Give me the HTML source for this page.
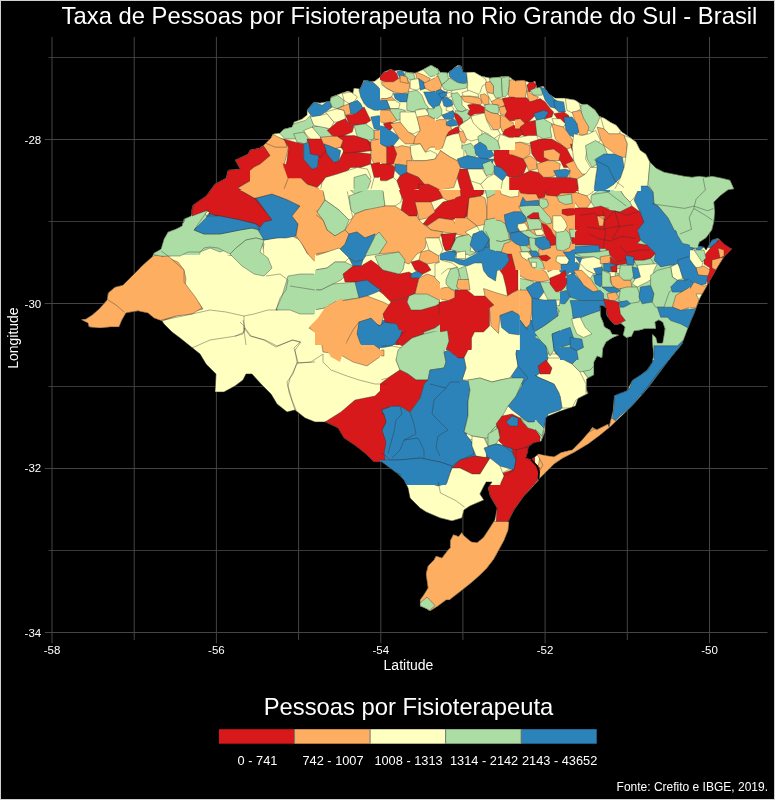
<!DOCTYPE html>
<html><head><meta charset="utf-8"><style>
html,body{margin:0;padding:0;background:#000;width:775px;height:800px;overflow:hidden}
svg{display:block;will-change:transform}
text{font-family:"Liberation Sans",sans-serif;fill:#fff}
</style></head><body>
<svg width="775" height="800" viewBox="0 0 775 800">
<rect x="0" y="0" width="775" height="800" fill="#000"/>
<rect x="0.5" y="0.5" width="774" height="799" fill="none" stroke="#d0d0d0" stroke-width="1"/>

<line x1="48.5" y1="57.5" x2="767.5" y2="57.5" stroke="#393939" stroke-width="1"/>
<line x1="44.8" y1="139.5" x2="767.5" y2="139.5" stroke="#444" stroke-width="1"/>
<line x1="48.5" y1="221.5" x2="767.5" y2="221.5" stroke="#393939" stroke-width="1"/>
<line x1="44.8" y1="303.5" x2="767.5" y2="303.5" stroke="#444" stroke-width="1"/>
<line x1="48.5" y1="386.5" x2="767.5" y2="386.5" stroke="#393939" stroke-width="1"/>
<line x1="44.8" y1="468.5" x2="767.5" y2="468.5" stroke="#444" stroke-width="1"/>
<line x1="48.5" y1="550.5" x2="767.5" y2="550.5" stroke="#393939" stroke-width="1"/>
<line x1="44.8" y1="632.5" x2="767.5" y2="632.5" stroke="#444" stroke-width="1"/>
<line x1="52.0" y1="37" x2="52.0" y2="643.3" stroke="#444" stroke-width="1"/>
<line x1="134.2" y1="37" x2="134.2" y2="640" stroke="#444" stroke-width="1"/>
<line x1="216.4" y1="37" x2="216.4" y2="643.3" stroke="#444" stroke-width="1"/>
<line x1="298.6" y1="37" x2="298.6" y2="640" stroke="#444" stroke-width="1"/>
<line x1="380.8" y1="37" x2="380.8" y2="643.3" stroke="#444" stroke-width="1"/>
<line x1="462.9" y1="37" x2="462.9" y2="640" stroke="#444" stroke-width="1"/>
<line x1="545.1" y1="37" x2="545.1" y2="643.3" stroke="#444" stroke-width="1"/>
<line x1="627.3" y1="37" x2="627.3" y2="640" stroke="#444" stroke-width="1"/>
<line x1="709.5" y1="37" x2="709.5" y2="643.3" stroke="#444" stroke-width="1"/>
<text x="41.2" y="143.7" font-size="11.5" text-anchor="end" fill="#ddd">-28</text>
<text x="41.2" y="308.0" font-size="11.5" text-anchor="end" fill="#ddd">-30</text>
<text x="41.2" y="472.4" font-size="11.5" text-anchor="end" fill="#ddd">-32</text>
<text x="41.2" y="636.7" font-size="11.5" text-anchor="end" fill="#ddd">-34</text>
<text x="52.0" y="654" font-size="11.5" text-anchor="middle" fill="#ddd">-58</text>
<text x="216.4" y="654" font-size="11.5" text-anchor="middle" fill="#ddd">-56</text>
<text x="380.8" y="654" font-size="11.5" text-anchor="middle" fill="#ddd">-54</text>
<text x="545.1" y="654" font-size="11.5" text-anchor="middle" fill="#ddd">-52</text>
<text x="709.5" y="654" font-size="11.5" text-anchor="middle" fill="#ddd">-50</text>
<text x="408.5" y="669.8" font-size="14" text-anchor="middle">Latitude</text>
<text transform="translate(17.5,338.1) rotate(-90)" x="0" y="0" font-size="14" text-anchor="middle">Longitude</text>
<text x="409.5" y="23.7" font-size="23.8" text-anchor="middle">Taxa de Pessoas por Fisioterapeuta no Rio Grande do Sul - Brasil</text>
<text x="408.5" y="715" font-size="23.8" text-anchor="middle">Pessoas por Fisioterapeuta</text>
<text x="768" y="791" font-size="12" text-anchor="end">Fonte: Crefito e IBGE, 2019.</text>
<rect x="219.00" y="729.2" width="75.54" height="14.5" fill="#d7191c"/>
<rect x="294.54" y="729.2" width="75.54" height="14.5" fill="#fdae61"/>
<rect x="370.08" y="729.2" width="75.54" height="14.5" fill="#ffffbf"/>
<rect x="445.62" y="729.2" width="75.54" height="14.5" fill="#abdda4"/>
<rect x="521.16" y="729.2" width="75.54" height="14.5" fill="#2b83ba"/>
<line x1="294.54" y1="729.2" x2="294.54" y2="743.7" stroke="#777" stroke-width="1"/>
<line x1="370.08" y1="729.2" x2="370.08" y2="743.7" stroke="#777" stroke-width="1"/>
<line x1="445.62" y1="729.2" x2="445.62" y2="743.7" stroke="#777" stroke-width="1"/>
<line x1="521.16" y1="729.2" x2="521.16" y2="743.7" stroke="#777" stroke-width="1"/>
<text x="257.47" y="764.8" font-size="12.8" text-anchor="middle">0 - 741</text>
<text x="333.01" y="764.8" font-size="12.8" text-anchor="middle">742 - 1007</text>
<text x="408.55" y="764.8" font-size="12.8" text-anchor="middle">1008 - 1313</text>
<text x="484.09" y="764.8" font-size="12.8" text-anchor="middle">1314 - 2142</text>
<text x="559.63" y="764.8" font-size="12.8" text-anchor="middle">2143 - 43652</text>
<defs><style>.s{fill:none;stroke:#333;stroke-width:0.4;stroke-linejoin:round}</style><clipPath id="st"><path d="M81.0,319.6 L86.0,319.0 L92.0,315.0 L99.0,309.0 L107.0,300.0 L108.0,293.0 L115.0,287.0 L123.0,285.0 L132.0,276.0 L143.0,265.0 L152.0,257.0 L154.0,253.0 L161.0,249.0 L164.0,239.0 L168.0,232.0 L176.0,229.0 L182.0,226.0 L184.0,219.0 L191.0,216.0 L192.0,208.0 L193.0,205.0 L206.0,196.0 L215.0,184.0 L226.0,178.0 L228.0,170.0 L240.0,169.0 L235.0,160.0 L248.0,154.0 L250.0,150.0 L260.0,148.0 L264.0,145.0 L271.0,138.0 L273.0,134.0 L280.0,133.0 L284.0,129.0 L292.0,127.0 L294.0,122.0 L302.0,119.0 L307.0,115.0 L307.0,110.0 L314.0,102.0 L320.0,103.0 L330.0,101.0 L331.0,97.0 L342.0,93.0 L348.0,91.0 L353.0,93.0 L354.0,88.0 L360.0,89.0 L364.0,80.0 L369.0,81.0 L375.0,81.0 L380.0,77.0 L384.0,72.0 L391.0,69.0 L394.0,71.0 L399.0,70.0 L407.0,72.0 L415.0,73.0 L422.0,70.0 L424.0,69.0 L431.0,65.0 L438.0,69.0 L440.0,72.0 L448.0,73.0 L458.0,65.0 L461.0,66.0 L463.0,72.0 L467.0,72.0 L474.0,72.0 L481.0,76.0 L490.0,78.0 L499.0,77.0 L508.0,76.0 L515.0,81.0 L523.0,80.0 L531.0,83.0 L535.0,81.0 L537.0,88.0 L543.0,86.0 L549.0,94.0 L555.0,98.0 L564.0,98.0 L575.0,100.0 L581.0,104.0 L587.0,104.0 L595.0,110.0 L599.0,116.0 L604.0,118.0 L610.0,122.0 L616.0,125.0 L622.0,132.0 L628.0,136.0 L636.0,142.0 L640.0,150.0 L646.0,154.0 L650.0,162.0 L656.0,168.0 L664.0,172.0 L674.0,174.0 L684.0,176.0 L692.0,177.0 L699.0,176.0 L706.0,177.0 L712.0,176.0 L722.0,178.0 L730.0,180.0 L734.0,189.0 L728.0,190.0 L720.0,196.0 L714.0,202.0 L715.0,212.0 L714.0,222.0 L712.0,230.0 L706.0,238.0 L700.0,242.0 L698.0,246.0 L704.0,247.0 L706.0,250.0 L712.0,240.0 L718.0,238.0 L724.0,244.0 L730.0,248.0 L732.0,249.0 L724.0,257.0 L716.0,270.0 L708.0,284.0 L700.0,298.0 L694.0,314.0 L688.0,328.0 L682.0,344.0 L672.0,356.0 L660.0,372.0 L648.0,388.0 L632.0,406.0 L610.8,426.3 L599.5,435.5 L588.1,444.0 L573.9,452.5 L562.6,458.2 L554.1,463.9 L545.5,472.4 L538.5,479.5 L539.0,480.0 L524.0,496.0 L514.0,510.0 L508.0,522.0 L509.2,520.0 L508.1,530.3 L504.0,540.6 L498.8,549.9 L493.7,559.2 L486.5,568.5 L479.2,575.7 L471.0,583.0 L460.6,591.2 L449.3,600.0 L446.0,600.0 L438.0,606.0 L430.0,611.0 L427.0,609.0 L420.0,606.0 L420.0,600.0 L423.0,596.0 L428.0,588.0 L426.0,574.0 L428.0,566.0 L434.0,560.0 L436.0,556.0 L442.0,558.0 L448.0,550.0 L450.3,547.9 L450.3,540.6 L453.4,534.5 L458.6,536.5 L461.7,532.4 L463.7,535.5 L471.0,541.7 L477.2,542.7 L483.4,537.5 L489.5,528.3 L494.7,520.0 L497.0,508.0 L490.0,496.0 L488.0,488.0 L492.0,482.0 L486.0,482.0 L480.0,494.0 L484.0,500.0 L470.0,506.0 L464.0,510.0 L462.0,518.0 L452.0,521.0 L440.0,518.0 L426.0,512.0 L420.0,508.0 L418.0,506.0 L410.0,498.0 L408.0,488.0 L404.0,480.0 L398.0,474.0 L390.0,468.0 L382.0,462.0 L374.0,462.0 L366.0,454.0 L356.0,446.0 L344.0,438.0 L338.0,428.0 L325.0,422.0 L325.0,422.0 L315.0,422.0 L305.0,418.0 L295.0,410.0 L287.0,412.0 L277.0,404.0 L271.0,394.0 L261.0,384.0 L252.0,374.0 L246.0,374.0 L243.0,380.0 L235.0,386.0 L224.0,392.0 L215.0,392.0 L216.0,374.0 L206.0,364.0 L200.0,354.0 L190.0,346.0 L180.0,338.0 L172.0,332.0 L164.0,324.0 L162.0,321.0 L154.0,318.0 L148.0,313.0 L138.0,311.0 L126.0,313.0 L122.0,320.0 L119.0,327.0 L110.0,327.0 L100.0,328.0 L89.0,327.0 L88.0,323.0Z M600.0,305.5 L603.0,305.5 L606.0,308.0 L607.0,316.0 L611.0,321.0 L615.0,325.0 L621.0,323.5 L625.0,327.0 L624.0,331.0 L623.0,335.0 L626.5,337.7 L631.6,336.5 L634.0,331.0 L640.6,330.0 L644.5,328.7 L650.0,328.7 L656.0,328.7 L655.0,322.0 L658.7,320.0 L662.6,322.0 L665.0,328.7 L664.0,335.0 L662.6,343.0 L657.4,343.0 L656.0,337.7 L652.3,334.0 L652.3,341.6 L653.5,354.5 L652.3,362.3 L647.0,370.0 L640.6,375.0 L632.3,380.3 L627.1,390.6 L614.2,395.8 L612.9,411.3 L609.0,426.8 L608.0,424.1 L596.7,429.8 L592.4,427.0 L589.6,431.2 L581.0,441.2 L572.5,449.7 L561.2,452.5 L554.1,456.8 L545.5,455.4 L538.5,453.9 L531.4,459.6 L525.7,458.2 L527.1,453.9 L528.5,446.8 L534.2,442.6 L541.3,441.2 L544.8,432.6 L545.5,418.5 L547.1,416.5 L560.0,411.3 L575.5,406.1 L578.1,398.4 L588.4,393.2 L586.5,390.0 L586.5,379.0 L594.0,375.0 L594.0,362.0 L597.0,356.0 L602.0,358.0 L603.0,348.0 L606.0,342.0 L612.0,338.0 L619.0,335.0 L612.0,334.0 L610.0,330.0 L604.5,327.0 L603.0,322.0 L600.6,316.0Z" clip-rule="evenodd"/></clipPath><clipPath id="t0"><rect x="81.2" y="201.2" width="152.6" height="152.6"/></clipPath><clipPath id="t1"><rect x="181.2" y="101.2" width="152.6" height="152.6"/></clipPath><clipPath id="t2"><rect x="301.2" y="41.2" width="152.6" height="152.6"/></clipPath><clipPath id="t3"><rect x="456.2" y="41.2" width="152.6" height="152.6"/></clipPath><clipPath id="t4"><rect x="601.2" y="101.2" width="152.6" height="152.6"/></clipPath><clipPath id="t5"><rect x="601.2" y="241.2" width="152.6" height="152.6"/></clipPath><clipPath id="t6"><rect x="521.2" y="321.2" width="152.6" height="152.6"/></clipPath><clipPath id="t7"><rect x="481.2" y="241.2" width="152.6" height="152.6"/></clipPath><clipPath id="t8"><rect x="421.2" y="421.2" width="152.6" height="152.6"/></clipPath><clipPath id="t9"><rect x="381.2" y="541.2" width="152.6" height="152.6"/></clipPath><clipPath id="t10"><rect x="291.2" y="421.2" width="152.6" height="152.6"/></clipPath><clipPath id="t11"><rect x="236.2" y="321.2" width="152.6" height="152.6"/></clipPath><clipPath id="t12"><rect x="161.2" y="191.2" width="152.6" height="152.6"/></clipPath><clipPath id="t13"><rect x="316.2" y="191.2" width="152.6" height="152.6"/></clipPath><clipPath id="t14"><rect x="456.2" y="181.2" width="152.6" height="152.6"/></clipPath><clipPath id="t15"><rect x="381.2" y="331.2" width="152.6" height="152.6"/></clipPath><clipPath id="t17"><rect x="441.2" y="231.2" width="77.546002699865" height="117.594000299985"/></clipPath><clipPath id="t18"><rect x="251.2" y="61.2" width="127.63355704697986" height="127.63355704697986"/></clipPath><clipPath id="t19"><rect x="381.2" y="61.2" width="127.63355704697986" height="127.63355704697986"/></clipPath><clipPath id="t20"><rect x="511.2" y="61.2" width="127.63355704697986" height="127.63355704697986"/></clipPath><clipPath id="t21"><rect x="561.2" y="231.2" width="127.63355704697986" height="127.63355704697986"/></clipPath><clipPath id="t22"><rect x="436.2" y="61.2" width="77.6" height="87.61406469760901"/></clipPath><clipPath id="t23"><rect x="496.2" y="191.2" width="77.6" height="77.6"/></clipPath></defs>
<path d="M81.0,319.6 L86.0,319.0 L92.0,315.0 L99.0,309.0 L107.0,300.0 L108.0,293.0 L115.0,287.0 L123.0,285.0 L132.0,276.0 L143.0,265.0 L152.0,257.0 L154.0,253.0 L161.0,249.0 L164.0,239.0 L168.0,232.0 L176.0,229.0 L182.0,226.0 L184.0,219.0 L191.0,216.0 L192.0,208.0 L193.0,205.0 L206.0,196.0 L215.0,184.0 L226.0,178.0 L228.0,170.0 L240.0,169.0 L235.0,160.0 L248.0,154.0 L250.0,150.0 L260.0,148.0 L264.0,145.0 L271.0,138.0 L273.0,134.0 L280.0,133.0 L284.0,129.0 L292.0,127.0 L294.0,122.0 L302.0,119.0 L307.0,115.0 L307.0,110.0 L314.0,102.0 L320.0,103.0 L330.0,101.0 L331.0,97.0 L342.0,93.0 L348.0,91.0 L353.0,93.0 L354.0,88.0 L360.0,89.0 L364.0,80.0 L369.0,81.0 L375.0,81.0 L380.0,77.0 L384.0,72.0 L391.0,69.0 L394.0,71.0 L399.0,70.0 L407.0,72.0 L415.0,73.0 L422.0,70.0 L424.0,69.0 L431.0,65.0 L438.0,69.0 L440.0,72.0 L448.0,73.0 L458.0,65.0 L461.0,66.0 L463.0,72.0 L467.0,72.0 L474.0,72.0 L481.0,76.0 L490.0,78.0 L499.0,77.0 L508.0,76.0 L515.0,81.0 L523.0,80.0 L531.0,83.0 L535.0,81.0 L537.0,88.0 L543.0,86.0 L549.0,94.0 L555.0,98.0 L564.0,98.0 L575.0,100.0 L581.0,104.0 L587.0,104.0 L595.0,110.0 L599.0,116.0 L604.0,118.0 L610.0,122.0 L616.0,125.0 L622.0,132.0 L628.0,136.0 L636.0,142.0 L640.0,150.0 L646.0,154.0 L650.0,162.0 L656.0,168.0 L664.0,172.0 L674.0,174.0 L684.0,176.0 L692.0,177.0 L699.0,176.0 L706.0,177.0 L712.0,176.0 L722.0,178.0 L730.0,180.0 L734.0,189.0 L728.0,190.0 L720.0,196.0 L714.0,202.0 L715.0,212.0 L714.0,222.0 L712.0,230.0 L706.0,238.0 L700.0,242.0 L698.0,246.0 L704.0,247.0 L706.0,250.0 L712.0,240.0 L718.0,238.0 L724.0,244.0 L730.0,248.0 L732.0,249.0 L724.0,257.0 L716.0,270.0 L708.0,284.0 L700.0,298.0 L694.0,314.0 L688.0,328.0 L682.0,344.0 L672.0,356.0 L660.0,372.0 L648.0,388.0 L632.0,406.0 L610.8,426.3 L599.5,435.5 L588.1,444.0 L573.9,452.5 L562.6,458.2 L554.1,463.9 L545.5,472.4 L538.5,479.5 L539.0,480.0 L524.0,496.0 L514.0,510.0 L508.0,522.0 L509.2,520.0 L508.1,530.3 L504.0,540.6 L498.8,549.9 L493.7,559.2 L486.5,568.5 L479.2,575.7 L471.0,583.0 L460.6,591.2 L449.3,600.0 L446.0,600.0 L438.0,606.0 L430.0,611.0 L427.0,609.0 L420.0,606.0 L420.0,600.0 L423.0,596.0 L428.0,588.0 L426.0,574.0 L428.0,566.0 L434.0,560.0 L436.0,556.0 L442.0,558.0 L448.0,550.0 L450.3,547.9 L450.3,540.6 L453.4,534.5 L458.6,536.5 L461.7,532.4 L463.7,535.5 L471.0,541.7 L477.2,542.7 L483.4,537.5 L489.5,528.3 L494.7,520.0 L497.0,508.0 L490.0,496.0 L488.0,488.0 L492.0,482.0 L486.0,482.0 L480.0,494.0 L484.0,500.0 L470.0,506.0 L464.0,510.0 L462.0,518.0 L452.0,521.0 L440.0,518.0 L426.0,512.0 L420.0,508.0 L418.0,506.0 L410.0,498.0 L408.0,488.0 L404.0,480.0 L398.0,474.0 L390.0,468.0 L382.0,462.0 L374.0,462.0 L366.0,454.0 L356.0,446.0 L344.0,438.0 L338.0,428.0 L325.0,422.0 L325.0,422.0 L315.0,422.0 L305.0,418.0 L295.0,410.0 L287.0,412.0 L277.0,404.0 L271.0,394.0 L261.0,384.0 L252.0,374.0 L246.0,374.0 L243.0,380.0 L235.0,386.0 L224.0,392.0 L215.0,392.0 L216.0,374.0 L206.0,364.0 L200.0,354.0 L190.0,346.0 L180.0,338.0 L172.0,332.0 L164.0,324.0 L162.0,321.0 L154.0,318.0 L148.0,313.0 L138.0,311.0 L126.0,313.0 L122.0,320.0 L119.0,327.0 L110.0,327.0 L100.0,328.0 L89.0,327.0 L88.0,323.0Z M600.0,305.5 L603.0,305.5 L606.0,308.0 L607.0,316.0 L611.0,321.0 L615.0,325.0 L621.0,323.5 L625.0,327.0 L624.0,331.0 L623.0,335.0 L626.5,337.7 L631.6,336.5 L634.0,331.0 L640.6,330.0 L644.5,328.7 L650.0,328.7 L656.0,328.7 L655.0,322.0 L658.7,320.0 L662.6,322.0 L665.0,328.7 L664.0,335.0 L662.6,343.0 L657.4,343.0 L656.0,337.7 L652.3,334.0 L652.3,341.6 L653.5,354.5 L652.3,362.3 L647.0,370.0 L640.6,375.0 L632.3,380.3 L627.1,390.6 L614.2,395.8 L612.9,411.3 L609.0,426.8 L608.0,424.1 L596.7,429.8 L592.4,427.0 L589.6,431.2 L581.0,441.2 L572.5,449.7 L561.2,452.5 L554.1,456.8 L545.5,455.4 L538.5,453.9 L531.4,459.6 L525.7,458.2 L527.1,453.9 L528.5,446.8 L534.2,442.6 L541.3,441.2 L544.8,432.6 L545.5,418.5 L547.1,416.5 L560.0,411.3 L575.5,406.1 L578.1,398.4 L588.4,393.2 L586.5,390.0 L586.5,379.0 L594.0,375.0 L594.0,362.0 L597.0,356.0 L602.0,358.0 L603.0,348.0 L606.0,342.0 L612.0,338.0 L619.0,335.0 L612.0,334.0 L610.0,330.0 L604.5,327.0 L603.0,322.0 L600.6,316.0Z" fill="#ffffbf" fill-rule="evenodd"/>
<g clip-path="url(#st)">
<polygon points="80.0,319.6 92.0,315.0 99.0,309.0 107.0,300.0 108.0,293.0 115.0,287.0 123.0,285.0 132.0,276.0 143.0,265.0 152.0,257.0 155.0,255.0 166.0,257.0 178.0,262.0 184.0,270.0 186.0,279.0 185.0,286.0 190.0,294.0 198.0,302.0 203.0,309.0 192.0,312.0 176.0,316.0 162.0,321.0 154.0,318.0 148.0,313.0 138.0,311.0 126.0,313.0 122.0,320.0 119.0,328.0 100.0,330.0 89.0,328.0 80.0,324.0" fill="#fdae61"/><polygon points="80.0,319.6 92.0,315.0 99.0,309.0 107.0,300.0 108.0,293.0 115.0,287.0 123.0,285.0 132.0,276.0 143.0,265.0 152.0,257.0 155.0,255.0 166.0,257.0 178.0,262.0 184.0,270.0 186.0,279.0 185.0,286.0 190.0,294.0 198.0,302.0 203.0,309.0 192.0,312.0 176.0,316.0 162.0,321.0 154.0,318.0 148.0,313.0 138.0,311.0 126.0,313.0 122.0,320.0 119.0,328.0 100.0,330.0 89.0,328.0 80.0,324.0" class="s" clip-path="url(#t0)"/>
<polygon points="150.0,254.0 161.0,249.0 164.0,239.0 168.0,232.0 182.0,226.0 184.0,219.0 191.0,216.0 200.0,212.0 208.0,210.0 195.0,229.0 202.0,234.0 224.0,234.0 235.0,232.0 235.0,256.0 228.0,255.0 220.0,251.0 212.0,247.0 204.0,249.0 196.0,253.0 188.0,254.0 176.0,254.0 166.0,257.0 155.0,255.0" fill="#abdda4"/><polygon points="150.0,254.0 161.0,249.0 164.0,239.0 168.0,232.0 182.0,226.0 184.0,219.0 191.0,216.0 200.0,212.0 208.0,210.0 195.0,229.0 202.0,234.0 224.0,234.0 235.0,232.0 235.0,256.0 228.0,255.0 220.0,251.0 212.0,247.0 204.0,249.0 196.0,253.0 188.0,254.0 176.0,254.0 166.0,257.0 155.0,255.0" class="s" clip-path="url(#t0)"/>
<polygon points="195.0,229.0 210.0,212.0 220.0,216.0 235.0,220.0 235.0,232.0 224.0,234.0 202.0,234.0" fill="#2b83ba"/><polygon points="195.0,229.0 210.0,212.0 220.0,216.0 235.0,220.0 235.0,232.0 224.0,234.0 202.0,234.0" class="s" clip-path="url(#t0)"/>
<polygon points="191.0,216.0 192.0,208.0 200.0,202.0 204.0,200.0 235.0,200.0 235.0,220.0 220.0,216.0 210.0,212.0 208.0,210.0 200.0,212.0" fill="#d7191c"/><polygon points="191.0,216.0 192.0,208.0 200.0,202.0 204.0,200.0 235.0,200.0 235.0,220.0 220.0,216.0 210.0,212.0 208.0,210.0 200.0,212.0" class="s" clip-path="url(#t0)"/>
<polygon points="180.0,222.0 184.0,218.0 192.0,216.0 204.0,210.0 208.0,220.0 195.0,229.0 204.0,234.0 250.0,232.0 260.0,236.0 264.0,244.0 262.0,255.0 180.0,255.0" fill="#abdda4"/><polygon points="180.0,222.0 184.0,218.0 192.0,216.0 204.0,210.0 208.0,220.0 195.0,229.0 204.0,234.0 250.0,232.0 260.0,236.0 264.0,244.0 262.0,255.0 180.0,255.0" class="s" clip-path="url(#t1)"/>
<polygon points="200.0,255.0 200.0,252.0 210.0,248.0 220.0,252.0 230.0,248.0 246.0,244.0 262.0,240.0 264.0,255.0" fill="#ffffbf"/><polygon points="200.0,255.0 200.0,252.0 210.0,248.0 220.0,252.0 230.0,248.0 246.0,244.0 262.0,240.0 264.0,255.0" class="s" clip-path="url(#t1)"/>
<polygon points="188.0,218.0 193.0,205.0 206.0,196.0 215.0,184.0 226.0,178.0 228.0,170.0 240.0,169.0 235.0,160.0 248.0,154.0 250.0,150.0 260.0,148.0 264.0,145.0 272.0,152.0 271.0,160.0 264.0,164.0 260.0,160.0 256.0,168.0 255.0,178.0 238.0,188.0 255.0,198.0 268.0,210.0 273.0,220.0 262.0,228.0 256.0,224.0 234.0,220.0 216.0,216.0 210.0,212.0 204.0,210.0" fill="#d7191c"/><polygon points="188.0,218.0 193.0,205.0 206.0,196.0 215.0,184.0 226.0,178.0 228.0,170.0 240.0,169.0 235.0,160.0 248.0,154.0 250.0,150.0 260.0,148.0 264.0,145.0 272.0,152.0 271.0,160.0 264.0,164.0 260.0,160.0 256.0,168.0 255.0,178.0 238.0,188.0 255.0,198.0 268.0,210.0 273.0,220.0 262.0,228.0 256.0,224.0 234.0,220.0 216.0,216.0 210.0,212.0 204.0,210.0" class="s" clip-path="url(#t1)"/>
<polygon points="238.0,188.0 255.0,178.0 256.0,168.0 260.0,160.0 264.0,164.0 271.0,160.0 272.0,152.0 264.0,145.0 271.0,138.0 280.0,140.0 286.0,148.0 292.0,160.0 284.0,168.0 283.0,178.0 300.0,176.0 310.0,188.0 320.0,188.0 326.0,194.0 320.0,202.0 308.0,208.0 300.0,206.0 284.0,196.0 278.0,192.0 268.0,194.0 256.0,198.0 255.0,198.0" fill="#fdae61"/><polygon points="238.0,188.0 255.0,178.0 256.0,168.0 260.0,160.0 264.0,164.0 271.0,160.0 272.0,152.0 264.0,145.0 271.0,138.0 280.0,140.0 286.0,148.0 292.0,160.0 284.0,168.0 283.0,178.0 300.0,176.0 310.0,188.0 320.0,188.0 326.0,194.0 320.0,202.0 308.0,208.0 300.0,206.0 284.0,196.0 278.0,192.0 268.0,194.0 256.0,198.0 255.0,198.0" class="s" clip-path="url(#t1)"/>
<polygon points="255.0,198.0 268.0,194.0 280.0,196.0 292.0,204.0 300.0,206.0 292.0,214.0 288.0,218.0 276.0,220.0 273.0,220.0 268.0,210.0" fill="#2b83ba"/><polygon points="255.0,198.0 268.0,194.0 280.0,196.0 292.0,204.0 300.0,206.0 292.0,214.0 288.0,218.0 276.0,220.0 273.0,220.0 268.0,210.0" class="s" clip-path="url(#t1)"/>
<polygon points="195.0,229.0 208.0,220.0 210.0,212.0 216.0,216.0 234.0,220.0 256.0,224.0 262.0,228.0 273.0,220.0 276.0,220.0 288.0,218.0 298.0,220.0 300.0,226.0 292.0,236.0 276.0,238.0 264.0,240.0 256.0,236.0 250.0,232.0 204.0,234.0" fill="#2b83ba"/><polygon points="195.0,229.0 208.0,220.0 210.0,212.0 216.0,216.0 234.0,220.0 256.0,224.0 262.0,228.0 273.0,220.0 276.0,220.0 288.0,218.0 298.0,220.0 300.0,226.0 292.0,236.0 276.0,238.0 264.0,240.0 256.0,236.0 250.0,232.0 204.0,234.0" class="s" clip-path="url(#t1)"/>
<polygon points="292.0,214.0 300.0,206.0 308.0,208.0 320.0,202.0 328.0,210.0 335.0,222.0 335.0,255.0 308.0,255.0 300.0,240.0 292.0,236.0 300.0,226.0" fill="#fdae61"/><polygon points="292.0,214.0 300.0,206.0 308.0,208.0 320.0,202.0 328.0,210.0 335.0,222.0 335.0,255.0 308.0,255.0 300.0,240.0 292.0,236.0 300.0,226.0" class="s" clip-path="url(#t1)"/>
<polygon points="320.0,202.0 326.0,194.0 335.0,192.0 335.0,222.0 328.0,210.0" fill="#abdda4"/><polygon points="320.0,202.0 326.0,194.0 335.0,192.0 335.0,222.0 328.0,210.0" class="s" clip-path="url(#t1)"/>
<polygon points="283.0,168.0 292.0,160.0 300.0,166.0 304.0,160.0 310.0,156.0 320.0,158.0 328.0,160.0 335.0,160.0 335.0,176.0 324.0,188.0 316.0,188.0 300.0,176.0" fill="#d7191c"/><polygon points="283.0,168.0 292.0,160.0 300.0,166.0 304.0,160.0 310.0,156.0 320.0,158.0 328.0,160.0 335.0,160.0 335.0,176.0 324.0,188.0 316.0,188.0 300.0,176.0" class="s" clip-path="url(#t1)"/>
<polygon points="302.0,156.0 308.0,144.0 310.0,152.0 318.0,158.0 316.0,168.0 308.0,168.0" fill="#2b83ba"/><polygon points="302.0,156.0 308.0,144.0 310.0,152.0 318.0,158.0 316.0,168.0 308.0,168.0" class="s" clip-path="url(#t1)"/>
<polygon points="271.0,138.0 276.0,135.0 286.0,140.0 292.0,143.0 302.0,143.0 310.0,142.0 320.0,144.0 326.0,150.0 335.0,156.0 335.0,160.0 328.0,160.0 320.0,158.0 310.0,156.0 304.0,160.0 300.0,166.0 292.0,160.0 286.0,148.0" fill="#d7191c"/><polygon points="271.0,138.0 276.0,135.0 286.0,140.0 292.0,143.0 302.0,143.0 310.0,142.0 320.0,144.0 326.0,150.0 335.0,156.0 335.0,160.0 328.0,160.0 320.0,158.0 310.0,156.0 304.0,160.0 300.0,166.0 292.0,160.0 286.0,148.0" class="s" clip-path="url(#t1)"/>
<polygon points="273.0,134.0 280.0,133.0 284.0,129.0 292.0,127.0 294.0,122.0 302.0,119.0 308.0,116.0 312.0,120.0 320.0,126.0 324.0,138.0 320.0,144.0 310.0,142.0 302.0,143.0 292.0,143.0 286.0,140.0 276.0,135.0" fill="#abdda4"/><polygon points="273.0,134.0 280.0,133.0 284.0,129.0 292.0,127.0 294.0,122.0 302.0,119.0 308.0,116.0 312.0,120.0 320.0,126.0 324.0,138.0 320.0,144.0 310.0,142.0 302.0,143.0 292.0,143.0 286.0,140.0 276.0,135.0" class="s" clip-path="url(#t1)"/>
<polygon points="307.0,110.0 314.0,102.0 320.0,103.0 326.0,100.0 335.0,100.0 335.0,108.0 326.0,111.0 320.0,118.0 312.0,116.0" fill="#2b83ba"/><polygon points="307.0,110.0 314.0,102.0 320.0,103.0 326.0,100.0 335.0,100.0 335.0,108.0 326.0,111.0 320.0,118.0 312.0,116.0" class="s" clip-path="url(#t1)"/>
<polygon points="312.0,120.0 320.0,118.0 326.0,111.0 335.0,108.0 335.0,128.0 328.0,128.0 324.0,138.0 320.0,126.0" fill="#ffffbf"/><polygon points="312.0,120.0 320.0,118.0 326.0,111.0 335.0,108.0 335.0,128.0 328.0,128.0 324.0,138.0 320.0,126.0" class="s" clip-path="url(#t1)"/>
<polygon points="326.0,130.0 335.0,126.0 335.0,138.0 328.0,135.0" fill="#d7191c"/><polygon points="326.0,130.0 335.0,126.0 335.0,138.0 328.0,135.0" class="s" clip-path="url(#t1)"/>
<polygon points="324.0,146.0 332.0,144.0 335.0,146.0 335.0,158.0 328.0,154.0" fill="#2b83ba"/><polygon points="324.0,146.0 332.0,144.0 335.0,146.0 335.0,158.0 328.0,154.0" class="s" clip-path="url(#t1)"/>
<polygon points="324.0,188.0 335.0,176.0 335.0,192.0 326.0,194.0" fill="#ffffbf"/><polygon points="324.0,188.0 335.0,176.0 335.0,192.0 326.0,194.0" class="s" clip-path="url(#t1)"/>
<polygon points="306.0,112.0 314.0,104.0 324.0,100.0 328.0,106.0 326.0,114.0 318.0,118.0 310.0,114.0" fill="#2b83ba"/><polygon points="306.0,112.0 314.0,104.0 324.0,100.0 328.0,106.0 326.0,114.0 318.0,118.0 310.0,114.0" class="s" clip-path="url(#t2)"/>
<polygon points="328.0,100.0 342.0,96.0 344.0,104.0 334.0,108.0 328.0,106.0" fill="#abdda4"/><polygon points="328.0,100.0 342.0,96.0 344.0,104.0 334.0,108.0 328.0,106.0" class="s" clip-path="url(#t2)"/>
<polygon points="340.0,93.0 354.0,87.0 360.0,97.0 350.0,102.0 344.0,104.0" fill="#ffffbf"/><polygon points="340.0,93.0 354.0,87.0 360.0,97.0 350.0,102.0 344.0,104.0" class="s" clip-path="url(#t2)"/>
<polygon points="350.0,102.0 360.0,88.0 366.0,79.0 376.0,86.0 380.0,92.0 388.0,102.0 384.0,108.0 372.0,109.0 358.0,112.0 348.0,108.0" fill="#2b83ba"/><polygon points="350.0,102.0 360.0,88.0 366.0,79.0 376.0,86.0 380.0,92.0 388.0,102.0 384.0,108.0 372.0,109.0 358.0,112.0 348.0,108.0" class="s" clip-path="url(#t2)"/>
<polygon points="374.0,80.0 384.0,82.0 390.0,90.0 394.0,100.0 388.0,102.0 380.0,92.0 376.0,86.0" fill="#ffffbf"/><polygon points="374.0,80.0 384.0,82.0 390.0,90.0 394.0,100.0 388.0,102.0 380.0,92.0 376.0,86.0" class="s" clip-path="url(#t2)"/>
<polygon points="379.0,77.0 386.0,71.0 392.0,68.0 398.0,76.0 394.0,84.0 388.0,83.0" fill="#d7191c"/><polygon points="379.0,77.0 386.0,71.0 392.0,68.0 398.0,76.0 394.0,84.0 388.0,83.0" class="s" clip-path="url(#t2)"/>
<polygon points="392.0,86.0 400.0,80.0 408.0,76.0 412.0,88.0 406.0,94.0 394.0,94.0" fill="#fdae61"/><polygon points="392.0,86.0 400.0,80.0 408.0,76.0 412.0,88.0 406.0,94.0 394.0,94.0" class="s" clip-path="url(#t2)"/>
<polygon points="397.0,70.0 404.0,74.0 400.0,80.0 398.0,76.0" fill="#2b83ba"/><polygon points="397.0,70.0 404.0,74.0 400.0,80.0 398.0,76.0" class="s" clip-path="url(#t2)"/>
<polygon points="404.0,73.0 412.0,72.0 418.0,80.0 414.0,86.0" fill="#abdda4"/><polygon points="404.0,73.0 412.0,72.0 418.0,80.0 414.0,86.0" class="s" clip-path="url(#t2)"/>
<polygon points="416.0,73.0 428.0,76.0 440.0,80.0 440.0,88.0 432.0,92.0 424.0,86.0" fill="#fdae61"/><polygon points="416.0,73.0 428.0,76.0 440.0,80.0 440.0,88.0 432.0,92.0 424.0,86.0" class="s" clip-path="url(#t2)"/>
<polygon points="421.0,70.0 432.0,64.0 439.0,70.0 434.0,76.0 428.0,76.0" fill="#abdda4"/><polygon points="421.0,70.0 432.0,64.0 439.0,70.0 434.0,76.0 428.0,76.0" class="s" clip-path="url(#t2)"/>
<polygon points="438.0,74.0 448.0,72.0 452.0,80.0 448.0,86.0 440.0,84.0" fill="#abdda4"/><polygon points="438.0,74.0 448.0,72.0 452.0,80.0 448.0,86.0 440.0,84.0" class="s" clip-path="url(#t2)"/>
<polygon points="449.0,69.0 455.0,68.0 455.0,80.0 452.0,80.0" fill="#2b83ba"/><polygon points="449.0,69.0 455.0,68.0 455.0,80.0 452.0,80.0" class="s" clip-path="url(#t2)"/>
<polygon points="424.0,94.0 436.0,90.0 440.0,98.0 438.0,106.0 430.0,106.0 426.0,100.0" fill="#2b83ba"/><polygon points="424.0,94.0 436.0,90.0 440.0,98.0 438.0,106.0 430.0,106.0 426.0,100.0" class="s" clip-path="url(#t2)"/>
<polygon points="408.0,94.0 418.0,96.0 424.0,104.0 418.0,108.0 412.0,112.0 404.0,106.0" fill="#abdda4"/><polygon points="408.0,94.0 418.0,96.0 424.0,104.0 418.0,108.0 412.0,112.0 404.0,106.0" class="s" clip-path="url(#t2)"/>
<polygon points="394.0,100.0 404.0,100.0 404.0,108.0 396.0,110.0" fill="#ffffbf"/><polygon points="394.0,100.0 404.0,100.0 404.0,108.0 396.0,110.0" class="s" clip-path="url(#t2)"/>
<polygon points="396.0,94.0 408.0,94.0 406.0,102.0 398.0,100.0" fill="#2b83ba"/><polygon points="396.0,94.0 408.0,94.0 406.0,102.0 398.0,100.0" class="s" clip-path="url(#t2)"/>
<polygon points="436.0,98.0 444.0,100.0 442.0,114.0 438.0,120.0 432.0,116.0 430.0,106.0" fill="#abdda4"/><polygon points="436.0,98.0 444.0,100.0 442.0,114.0 438.0,120.0 432.0,116.0 430.0,106.0" class="s" clip-path="url(#t2)"/>
<polygon points="440.0,88.0 455.0,84.0 455.0,100.0 444.0,100.0" fill="#2b83ba"/><polygon points="440.0,88.0 455.0,84.0 455.0,100.0 444.0,100.0" class="s" clip-path="url(#t2)"/>
<polygon points="444.0,94.0 452.0,92.0 450.0,100.0" fill="#ffffbf"/><polygon points="444.0,94.0 452.0,92.0 450.0,100.0" class="s" clip-path="url(#t2)"/>
<polygon points="440.0,116.0 448.0,110.0 455.0,112.0 455.0,124.0 448.0,126.0" fill="#2b83ba"/><polygon points="440.0,116.0 448.0,110.0 455.0,112.0 455.0,124.0 448.0,126.0" class="s" clip-path="url(#t2)"/>
<polygon points="416.0,108.0 426.0,108.0 428.0,116.0 420.0,118.0 416.0,114.0" fill="#ffffbf"/><polygon points="416.0,108.0 426.0,108.0 428.0,116.0 420.0,118.0 416.0,114.0" class="s" clip-path="url(#t2)"/>
<polygon points="312.0,120.0 326.0,116.0 332.0,124.0 330.0,130.0 316.0,128.0" fill="#ffffbf"/><polygon points="312.0,120.0 326.0,116.0 332.0,124.0 330.0,130.0 316.0,128.0" class="s" clip-path="url(#t2)"/>
<polygon points="326.0,112.0 340.0,108.0 344.0,116.0 340.0,122.0 332.0,120.0" fill="#ffffbf"/><polygon points="326.0,112.0 340.0,108.0 344.0,116.0 340.0,122.0 332.0,120.0" class="s" clip-path="url(#t2)"/>
<polygon points="300.0,122.0 308.0,116.0 312.0,120.0 308.0,134.0 300.0,134.0" fill="#abdda4"/><polygon points="300.0,122.0 308.0,116.0 312.0,120.0 308.0,134.0 300.0,134.0" class="s" clip-path="url(#t2)"/>
<polygon points="304.0,134.0 312.0,128.0 320.0,134.0 318.0,142.0 310.0,140.0" fill="#ffffbf"/><polygon points="304.0,134.0 312.0,128.0 320.0,134.0 318.0,142.0 310.0,140.0" class="s" clip-path="url(#t2)"/>
<polygon points="312.0,128.0 324.0,124.0 330.0,134.0 326.0,140.0 318.0,140.0" fill="#abdda4"/><polygon points="312.0,128.0 324.0,124.0 330.0,134.0 326.0,140.0 318.0,140.0" class="s" clip-path="url(#t2)"/>
<polygon points="326.0,132.0 348.0,118.0 346.0,110.0 366.0,108.0 370.0,120.0 360.0,124.0 354.0,128.0 364.0,136.0 374.0,144.0 370.0,152.0 358.0,152.0 342.0,152.0 340.0,146.0 334.0,140.0" fill="#d7191c"/><polygon points="326.0,132.0 348.0,118.0 346.0,110.0 366.0,108.0 370.0,120.0 360.0,124.0 354.0,128.0 364.0,136.0 374.0,144.0 370.0,152.0 358.0,152.0 342.0,152.0 340.0,146.0 334.0,140.0" class="s" clip-path="url(#t2)"/>
<polygon points="354.0,128.0 360.0,124.0 368.0,124.0 376.0,132.0 374.0,140.0 364.0,136.0" fill="#abdda4"/><polygon points="354.0,128.0 360.0,124.0 368.0,124.0 376.0,132.0 374.0,140.0 364.0,136.0" class="s" clip-path="url(#t2)"/>
<polygon points="366.0,112.0 378.0,108.0 380.0,116.0 374.0,120.0 368.0,120.0" fill="#ffffbf"/><polygon points="366.0,112.0 378.0,108.0 380.0,116.0 374.0,120.0 368.0,120.0" class="s" clip-path="url(#t2)"/>
<polygon points="370.0,122.0 378.0,118.0 384.0,124.0 380.0,130.0 372.0,128.0" fill="#2b83ba"/><polygon points="370.0,122.0 378.0,118.0 384.0,124.0 380.0,130.0 372.0,128.0" class="s" clip-path="url(#t2)"/>
<polygon points="382.0,122.0 392.0,120.0 394.0,124.0 388.0,130.0" fill="#d7191c"/><polygon points="382.0,122.0 392.0,120.0 394.0,124.0 388.0,130.0" class="s" clip-path="url(#t2)"/>
<polygon points="378.0,132.0 388.0,128.0 396.0,134.0 400.0,140.0 392.0,148.0 384.0,144.0" fill="#2b83ba"/><polygon points="378.0,132.0 388.0,128.0 396.0,134.0 400.0,140.0 392.0,148.0 384.0,144.0" class="s" clip-path="url(#t2)"/>
<polygon points="376.0,110.0 390.0,110.0 398.0,118.0 396.0,124.0 384.0,122.0 378.0,118.0" fill="#fdae61"/><polygon points="376.0,110.0 390.0,110.0 398.0,118.0 396.0,124.0 384.0,122.0 378.0,118.0" class="s" clip-path="url(#t2)"/>
<polygon points="388.0,104.0 398.0,108.0 404.0,116.0 398.0,120.0 390.0,114.0" fill="#abdda4"/><polygon points="388.0,104.0 398.0,108.0 404.0,116.0 398.0,120.0 390.0,114.0" class="s" clip-path="url(#t2)"/>
<polygon points="400.0,114.0 412.0,112.0 420.0,124.0 416.0,134.0 408.0,132.0 402.0,124.0" fill="#ffffbf"/><polygon points="400.0,114.0 412.0,112.0 420.0,124.0 416.0,134.0 408.0,132.0 402.0,124.0" class="s" clip-path="url(#t2)"/>
<polygon points="396.0,122.0 404.0,124.0 408.0,132.0 412.0,138.0 402.0,144.0 396.0,136.0" fill="#fdae61"/><polygon points="396.0,122.0 404.0,124.0 408.0,132.0 412.0,138.0 402.0,144.0 396.0,136.0" class="s" clip-path="url(#t2)"/>
<polygon points="412.0,124.0 424.0,120.0 432.0,116.0 444.0,124.0 452.0,132.0 446.0,140.0 438.0,148.0 430.0,152.0 420.0,150.0 414.0,144.0 412.0,138.0" fill="#fdae61"/><polygon points="412.0,124.0 424.0,120.0 432.0,116.0 444.0,124.0 452.0,132.0 446.0,140.0 438.0,148.0 430.0,152.0 420.0,150.0 414.0,144.0 412.0,138.0" class="s" clip-path="url(#t2)"/>
<polygon points="428.0,106.0 440.0,108.0 440.0,120.0 432.0,116.0" fill="#abdda4"/><polygon points="428.0,106.0 440.0,108.0 440.0,120.0 432.0,116.0" class="s" clip-path="url(#t2)"/>
<polygon points="444.0,140.0 455.0,134.0 455.0,158.0 448.0,156.0 440.0,148.0" fill="#ffffbf"/><polygon points="444.0,140.0 455.0,134.0 455.0,158.0 448.0,156.0 440.0,148.0" class="s" clip-path="url(#t2)"/>
<polygon points="448.0,128.0 455.0,124.0 455.0,134.0" fill="#d7191c"/><polygon points="448.0,128.0 455.0,124.0 455.0,134.0" class="s" clip-path="url(#t2)"/>
<polygon points="320.0,136.0 332.0,136.0 342.0,140.0 346.0,150.0 340.0,152.0 336.0,148.0 328.0,142.0" fill="#fdae61"/><polygon points="320.0,136.0 332.0,136.0 342.0,140.0 346.0,150.0 340.0,152.0 336.0,148.0 328.0,142.0" class="s" clip-path="url(#t2)"/>
<polygon points="300.0,144.0 306.0,142.0 316.0,144.0 324.0,148.0 330.0,156.0 336.0,164.0 346.0,166.0 348.0,176.0 336.0,180.0 324.0,182.0 318.0,186.0 308.0,180.0 300.0,176.0" fill="#d7191c"/><polygon points="300.0,144.0 306.0,142.0 316.0,144.0 324.0,148.0 330.0,156.0 336.0,164.0 346.0,166.0 348.0,176.0 336.0,180.0 324.0,182.0 318.0,186.0 308.0,180.0 300.0,176.0" class="s" clip-path="url(#t2)"/>
<polygon points="304.0,144.0 310.0,142.0 310.0,156.0 314.0,160.0 318.0,168.0 312.0,170.0 306.0,162.0 302.0,156.0" fill="#2b83ba"/><polygon points="304.0,144.0 310.0,142.0 310.0,156.0 314.0,160.0 318.0,168.0 312.0,170.0 306.0,162.0 302.0,156.0" class="s" clip-path="url(#t2)"/>
<polygon points="324.0,146.0 332.0,146.0 338.0,152.0 340.0,160.0 334.0,162.0 328.0,154.0" fill="#2b83ba"/><polygon points="324.0,146.0 332.0,146.0 338.0,152.0 340.0,160.0 334.0,162.0 328.0,154.0" class="s" clip-path="url(#t2)"/>
<polygon points="340.0,148.0 350.0,146.0 364.0,152.0 370.0,152.0 368.0,164.0 358.0,168.0 346.0,166.0 342.0,160.0" fill="#d7191c"/><polygon points="340.0,148.0 350.0,146.0 364.0,152.0 370.0,152.0 368.0,164.0 358.0,168.0 346.0,166.0 342.0,160.0" class="s" clip-path="url(#t2)"/>
<polygon points="368.0,142.0 378.0,140.0 388.0,144.0 386.0,156.0 380.0,164.0 370.0,160.0" fill="#fdae61"/><polygon points="368.0,142.0 378.0,140.0 388.0,144.0 386.0,156.0 380.0,164.0 370.0,160.0" class="s" clip-path="url(#t2)"/>
<polygon points="386.0,148.0 394.0,144.0 396.0,152.0 394.0,162.0 398.0,170.0 394.0,180.0 386.0,182.0 376.0,176.0 370.0,172.0 378.0,164.0 386.0,158.0" fill="#d7191c"/><polygon points="386.0,148.0 394.0,144.0 396.0,152.0 394.0,162.0 398.0,170.0 394.0,180.0 386.0,182.0 376.0,176.0 370.0,172.0 378.0,164.0 386.0,158.0" class="s" clip-path="url(#t2)"/>
<polygon points="396.0,144.0 406.0,142.0 412.0,148.0 412.0,156.0 406.0,162.0 396.0,162.0" fill="#fdae61"/><polygon points="396.0,144.0 406.0,142.0 412.0,148.0 412.0,156.0 406.0,162.0 396.0,162.0" class="s" clip-path="url(#t2)"/>
<polygon points="412.0,146.0 418.0,144.0 428.0,148.0 436.0,150.0 438.0,158.0 424.0,160.0 414.0,160.0" fill="#ffffbf"/><polygon points="412.0,146.0 418.0,144.0 428.0,148.0 436.0,150.0 438.0,158.0 424.0,160.0 414.0,160.0" class="s" clip-path="url(#t2)"/>
<polygon points="396.0,164.0 408.0,164.0 408.0,172.0 400.0,176.0 396.0,172.0" fill="#2b83ba"/><polygon points="396.0,164.0 408.0,164.0 408.0,172.0 400.0,176.0 396.0,172.0" class="s" clip-path="url(#t2)"/>
<polygon points="408.0,160.0 420.0,160.0 432.0,162.0 436.0,168.0 438.0,178.0 432.0,186.0 424.0,180.0 418.0,176.0 412.0,172.0" fill="#fdae61"/><polygon points="408.0,160.0 420.0,160.0 432.0,162.0 436.0,168.0 438.0,178.0 432.0,186.0 424.0,180.0 418.0,176.0 412.0,172.0" class="s" clip-path="url(#t2)"/>
<polygon points="436.0,156.0 450.0,156.0 455.0,160.0 455.0,195.0 444.0,195.0 438.0,180.0 438.0,168.0" fill="#fdae61"/><polygon points="436.0,156.0 450.0,156.0 455.0,160.0 455.0,195.0 444.0,195.0 438.0,180.0 438.0,168.0" class="s" clip-path="url(#t2)"/>
<polygon points="400.0,176.0 410.0,172.0 420.0,180.0 430.0,192.0 416.0,195.0 400.0,188.0 394.0,182.0" fill="#d7191c"/><polygon points="400.0,176.0 410.0,172.0 420.0,180.0 430.0,192.0 416.0,195.0 400.0,188.0 394.0,182.0" class="s" clip-path="url(#t2)"/>
<polygon points="324.0,180.0 336.0,172.0 348.0,168.0 358.0,172.0 356.0,180.0 344.0,184.0 336.0,195.0 320.0,195.0" fill="#ffffbf"/><polygon points="324.0,180.0 336.0,172.0 348.0,168.0 358.0,172.0 356.0,180.0 344.0,184.0 336.0,195.0 320.0,195.0" class="s" clip-path="url(#t2)"/>
<polygon points="352.0,178.0 360.0,176.0 368.0,180.0 368.0,192.0 356.0,195.0 348.0,188.0" fill="#abdda4"/><polygon points="352.0,178.0 360.0,176.0 368.0,180.0 368.0,192.0 356.0,195.0 348.0,188.0" class="s" clip-path="url(#t2)"/>
<polygon points="368.0,174.0 378.0,176.0 386.0,180.0 388.0,188.0 380.0,195.0 368.0,192.0" fill="#ffffbf"/><polygon points="368.0,174.0 378.0,176.0 386.0,180.0 388.0,188.0 380.0,195.0 368.0,192.0" class="s" clip-path="url(#t2)"/>
<polygon points="386.0,184.0 396.0,180.0 400.0,188.0 392.0,195.0 384.0,195.0" fill="#ffffbf"/><polygon points="386.0,184.0 396.0,180.0 400.0,188.0 392.0,195.0 384.0,195.0" class="s" clip-path="url(#t2)"/>
<polygon points="455.0,70.0 458.0,65.0 463.0,72.0 467.0,80.0 463.0,83.0 455.0,82.0" fill="#2b83ba"/><polygon points="455.0,70.0 458.0,65.0 463.0,72.0 467.0,80.0 463.0,83.0 455.0,82.0" class="s" clip-path="url(#t3)"/>
<polygon points="467.0,72.0 481.0,76.0 485.0,84.0 479.0,90.0 467.0,88.0 463.0,83.0" fill="#ffffbf"/><polygon points="467.0,72.0 481.0,76.0 485.0,84.0 479.0,90.0 467.0,88.0 463.0,83.0" class="s" clip-path="url(#t3)"/>
<polygon points="455.0,82.0 463.0,83.0 467.0,88.0 465.0,96.0 455.0,96.0" fill="#abdda4"/><polygon points="455.0,82.0 463.0,83.0 467.0,88.0 465.0,96.0 455.0,96.0" class="s" clip-path="url(#t3)"/>
<polygon points="489.0,78.0 509.0,76.0 509.0,96.0 503.0,98.0 495.0,92.0" fill="#abdda4"/><polygon points="489.0,78.0 509.0,76.0 509.0,96.0 503.0,98.0 495.0,92.0" class="s" clip-path="url(#t3)"/>
<polygon points="485.0,82.0 493.0,82.0 495.0,92.0 487.0,94.0" fill="#fdae61"/><polygon points="485.0,82.0 493.0,82.0 495.0,92.0 487.0,94.0" class="s" clip-path="url(#t3)"/>
<polygon points="509.0,80.0 527.0,82.0 527.0,98.0 515.0,100.0 509.0,96.0" fill="#fdae61"/><polygon points="509.0,80.0 527.0,82.0 527.0,98.0 515.0,100.0 509.0,96.0" class="s" clip-path="url(#t3)"/>
<polygon points="527.0,82.0 535.0,80.0 537.0,88.0 531.0,90.0" fill="#d7191c"/><polygon points="527.0,82.0 535.0,80.0 537.0,88.0 531.0,90.0" class="s" clip-path="url(#t3)"/>
<polygon points="529.0,90.0 539.0,88.0 543.0,92.0 539.0,98.0 531.0,96.0" fill="#abdda4"/><polygon points="529.0,90.0 539.0,88.0 543.0,92.0 539.0,98.0 531.0,96.0" class="s" clip-path="url(#t3)"/>
<polygon points="541.0,86.0 549.0,94.0 555.0,98.0 565.0,100.0 567.0,110.0 559.0,112.0 553.0,106.0 547.0,102.0" fill="#2b83ba"/><polygon points="541.0,86.0 549.0,94.0 555.0,98.0 565.0,100.0 567.0,110.0 559.0,112.0 553.0,106.0 547.0,102.0" class="s" clip-path="url(#t3)"/>
<polygon points="564.0,98.0 575.0,100.0 581.0,104.0 579.0,114.0 571.0,116.0 567.0,110.0" fill="#ffffbf"/><polygon points="564.0,98.0 575.0,100.0 581.0,104.0 579.0,114.0 571.0,116.0 567.0,110.0" class="s" clip-path="url(#t3)"/>
<polygon points="579.0,104.0 587.0,104.0 595.0,110.0 595.0,120.0 591.0,132.0 583.0,128.0 581.0,116.0" fill="#abdda4"/><polygon points="579.0,104.0 587.0,104.0 595.0,110.0 595.0,120.0 591.0,132.0 583.0,128.0 581.0,116.0" class="s" clip-path="url(#t3)"/>
<polygon points="595.0,112.0 604.0,118.0 610.0,120.0 610.0,136.0 599.0,130.0 593.0,124.0" fill="#ffffbf"/><polygon points="595.0,112.0 604.0,118.0 610.0,120.0 610.0,136.0 599.0,130.0 593.0,124.0" class="s" clip-path="url(#t3)"/>
<polygon points="573.0,112.0 581.0,116.0 587.0,128.0 587.0,138.0 579.0,138.0 575.0,126.0" fill="#fdae61"/><polygon points="573.0,112.0 581.0,116.0 587.0,128.0 587.0,138.0 579.0,138.0 575.0,126.0" class="s" clip-path="url(#t3)"/>
<polygon points="566.0,116.0 575.0,118.0 578.0,130.0 573.0,136.0 567.0,132.0" fill="#2b83ba"/><polygon points="566.0,116.0 575.0,118.0 578.0,130.0 573.0,136.0 567.0,132.0" class="s" clip-path="url(#t3)"/>
<polygon points="555.0,114.0 567.0,112.0 571.0,120.0 567.0,124.0 557.0,122.0" fill="#d7191c"/><polygon points="555.0,114.0 567.0,112.0 571.0,120.0 567.0,124.0 557.0,122.0" class="s" clip-path="url(#t3)"/>
<polygon points="553.0,120.0 565.0,124.0 565.0,130.0 555.0,128.0" fill="#ffffbf"/><polygon points="553.0,120.0 565.0,124.0 565.0,130.0 555.0,128.0" class="s" clip-path="url(#t3)"/>
<polygon points="551.0,124.0 565.0,130.0 573.0,136.0 575.0,144.0 567.0,152.0 559.0,146.0 553.0,136.0" fill="#fdae61"/><polygon points="551.0,124.0 565.0,130.0 573.0,136.0 575.0,144.0 567.0,152.0 559.0,146.0 553.0,136.0" class="s" clip-path="url(#t3)"/>
<polygon points="571.0,144.0 577.0,146.0 575.0,151.0" fill="#d7191c"/><polygon points="571.0,144.0 577.0,146.0 575.0,151.0" class="s" clip-path="url(#t3)"/>
<polygon points="575.0,138.0 591.0,132.0 599.0,130.0 607.0,140.0 607.0,156.0 599.0,160.0 591.0,168.0 585.0,160.0 583.0,148.0" fill="#ffffbf"/><polygon points="575.0,138.0 591.0,132.0 599.0,130.0 607.0,140.0 607.0,156.0 599.0,160.0 591.0,168.0 585.0,160.0 583.0,148.0" class="s" clip-path="url(#t3)"/>
<polygon points="599.0,128.0 610.0,126.0 610.0,148.0 603.0,144.0" fill="#fdae61"/><polygon points="599.0,128.0 610.0,126.0 610.0,148.0 603.0,144.0" class="s" clip-path="url(#t3)"/>
<polygon points="585.0,148.0 595.0,142.0 599.0,152.0 595.0,162.0 591.0,166.0 587.0,160.0" fill="#abdda4"/><polygon points="585.0,148.0 595.0,142.0 599.0,152.0 595.0,162.0 591.0,166.0 587.0,160.0" class="s" clip-path="url(#t3)"/>
<polygon points="595.0,160.0 607.0,152.0 610.0,148.0 610.0,195.0 599.0,195.0 595.0,184.0 595.0,170.0" fill="#2b83ba"/><polygon points="595.0,160.0 607.0,152.0 610.0,148.0 610.0,195.0 599.0,195.0 595.0,184.0 595.0,170.0" class="s" clip-path="url(#t3)"/>
<polygon points="461.0,98.0 473.0,96.0 483.0,100.0 487.0,106.0 479.0,108.0 467.0,104.0" fill="#fdae61"/><polygon points="461.0,98.0 473.0,96.0 483.0,100.0 487.0,106.0 479.0,108.0 467.0,104.0" class="s" clip-path="url(#t3)"/>
<polygon points="469.0,104.0 479.0,108.0 485.0,110.0 483.0,114.0 473.0,114.0 467.0,112.0" fill="#d7191c"/><polygon points="469.0,104.0 479.0,108.0 485.0,110.0 483.0,114.0 473.0,114.0 467.0,112.0" class="s" clip-path="url(#t3)"/>
<polygon points="455.0,98.0 465.0,96.0 469.0,108.0 467.0,116.0 461.0,120.0 455.0,116.0" fill="#abdda4"/><polygon points="455.0,98.0 465.0,96.0 469.0,108.0 467.0,116.0 461.0,120.0 455.0,116.0" class="s" clip-path="url(#t3)"/>
<polygon points="455.0,114.0 461.0,116.0 465.0,120.0 461.0,124.0 459.0,134.0 455.0,134.0" fill="#d7191c"/><polygon points="455.0,114.0 461.0,116.0 465.0,120.0 461.0,124.0 459.0,134.0 455.0,134.0" class="s" clip-path="url(#t3)"/>
<polygon points="485.0,96.0 495.0,100.0 505.0,100.0 505.0,108.0 499.0,110.0 487.0,106.0" fill="#fdae61"/><polygon points="485.0,96.0 495.0,100.0 505.0,100.0 505.0,108.0 499.0,110.0 487.0,106.0" class="s" clip-path="url(#t3)"/>
<polygon points="485.0,106.0 499.0,108.0 497.0,114.0 487.0,116.0" fill="#abdda4"/><polygon points="485.0,106.0 499.0,108.0 497.0,114.0 487.0,116.0" class="s" clip-path="url(#t3)"/>
<polygon points="477.0,90.0 487.0,94.0 495.0,100.0 487.0,102.0 479.0,98.0" fill="#ffffbf"/><polygon points="477.0,90.0 487.0,94.0 495.0,100.0 487.0,102.0 479.0,98.0" class="s" clip-path="url(#t3)"/>
<polygon points="503.0,98.0 517.0,98.0 525.0,100.0 531.0,96.0 539.0,98.0 541.0,106.0 545.0,112.0 537.0,116.0 533.0,124.0 525.0,130.0 527.0,136.0 515.0,136.0 505.0,134.0 501.0,130.0 507.0,122.0 513.0,116.0 505.0,112.0" fill="#d7191c"/><polygon points="503.0,98.0 517.0,98.0 525.0,100.0 531.0,96.0 539.0,98.0 541.0,106.0 545.0,112.0 537.0,116.0 533.0,124.0 525.0,130.0 527.0,136.0 515.0,136.0 505.0,134.0 501.0,130.0 507.0,122.0 513.0,116.0 505.0,112.0" class="s" clip-path="url(#t3)"/>
<polygon points="533.0,114.0 543.0,110.0 545.0,116.0 539.0,122.0" fill="#2b83ba"/><polygon points="533.0,114.0 543.0,110.0 545.0,116.0 539.0,122.0" class="s" clip-path="url(#t3)"/>
<polygon points="539.0,116.0 545.0,116.0 553.0,120.0 553.0,128.0 551.0,138.0 543.0,140.0 539.0,132.0 535.0,126.0" fill="#abdda4"/><polygon points="539.0,116.0 545.0,116.0 553.0,120.0 553.0,128.0 551.0,138.0 543.0,140.0 539.0,132.0 535.0,126.0" class="s" clip-path="url(#t3)"/>
<polygon points="483.0,110.0 495.0,112.0 501.0,120.0 503.0,126.0 499.0,132.0 493.0,128.0 487.0,120.0" fill="#fdae61"/><polygon points="483.0,110.0 495.0,112.0 501.0,120.0 503.0,126.0 499.0,132.0 493.0,128.0 487.0,120.0" class="s" clip-path="url(#t3)"/>
<polygon points="499.0,120.0 507.0,120.0 515.0,120.0 521.0,124.0 517.0,130.0 507.0,130.0" fill="#fdae61"/><polygon points="499.0,120.0 507.0,120.0 515.0,120.0 521.0,124.0 517.0,130.0 507.0,130.0" class="s" clip-path="url(#t3)"/>
<polygon points="469.0,116.0 483.0,114.0 491.0,124.0 497.0,134.0 485.0,136.0 477.0,132.0 465.0,128.0" fill="#ffffbf"/><polygon points="469.0,116.0 483.0,114.0 491.0,124.0 497.0,134.0 485.0,136.0 477.0,132.0 465.0,128.0" class="s" clip-path="url(#t3)"/>
<polygon points="459.0,130.0 467.0,132.0 471.0,142.0 463.0,144.0 459.0,138.0" fill="#fdae61"/><polygon points="459.0,130.0 467.0,132.0 471.0,142.0 463.0,144.0 459.0,138.0" class="s" clip-path="url(#t3)"/>
<polygon points="455.0,134.0 459.0,132.0 463.0,144.0 471.0,144.0 477.0,148.0 467.0,156.0 459.0,164.0 455.0,164.0" fill="#ffffbf"/><polygon points="455.0,134.0 459.0,132.0 463.0,144.0 471.0,144.0 477.0,148.0 467.0,156.0 459.0,164.0 455.0,164.0" class="s" clip-path="url(#t3)"/>
<polygon points="483.0,134.0 497.0,136.0 505.0,140.0 503.0,152.0 495.0,152.0 487.0,148.0 481.0,140.0" fill="#abdda4"/><polygon points="483.0,134.0 497.0,136.0 505.0,140.0 503.0,152.0 495.0,152.0 487.0,148.0 481.0,140.0" class="s" clip-path="url(#t3)"/>
<polygon points="463.0,144.0 475.0,144.0 479.0,152.0 473.0,158.0 467.0,156.0" fill="#abdda4"/><polygon points="463.0,144.0 475.0,144.0 479.0,152.0 473.0,158.0 467.0,156.0" class="s" clip-path="url(#t3)"/>
<polygon points="475.0,144.0 483.0,142.0 493.0,152.0 491.0,158.0 479.0,160.0 477.0,152.0" fill="#2b83ba"/><polygon points="475.0,144.0 483.0,142.0 493.0,152.0 491.0,158.0 479.0,160.0 477.0,152.0" class="s" clip-path="url(#t3)"/>
<polygon points="455.0,160.0 463.0,156.0 471.0,158.0 479.0,160.0 491.0,158.0 495.0,162.0 493.0,168.0 479.0,170.0 467.0,168.0 459.0,168.0 455.0,168.0" fill="#2b83ba"/><polygon points="455.0,160.0 463.0,156.0 471.0,158.0 479.0,160.0 491.0,158.0 495.0,162.0 493.0,168.0 479.0,170.0 467.0,168.0 459.0,168.0 455.0,168.0" class="s" clip-path="url(#t3)"/>
<polygon points="501.0,136.0 515.0,136.0 527.0,138.0 535.0,138.0 537.0,142.0 531.0,144.0 519.0,144.0 505.0,144.0" fill="#ffffbf"/><polygon points="501.0,136.0 515.0,136.0 527.0,138.0 535.0,138.0 537.0,142.0 531.0,144.0 519.0,144.0 505.0,144.0" class="s" clip-path="url(#t3)"/>
<polygon points="505.0,144.0 521.0,142.0 531.0,144.0 535.0,152.0 527.0,156.0 521.0,158.0 511.0,152.0" fill="#fdae61"/><polygon points="505.0,144.0 521.0,142.0 531.0,144.0 535.0,152.0 527.0,156.0 521.0,158.0 511.0,152.0" class="s" clip-path="url(#t3)"/>
<polygon points="491.0,156.0 503.0,150.0 513.0,152.0 521.0,160.0 521.0,168.0 511.0,170.0 503.0,168.0 497.0,164.0" fill="#d7191c"/><polygon points="491.0,156.0 503.0,150.0 513.0,152.0 521.0,160.0 521.0,168.0 511.0,170.0 503.0,168.0 497.0,164.0" class="s" clip-path="url(#t3)"/>
<polygon points="533.0,142.0 545.0,138.0 551.0,140.0 559.0,142.0 567.0,148.0 569.0,156.0 567.0,162.0 563.0,168.0 555.0,170.0 547.0,166.0 543.0,160.0 537.0,156.0 535.0,152.0" fill="#d7191c"/><polygon points="533.0,142.0 545.0,138.0 551.0,140.0 559.0,142.0 567.0,148.0 569.0,156.0 567.0,162.0 563.0,168.0 555.0,170.0 547.0,166.0 543.0,160.0 537.0,156.0 535.0,152.0" class="s" clip-path="url(#t3)"/>
<polygon points="545.0,150.0 559.0,152.0 563.0,158.0 555.0,164.0 547.0,160.0" fill="#fdae61"/><polygon points="545.0,150.0 559.0,152.0 563.0,158.0 555.0,164.0 547.0,160.0" class="s" clip-path="url(#t3)"/>
<polygon points="521.0,156.0 531.0,154.0 537.0,160.0 535.0,168.0 527.0,168.0" fill="#fdae61"/><polygon points="521.0,156.0 531.0,154.0 537.0,160.0 535.0,168.0 527.0,168.0" class="s" clip-path="url(#t3)"/>
<polygon points="573.0,160.0 583.0,164.0 585.0,172.0 579.0,180.0 573.0,178.0 571.0,168.0" fill="#fdae61"/><polygon points="573.0,160.0 583.0,164.0 585.0,172.0 579.0,180.0 573.0,178.0 571.0,168.0" class="s" clip-path="url(#t3)"/>
<polygon points="537.0,164.0 547.0,166.0 553.0,172.0 551.0,180.0 539.0,178.0" fill="#fdae61"/><polygon points="537.0,164.0 547.0,166.0 553.0,172.0 551.0,180.0 539.0,178.0" class="s" clip-path="url(#t3)"/>
<polygon points="551.0,170.0 563.0,168.0 567.0,174.0 559.0,180.0 553.0,178.0" fill="#2b83ba"/><polygon points="551.0,170.0 563.0,168.0 567.0,174.0 559.0,180.0 553.0,178.0" class="s" clip-path="url(#t3)"/>
<polygon points="495.0,168.0 511.0,170.0 523.0,168.0 535.0,170.0 541.0,180.0 539.0,192.0 525.0,195.0 505.0,195.0 505.0,184.0 499.0,180.0" fill="#d7191c"/><polygon points="495.0,168.0 511.0,170.0 523.0,168.0 535.0,170.0 541.0,180.0 539.0,192.0 525.0,195.0 505.0,195.0 505.0,184.0 499.0,180.0" class="s" clip-path="url(#t3)"/>
<polygon points="493.0,168.0 501.0,166.0 507.0,172.0 505.0,180.0 499.0,182.0 497.0,176.0" fill="#2b83ba"/><polygon points="493.0,168.0 501.0,166.0 507.0,172.0 505.0,180.0 499.0,182.0 497.0,176.0" class="s" clip-path="url(#t3)"/>
<polygon points="483.0,164.0 493.0,170.0 497.0,176.0 493.0,184.0 485.0,180.0 481.0,172.0" fill="#abdda4"/><polygon points="483.0,164.0 493.0,170.0 497.0,176.0 493.0,184.0 485.0,180.0 481.0,172.0" class="s" clip-path="url(#t3)"/>
<polygon points="467.0,170.0 481.0,168.0 487.0,180.0 485.0,188.0 473.0,186.0 467.0,180.0" fill="#ffffbf"/><polygon points="467.0,170.0 481.0,168.0 487.0,180.0 485.0,188.0 473.0,186.0 467.0,180.0" class="s" clip-path="url(#t3)"/>
<polygon points="455.0,168.0 467.0,170.0 469.0,180.0 467.0,195.0 455.0,195.0" fill="#d7191c"/><polygon points="455.0,168.0 467.0,170.0 469.0,180.0 467.0,195.0 455.0,195.0" class="s" clip-path="url(#t3)"/>
<polygon points="473.0,184.0 485.0,186.0 483.0,195.0 471.0,195.0" fill="#d7191c"/><polygon points="473.0,184.0 485.0,186.0 483.0,195.0 471.0,195.0" class="s" clip-path="url(#t3)"/>
<polygon points="485.0,182.0 495.0,184.0 505.0,186.0 507.0,195.0 485.0,195.0" fill="#ffffbf"/><polygon points="485.0,182.0 495.0,184.0 505.0,186.0 507.0,195.0 485.0,195.0" class="s" clip-path="url(#t3)"/>
<polygon points="551.0,180.0 563.0,180.0 573.0,184.0 577.0,195.0 555.0,195.0 549.0,188.0" fill="#d7191c"/><polygon points="551.0,180.0 563.0,180.0 573.0,184.0 577.0,195.0 555.0,195.0 549.0,188.0" class="s" clip-path="url(#t3)"/>
<polygon points="567.0,168.0 575.0,166.0 579.0,178.0 575.0,184.0 567.0,180.0" fill="#ffffbf"/><polygon points="567.0,168.0 575.0,166.0 579.0,178.0 575.0,184.0 567.0,180.0" class="s" clip-path="url(#t3)"/>
<polygon points="579.0,180.0 591.0,172.0 599.0,176.0 595.0,188.0 583.0,190.0" fill="#fdae61"/><polygon points="579.0,180.0 591.0,172.0 599.0,176.0 595.0,188.0 583.0,190.0" class="s" clip-path="url(#t3)"/>
<polygon points="587.0,168.0 595.0,164.0 599.0,176.0 591.0,172.0" fill="#ffffbf"/><polygon points="587.0,168.0 595.0,164.0 599.0,176.0 591.0,172.0" class="s" clip-path="url(#t3)"/>
<polygon points="600.0,118.0 604.0,119.0 616.0,125.0 622.0,132.0 624.0,138.0 612.0,138.0 606.0,130.0" fill="#ffffbf"/><polygon points="600.0,118.0 604.0,119.0 616.0,125.0 622.0,132.0 624.0,138.0 612.0,138.0 606.0,130.0" class="s" clip-path="url(#t4)"/>
<polygon points="600.0,130.0 606.0,128.0 612.0,138.0 624.0,138.0 626.0,146.0 624.0,158.0 616.0,152.0 606.0,152.0 600.0,148.0" fill="#fdae61"/><polygon points="600.0,130.0 606.0,128.0 612.0,138.0 624.0,138.0 626.0,146.0 624.0,158.0 616.0,152.0 606.0,152.0 600.0,148.0" class="s" clip-path="url(#t4)"/>
<polygon points="600.0,148.0 606.0,152.0 602.0,158.0 600.0,158.0" fill="#abdda4"/><polygon points="600.0,148.0 606.0,152.0 602.0,158.0 600.0,158.0" class="s" clip-path="url(#t4)"/>
<polygon points="600.0,156.0 608.0,152.0 616.0,154.0 622.0,160.0 620.0,168.0 622.0,176.0 616.0,184.0 612.0,188.0 600.0,188.0" fill="#2b83ba"/><polygon points="600.0,156.0 608.0,152.0 616.0,154.0 622.0,160.0 620.0,168.0 622.0,176.0 616.0,184.0 612.0,188.0 600.0,188.0" class="s" clip-path="url(#t4)"/>
<polygon points="622.0,138.0 628.0,136.0 636.0,142.0 640.0,150.0 646.0,154.0 650.0,162.0 648.0,184.0 646.0,188.0 640.0,188.0 634.0,198.0 630.0,202.0 624.0,196.0 616.0,184.0 622.0,176.0 620.0,168.0 622.0,160.0 624.0,152.0" fill="#ffffbf"/><polygon points="622.0,138.0 628.0,136.0 636.0,142.0 640.0,150.0 646.0,154.0 650.0,162.0 648.0,184.0 646.0,188.0 640.0,188.0 634.0,198.0 630.0,202.0 624.0,196.0 616.0,184.0 622.0,176.0 620.0,168.0 622.0,160.0 624.0,152.0" class="s" clip-path="url(#t4)"/>
<polygon points="600.0,188.0 612.0,188.0 616.0,184.0 624.0,196.0 630.0,202.0 632.0,206.0 620.0,212.0 608.0,210.0 600.0,208.0" fill="#abdda4"/><polygon points="600.0,188.0 612.0,188.0 616.0,184.0 624.0,196.0 630.0,202.0 632.0,206.0 620.0,212.0 608.0,210.0 600.0,208.0" class="s" clip-path="url(#t4)"/>
<polygon points="650.0,162.0 656.0,168.0 664.0,172.0 674.0,174.0 684.0,176.0 692.0,177.0 699.0,176.0 706.0,177.0 712.0,176.0 722.0,178.0 730.0,180.0 738.0,189.0 728.0,190.0 720.0,196.0 714.0,202.0 715.0,212.0 714.0,222.0 712.0,230.0 706.0,238.0 700.0,242.0 694.0,246.0 688.0,248.0 682.0,244.0 674.0,230.0 668.0,218.0 658.0,206.0 654.0,204.0 653.0,192.0 648.0,184.0" fill="#abdda4"/><polygon points="650.0,162.0 656.0,168.0 664.0,172.0 674.0,174.0 684.0,176.0 692.0,177.0 699.0,176.0 706.0,177.0 712.0,176.0 722.0,178.0 730.0,180.0 738.0,189.0 728.0,190.0 720.0,196.0 714.0,202.0 715.0,212.0 714.0,222.0 712.0,230.0 706.0,238.0 700.0,242.0 694.0,246.0 688.0,248.0 682.0,244.0 674.0,230.0 668.0,218.0 658.0,206.0 654.0,204.0 653.0,192.0 648.0,184.0" class="s" clip-path="url(#t4)"/>
<polygon points="634.0,200.0 640.0,186.0 648.0,186.0 653.0,192.0 654.0,204.0 658.0,206.0 668.0,218.0 674.0,230.0 682.0,244.0 688.0,252.0 688.0,255.0 652.0,255.0 644.0,246.0 636.0,232.0 634.0,220.0 640.0,212.0" fill="#2b83ba"/><polygon points="634.0,200.0 640.0,186.0 648.0,186.0 653.0,192.0 654.0,204.0 658.0,206.0 668.0,218.0 674.0,230.0 682.0,244.0 688.0,252.0 688.0,255.0 652.0,255.0 644.0,246.0 636.0,232.0 634.0,220.0 640.0,212.0" class="s" clip-path="url(#t4)"/>
<polygon points="600.0,208.0 608.0,210.0 620.0,212.0 632.0,206.0 640.0,212.0 644.0,222.0 636.0,232.0 640.0,244.0 652.0,255.0 600.0,255.0" fill="#d7191c"/><polygon points="600.0,208.0 608.0,210.0 620.0,212.0 632.0,206.0 640.0,212.0 644.0,222.0 636.0,232.0 640.0,244.0 652.0,255.0 600.0,255.0" class="s" clip-path="url(#t4)"/>
<polygon points="600.0,216.0 604.0,216.0 606.0,224.0 600.0,226.0" fill="#fdae61"/><polygon points="600.0,216.0 604.0,216.0 606.0,224.0 600.0,226.0" class="s" clip-path="url(#t4)"/>
<polygon points="688.0,248.0 700.0,242.0 706.0,240.0 712.0,240.0 718.0,238.0 720.0,244.0 712.0,248.0 704.0,247.0 694.0,255.0 688.0,255.0" fill="#2b83ba"/><polygon points="688.0,248.0 700.0,242.0 706.0,240.0 712.0,240.0 718.0,238.0 720.0,244.0 712.0,248.0 704.0,247.0 694.0,255.0 688.0,255.0" class="s" clip-path="url(#t4)"/>
<polygon points="718.0,240.0 724.0,242.0 730.0,248.0 732.0,255.0 712.0,255.0 714.0,248.0" fill="#d7191c"/><polygon points="718.0,240.0 724.0,242.0 730.0,248.0 732.0,255.0 712.0,255.0 714.0,248.0" class="s" clip-path="url(#t4)"/>
<polygon points="720.0,248.0 724.0,248.0 724.0,255.0 720.0,255.0" fill="#fdae61"/><polygon points="720.0,248.0 724.0,248.0 724.0,255.0 720.0,255.0" class="s" clip-path="url(#t4)"/>
<polygon points="688.0,250.0 696.0,248.0 698.0,255.0 688.0,255.0" fill="#ffffbf"/><polygon points="688.0,250.0 696.0,248.0 698.0,255.0 688.0,255.0" class="s" clip-path="url(#t4)"/>
<polygon points="600.0,240.0 638.0,240.0 644.0,244.0 654.0,252.0 656.0,256.0 640.0,262.0 630.0,260.0 620.0,262.0 614.0,260.0 608.0,254.0 600.0,248.0" fill="#d7191c"/><polygon points="600.0,240.0 638.0,240.0 644.0,244.0 654.0,252.0 656.0,256.0 640.0,262.0 630.0,260.0 620.0,262.0 614.0,260.0 608.0,254.0 600.0,248.0" class="s" clip-path="url(#t5)"/>
<polygon points="638.0,240.0 684.0,240.0 684.0,246.0 694.0,248.0 688.0,256.0 680.0,262.0 666.0,266.0 656.0,256.0 644.0,244.0" fill="#2b83ba"/><polygon points="638.0,240.0 684.0,240.0 684.0,246.0 694.0,248.0 688.0,256.0 680.0,262.0 666.0,266.0 656.0,256.0 644.0,244.0" class="s" clip-path="url(#t5)"/>
<polygon points="684.0,240.0 700.0,240.0 698.0,248.0 694.0,248.0 684.0,246.0" fill="#abdda4"/><polygon points="684.0,240.0 700.0,240.0 698.0,248.0 694.0,248.0 684.0,246.0" class="s" clip-path="url(#t5)"/>
<polygon points="704.0,256.0 712.0,246.0 720.0,240.0 736.0,249.0 724.0,260.0 712.0,280.0 708.0,286.0 706.0,276.0 710.0,268.0 704.0,264.0" fill="#d7191c"/><polygon points="704.0,256.0 712.0,246.0 720.0,240.0 736.0,249.0 724.0,260.0 712.0,280.0 708.0,286.0 706.0,276.0 710.0,268.0 704.0,264.0" class="s" clip-path="url(#t5)"/>
<polygon points="718.0,248.0 724.0,250.0 724.0,256.0 720.0,258.0" fill="#fdae61"/><polygon points="718.0,248.0 724.0,250.0 724.0,256.0 720.0,258.0" class="s" clip-path="url(#t5)"/>
<polygon points="712.0,260.0 724.0,257.0 716.0,270.0 712.0,268.0" fill="#fdae61"/><polygon points="712.0,260.0 724.0,257.0 716.0,270.0 712.0,268.0" class="s" clip-path="url(#t5)"/>
<polygon points="688.0,250.0 696.0,250.0 704.0,256.0 702.0,266.0 700.0,270.0 694.0,266.0 690.0,260.0" fill="#ffffbf"/><polygon points="688.0,250.0 696.0,250.0 704.0,256.0 702.0,266.0 700.0,270.0 694.0,266.0 690.0,260.0" class="s" clip-path="url(#t5)"/>
<polygon points="694.0,250.0 704.0,250.0 706.0,258.0 702.0,262.0" fill="#abdda4"/><polygon points="694.0,250.0 704.0,250.0 706.0,258.0 702.0,262.0" class="s" clip-path="url(#t5)"/>
<polygon points="696.0,268.0 704.0,266.0 710.0,270.0 708.0,276.0 698.0,275.0" fill="#fdae61"/><polygon points="696.0,268.0 704.0,266.0 710.0,270.0 708.0,276.0 698.0,275.0" class="s" clip-path="url(#t5)"/>
<polygon points="680.0,262.0 690.0,260.0 696.0,268.0 698.0,275.0 708.0,276.0 706.0,284.0 696.0,286.0 690.0,280.0 684.0,278.0" fill="#2b83ba"/><polygon points="680.0,262.0 690.0,260.0 696.0,268.0 698.0,275.0 708.0,276.0 706.0,284.0 696.0,286.0 690.0,280.0 684.0,278.0" class="s" clip-path="url(#t5)"/>
<polygon points="672.0,285.0 682.0,278.0 690.0,280.0 696.0,286.0 688.0,292.0 680.0,290.0" fill="#2b83ba"/><polygon points="672.0,285.0 682.0,278.0 690.0,280.0 696.0,286.0 688.0,292.0 680.0,290.0" class="s" clip-path="url(#t5)"/>
<polygon points="672.0,306.0 678.0,298.0 680.0,292.0 688.0,292.0 694.0,282.0 704.0,286.0 712.0,284.0 700.0,298.0 696.0,308.0 684.0,308.0 676.0,312.0" fill="#fdae61"/><polygon points="672.0,306.0 678.0,298.0 680.0,292.0 688.0,292.0 694.0,282.0 704.0,286.0 712.0,284.0 700.0,298.0 696.0,308.0 684.0,308.0 676.0,312.0" class="s" clip-path="url(#t5)"/>
<polygon points="696.0,294.0 702.0,294.0 700.0,302.0" fill="#ffffbf"/><polygon points="696.0,294.0 702.0,294.0 700.0,302.0" class="s" clip-path="url(#t5)"/>
<polygon points="658.0,308.0 666.0,308.0 674.0,310.0 678.0,314.0 684.0,310.0 700.0,308.0 694.0,314.0 688.0,328.0 684.0,324.0 680.0,320.0 674.0,320.0 666.0,320.0 660.0,316.0" fill="#2b83ba"/><polygon points="658.0,308.0 666.0,308.0 674.0,310.0 678.0,314.0 684.0,310.0 700.0,308.0 694.0,314.0 688.0,328.0 684.0,324.0 680.0,320.0 674.0,320.0 666.0,320.0 660.0,316.0" class="s" clip-path="url(#t5)"/>
<polygon points="650.0,296.0 656.0,288.0 668.0,278.0 672.0,284.0 680.0,290.0 676.0,298.0 672.0,306.0 662.0,308.0 652.0,306.0" fill="#abdda4"/><polygon points="650.0,296.0 656.0,288.0 668.0,278.0 672.0,284.0 680.0,290.0 676.0,298.0 672.0,306.0 662.0,308.0 652.0,306.0" class="s" clip-path="url(#t5)"/>
<polygon points="670.0,268.0 680.0,262.0 684.0,278.0 678.0,280.0 672.0,278.0" fill="#ffffbf"/><polygon points="670.0,268.0 680.0,262.0 684.0,278.0 678.0,280.0 672.0,278.0" class="s" clip-path="url(#t5)"/>
<polygon points="656.0,274.0 670.0,268.0 672.0,278.0 668.0,278.0 658.0,282.0" fill="#abdda4"/><polygon points="656.0,274.0 670.0,268.0 672.0,278.0 668.0,278.0 658.0,282.0" class="s" clip-path="url(#t5)"/>
<polygon points="634.0,270.0 646.0,262.0 658.0,264.0 658.0,274.0 652.0,282.0 640.0,284.0 632.0,282.0" fill="#ffffbf"/><polygon points="634.0,270.0 646.0,262.0 658.0,264.0 658.0,274.0 652.0,282.0 640.0,284.0 632.0,282.0" class="s" clip-path="url(#t5)"/>
<polygon points="618.0,262.0 630.0,262.0 640.0,262.0 646.0,264.0 638.0,268.0 626.0,270.0" fill="#abdda4"/><polygon points="618.0,262.0 630.0,262.0 640.0,262.0 646.0,264.0 638.0,268.0 626.0,270.0" class="s" clip-path="url(#t5)"/>
<polygon points="628.0,256.0 638.0,256.0 634.0,262.0 630.0,260.0" fill="#2b83ba"/><polygon points="628.0,256.0 638.0,256.0 634.0,262.0 630.0,260.0" class="s" clip-path="url(#t5)"/>
<polygon points="634.0,270.0 644.0,272.0 640.0,280.0 634.0,278.0" fill="#2b83ba"/><polygon points="634.0,270.0 644.0,272.0 640.0,280.0 634.0,278.0" class="s" clip-path="url(#t5)"/>
<polygon points="620.0,264.0 632.0,266.0 634.0,278.0 628.0,280.0 620.0,278.0" fill="#abdda4"/><polygon points="620.0,264.0 632.0,266.0 634.0,278.0 628.0,280.0 620.0,278.0" class="s" clip-path="url(#t5)"/>
<polygon points="616.0,268.0 622.0,268.0 620.0,274.0" fill="#ffffbf"/><polygon points="616.0,268.0 622.0,268.0 620.0,274.0" class="s" clip-path="url(#t5)"/>
<polygon points="612.0,266.0 616.0,266.0 618.0,272.0 614.0,274.0" fill="#d7191c"/><polygon points="612.0,266.0 616.0,266.0 618.0,272.0 614.0,274.0" class="s" clip-path="url(#t5)"/>
<polygon points="611.0,274.0 618.0,276.0 632.0,280.0 632.0,288.0 624.0,288.0 614.0,286.0 610.0,280.0" fill="#fdae61"/><polygon points="611.0,274.0 618.0,276.0 632.0,280.0 632.0,288.0 624.0,288.0 614.0,286.0 610.0,280.0" class="s" clip-path="url(#t5)"/>
<polygon points="600.0,262.0 606.0,262.0 612.0,268.0 608.0,276.0 600.0,280.0" fill="#2b83ba"/><polygon points="600.0,262.0 606.0,262.0 612.0,268.0 608.0,276.0 600.0,280.0" class="s" clip-path="url(#t5)"/>
<polygon points="600.0,256.0 608.0,256.0 610.0,262.0 600.0,262.0" fill="#fdae61"/><polygon points="600.0,256.0 608.0,256.0 610.0,262.0 600.0,262.0" class="s" clip-path="url(#t5)"/>
<polygon points="600.0,280.0 608.0,276.0 612.0,286.0 600.0,288.0" fill="#abdda4"/><polygon points="600.0,280.0 608.0,276.0 612.0,286.0 600.0,288.0" class="s" clip-path="url(#t5)"/>
<polygon points="600.0,288.0 612.0,286.0 620.0,288.0 618.0,298.0 608.0,300.0 600.0,300.0" fill="#2b83ba"/><polygon points="600.0,288.0 612.0,286.0 620.0,288.0 618.0,298.0 608.0,300.0 600.0,300.0" class="s" clip-path="url(#t5)"/>
<polygon points="608.0,292.0 616.0,294.0 618.0,300.0 612.0,301.0 608.0,298.0" fill="#fdae61"/><polygon points="608.0,292.0 616.0,294.0 618.0,300.0 612.0,301.0 608.0,298.0" class="s" clip-path="url(#t5)"/>
<polygon points="620.0,288.0 632.0,286.0 640.0,286.0 642.0,298.0 638.0,304.0 624.0,306.0 620.0,300.0" fill="#abdda4"/><polygon points="620.0,288.0 632.0,286.0 640.0,286.0 642.0,298.0 638.0,304.0 624.0,306.0 620.0,300.0" class="s" clip-path="url(#t5)"/>
<polygon points="640.0,286.0 650.0,286.0 654.0,296.0 652.0,302.0 644.0,304.0 642.0,298.0" fill="#2b83ba"/><polygon points="640.0,286.0 650.0,286.0 654.0,296.0 652.0,302.0 644.0,304.0 642.0,298.0" class="s" clip-path="url(#t5)"/>
<polygon points="604.0,300.0 618.0,300.0 620.0,306.0 620.0,316.0 626.0,320.0 622.0,326.0 614.0,326.0 608.0,318.0 606.0,310.0" fill="#d7191c"/><polygon points="604.0,300.0 618.0,300.0 620.0,306.0 620.0,316.0 626.0,320.0 622.0,326.0 614.0,326.0 608.0,318.0 606.0,310.0" class="s" clip-path="url(#t5)"/>
<polygon points="618.0,300.0 630.0,301.0 624.0,306.0 620.0,306.0" fill="#2b83ba"/><polygon points="618.0,300.0 630.0,301.0 624.0,306.0 620.0,306.0" class="s" clip-path="url(#t5)"/>
<polygon points="620.0,306.0 634.0,304.0 652.0,306.0 658.0,310.0 660.0,320.0 656.0,322.0 654.0,328.0 648.0,328.0 644.0,332.0 636.0,331.0 630.0,334.0 622.0,328.0 626.0,320.0 620.0,316.0" fill="#abdda4"/><polygon points="620.0,306.0 634.0,304.0 652.0,306.0 658.0,310.0 660.0,320.0 656.0,322.0 654.0,328.0 648.0,328.0 644.0,332.0 636.0,331.0 630.0,334.0 622.0,328.0 626.0,320.0 620.0,316.0" class="s" clip-path="url(#t5)"/>
<polygon points="662.0,320.0 684.0,322.0 688.0,328.0 682.0,344.0 662.0,344.0 664.0,338.0 664.0,324.0" fill="#abdda4"/><polygon points="662.0,320.0 684.0,322.0 688.0,328.0 682.0,344.0 662.0,344.0 664.0,338.0 664.0,324.0" class="s" clip-path="url(#t5)"/>
<polygon points="654.0,344.0 684.0,344.0 672.0,356.0 660.0,372.0 648.0,388.0 644.0,395.0 614.0,395.0 630.0,388.0 634.0,380.0 646.0,370.0 654.0,360.0" fill="#2b83ba"/><polygon points="654.0,344.0 684.0,344.0 672.0,356.0 660.0,372.0 648.0,388.0 644.0,395.0 614.0,395.0 630.0,388.0 634.0,380.0 646.0,370.0 654.0,360.0" class="s" clip-path="url(#t5)"/>
<polygon points="600.0,300.0 604.0,300.0 608.0,318.0 610.0,328.0 604.0,324.0 600.0,328.0" fill="#abdda4"/><polygon points="600.0,300.0 604.0,300.0 608.0,318.0 610.0,328.0 604.0,324.0 600.0,328.0" class="s" clip-path="url(#t5)"/>
<polygon points="600.0,328.0 604.0,328.0 604.0,344.0 600.0,344.0" fill="#abdda4"/><polygon points="600.0,328.0 604.0,328.0 604.0,344.0 600.0,344.0" class="s" clip-path="url(#t5)"/>
<polygon points="520.0,320.0 532.0,320.0 530.0,328.0 524.0,324.0" fill="#fdae61"/><polygon points="520.0,320.0 532.0,320.0 530.0,328.0 524.0,324.0" class="s" clip-path="url(#t6)"/>
<polygon points="520.0,320.0 550.0,320.0 552.0,326.0 544.0,332.0 536.0,338.0 528.0,336.0 520.0,332.0" fill="#2b83ba"/><polygon points="520.0,320.0 550.0,320.0 552.0,326.0 544.0,332.0 536.0,338.0 528.0,336.0 520.0,332.0" class="s" clip-path="url(#t6)"/>
<polygon points="558.0,320.0 572.0,320.0 574.0,326.0 570.0,332.0 560.0,332.0" fill="#abdda4"/><polygon points="558.0,320.0 572.0,320.0 574.0,326.0 570.0,332.0 560.0,332.0" class="s" clip-path="url(#t6)"/>
<polygon points="572.0,320.0 580.0,322.0 588.0,328.0 592.0,334.0 584.0,338.0 576.0,336.0 572.0,332.0" fill="#ffffbf"/><polygon points="572.0,320.0 580.0,322.0 588.0,328.0 592.0,334.0 584.0,338.0 576.0,336.0 572.0,332.0" class="s" clip-path="url(#t6)"/>
<polygon points="580.0,320.0 602.0,320.0 608.0,328.0 616.0,332.0 620.0,336.0 604.0,342.0 586.0,344.0 584.0,338.0 592.0,334.0" fill="#abdda4"/><polygon points="580.0,320.0 602.0,320.0 608.0,328.0 616.0,332.0 620.0,336.0 604.0,342.0 586.0,344.0 584.0,338.0 592.0,334.0" class="s" clip-path="url(#t6)"/>
<polygon points="532.0,338.0 544.0,332.0 552.0,328.0 560.0,332.0 552.0,340.0 552.0,352.0 546.0,354.0 540.0,344.0" fill="#abdda4"/><polygon points="532.0,338.0 544.0,332.0 552.0,328.0 560.0,332.0 552.0,340.0 552.0,352.0 546.0,354.0 540.0,344.0" class="s" clip-path="url(#t6)"/>
<polygon points="552.0,332.0 570.0,332.0 578.0,336.0 582.0,346.0 572.0,348.0 564.0,344.0 556.0,350.0 552.0,346.0" fill="#2b83ba"/><polygon points="552.0,332.0 570.0,332.0 578.0,336.0 582.0,346.0 572.0,348.0 564.0,344.0 556.0,350.0 552.0,346.0" class="s" clip-path="url(#t6)"/>
<polygon points="554.0,350.0 566.0,344.0 572.0,348.0 586.0,344.0 580.0,354.0 576.0,362.0 572.0,364.0 564.0,358.0 556.0,354.0" fill="#2b83ba"/><polygon points="554.0,350.0 566.0,344.0 572.0,348.0 586.0,344.0 580.0,354.0 576.0,362.0 572.0,364.0 564.0,358.0 556.0,354.0" class="s" clip-path="url(#t6)"/>
<polygon points="576.0,362.0 580.0,354.0 586.0,344.0 604.0,342.0 608.0,340.0 604.0,348.0 598.0,358.0 594.0,364.0 596.0,374.0 588.0,378.0 582.0,370.0" fill="#abdda4"/><polygon points="576.0,362.0 580.0,354.0 586.0,344.0 604.0,342.0 608.0,340.0 604.0,348.0 598.0,358.0 594.0,364.0 596.0,374.0 588.0,378.0 582.0,370.0" class="s" clip-path="url(#t6)"/>
<polygon points="536.0,374.0 546.0,354.0 556.0,354.0 566.0,360.0 572.0,366.0 578.0,374.0 580.0,382.0 586.0,388.0 588.0,394.0 576.0,400.0 572.0,408.0 562.0,408.0 560.0,396.0 548.0,380.0 540.0,378.0" fill="#ffffbf"/><polygon points="536.0,374.0 546.0,354.0 556.0,354.0 566.0,360.0 572.0,366.0 578.0,374.0 580.0,382.0 586.0,388.0 588.0,394.0 576.0,400.0 572.0,408.0 562.0,408.0 560.0,396.0 548.0,380.0 540.0,378.0" class="s" clip-path="url(#t6)"/>
<polygon points="566.0,372.0 576.0,366.0 582.0,370.0 588.0,378.0 588.0,392.0 580.0,390.0 576.0,382.0" fill="#ffffbf"/><polygon points="566.0,372.0 576.0,366.0 582.0,370.0 588.0,378.0 588.0,392.0 580.0,390.0 576.0,382.0" class="s" clip-path="url(#t6)"/>
<polygon points="538.0,368.0 544.0,362.0 548.0,358.0 552.0,368.0 548.0,374.0 540.0,374.0" fill="#d7191c"/><polygon points="538.0,368.0 544.0,362.0 548.0,358.0 552.0,368.0 548.0,374.0 540.0,374.0" class="s" clip-path="url(#t6)"/>
<polygon points="520.0,340.0 532.0,338.0 540.0,346.0 546.0,354.0 536.0,374.0 528.0,372.0 520.0,364.0" fill="#2b83ba"/><polygon points="520.0,340.0 532.0,338.0 540.0,346.0 546.0,354.0 536.0,374.0 528.0,372.0 520.0,364.0" class="s" clip-path="url(#t6)"/>
<polygon points="520.0,376.0 536.0,374.0 548.0,380.0 560.0,396.0 562.0,408.0 560.0,410.0 548.0,414.0 546.0,424.0 540.0,426.0 528.0,420.0 520.0,416.0" fill="#2b83ba"/><polygon points="520.0,376.0 536.0,374.0 548.0,380.0 560.0,396.0 562.0,408.0 560.0,410.0 548.0,414.0 546.0,424.0 540.0,426.0 528.0,420.0 520.0,416.0" class="s" clip-path="url(#t6)"/>
<polygon points="520.0,378.0 526.0,378.0 526.0,388.0 520.0,388.0" fill="#abdda4"/><polygon points="520.0,378.0 526.0,378.0 526.0,388.0 520.0,388.0" class="s" clip-path="url(#t6)"/>
<polygon points="520.0,416.0 528.0,420.0 540.0,426.0 544.0,432.0 542.0,440.0 536.0,432.0 528.0,424.0 520.0,422.0" fill="#abdda4"/><polygon points="520.0,416.0 528.0,420.0 540.0,426.0 544.0,432.0 542.0,440.0 536.0,432.0 528.0,424.0 520.0,422.0" class="s" clip-path="url(#t6)"/>
<polygon points="520.0,422.0 530.0,424.0 538.0,434.0 540.0,442.0 532.0,450.0 528.0,458.0 536.0,466.0 540.0,475.0 520.0,475.0" fill="#d7191c"/><polygon points="520.0,422.0 530.0,424.0 538.0,434.0 540.0,442.0 532.0,450.0 528.0,458.0 536.0,466.0 540.0,475.0 520.0,475.0" class="s" clip-path="url(#t6)"/>
<polygon points="540.0,456.0 548.0,458.0 556.0,458.0 560.0,452.0 570.0,448.0 580.0,440.0 588.0,436.0 590.0,428.0 596.0,428.0 610.0,426.0 596.0,434.0 580.0,444.0 564.0,454.0 552.0,462.0 544.0,468.0 540.0,475.0 538.0,468.0" fill="#fdae61"/><polygon points="540.0,456.0 548.0,458.0 556.0,458.0 560.0,452.0 570.0,448.0 580.0,440.0 588.0,436.0 590.0,428.0 596.0,428.0 610.0,426.0 596.0,434.0 580.0,444.0 564.0,454.0 552.0,462.0 544.0,468.0 540.0,475.0 538.0,468.0" class="s" clip-path="url(#t6)"/>
<polygon points="608.0,426.0 612.0,420.0 614.0,406.0 614.0,394.0 624.0,392.0 630.0,388.0 632.0,380.0 638.0,376.0 648.0,370.0 653.0,360.0 652.0,346.0 664.0,344.0 675.0,344.0 675.0,354.0 660.0,370.0 648.0,386.0 632.0,406.0 620.0,416.0 610.0,426.0" fill="#2b83ba"/><polygon points="608.0,426.0 612.0,420.0 614.0,406.0 614.0,394.0 624.0,392.0 630.0,388.0 632.0,380.0 638.0,376.0 648.0,370.0 653.0,360.0 652.0,346.0 664.0,344.0 675.0,344.0 675.0,354.0 660.0,370.0 648.0,386.0 632.0,406.0 620.0,416.0 610.0,426.0" class="s" clip-path="url(#t6)"/>
<polygon points="648.0,320.0 675.0,320.0 675.0,344.0 664.0,344.0 664.0,330.0 660.0,320.0" fill="#abdda4"/><polygon points="648.0,320.0 675.0,320.0 675.0,344.0 664.0,344.0 664.0,330.0 660.0,320.0" class="s" clip-path="url(#t6)"/>
<polygon points="480.0,240.0 492.0,240.0 488.0,248.0 480.0,248.0" fill="#2b83ba"/><polygon points="480.0,240.0 492.0,240.0 488.0,248.0 480.0,248.0" class="s" clip-path="url(#t7)"/>
<polygon points="488.0,240.0 502.0,240.0 504.0,248.0 498.0,252.0 490.0,248.0" fill="#abdda4"/><polygon points="488.0,240.0 502.0,240.0 504.0,248.0 498.0,252.0 490.0,248.0" class="s" clip-path="url(#t7)"/>
<polygon points="502.0,240.0 514.0,242.0 520.0,248.0 524.0,252.0 520.0,256.0 504.0,252.0" fill="#fdae61"/><polygon points="502.0,240.0 514.0,242.0 520.0,248.0 524.0,252.0 520.0,256.0 504.0,252.0" class="s" clip-path="url(#t7)"/>
<polygon points="514.0,240.0 532.0,240.0 528.0,248.0 520.0,248.0" fill="#2b83ba"/><polygon points="514.0,240.0 532.0,240.0 528.0,248.0 520.0,248.0" class="s" clip-path="url(#t7)"/>
<polygon points="482.0,252.0 492.0,250.0 502.0,252.0 508.0,258.0 506.0,268.0 500.0,270.0 492.0,280.0 488.0,274.0 484.0,262.0" fill="#2b83ba"/><polygon points="482.0,252.0 492.0,250.0 502.0,252.0 508.0,258.0 506.0,268.0 500.0,270.0 492.0,280.0 488.0,274.0 484.0,262.0" class="s" clip-path="url(#t7)"/>
<polygon points="500.0,268.0 508.0,254.0 512.0,254.0 518.0,268.0 518.0,288.0 510.0,296.0 504.0,292.0 502.0,280.0" fill="#d7191c"/><polygon points="500.0,268.0 508.0,254.0 512.0,254.0 518.0,268.0 518.0,288.0 510.0,296.0 504.0,292.0 502.0,280.0" class="s" clip-path="url(#t7)"/>
<polygon points="480.0,264.0 488.0,274.0 492.0,280.0 496.0,288.0 492.0,292.0 484.0,294.0 480.0,294.0" fill="#ffffbf"/><polygon points="480.0,264.0 488.0,274.0 492.0,280.0 496.0,288.0 492.0,292.0 484.0,294.0 480.0,294.0" class="s" clip-path="url(#t7)"/>
<polygon points="492.0,270.0 500.0,270.0 502.0,280.0 504.0,290.0 496.0,288.0" fill="#ffffbf"/><polygon points="492.0,270.0 500.0,270.0 502.0,280.0 504.0,290.0 496.0,288.0" class="s" clip-path="url(#t7)"/>
<polygon points="516.0,254.0 526.0,256.0 534.0,264.0 546.0,272.0 550.0,280.0 540.0,282.0 528.0,280.0 520.0,276.0 518.0,268.0" fill="#fdae61"/><polygon points="516.0,254.0 526.0,256.0 534.0,264.0 546.0,272.0 550.0,280.0 540.0,282.0 528.0,280.0 520.0,276.0 518.0,268.0" class="s" clip-path="url(#t7)"/>
<polygon points="518.0,278.0 528.0,280.0 534.0,282.0 532.0,286.0 526.0,292.0 520.0,290.0" fill="#abdda4"/><polygon points="518.0,278.0 528.0,280.0 534.0,282.0 532.0,286.0 526.0,292.0 520.0,290.0" class="s" clip-path="url(#t7)"/>
<polygon points="484.0,290.0 496.0,288.0 506.0,290.0 516.0,290.0 528.0,290.0 532.0,298.0 532.0,310.0 530.0,324.0 526.0,328.0 520.0,320.0 510.0,314.0 500.0,316.0 498.0,332.0 492.0,320.0 488.0,304.0" fill="#fdae61"/><polygon points="484.0,290.0 496.0,288.0 506.0,290.0 516.0,290.0 528.0,290.0 532.0,298.0 532.0,310.0 530.0,324.0 526.0,328.0 520.0,320.0 510.0,314.0 500.0,316.0 498.0,332.0 492.0,320.0 488.0,304.0" class="s" clip-path="url(#t7)"/>
<polygon points="480.0,296.0 486.0,298.0 492.0,306.0 488.0,320.0 486.0,334.0 480.0,334.0" fill="#d7191c"/><polygon points="480.0,296.0 486.0,298.0 492.0,306.0 488.0,320.0 486.0,334.0 480.0,334.0" class="s" clip-path="url(#t7)"/>
<polygon points="526.0,288.0 536.0,282.0 540.0,282.0 544.0,292.0 538.0,300.0 532.0,298.0" fill="#2b83ba"/><polygon points="526.0,288.0 536.0,282.0 540.0,282.0 544.0,292.0 538.0,300.0 532.0,298.0" class="s" clip-path="url(#t7)"/>
<polygon points="540.0,282.0 550.0,282.0 556.0,290.0 564.0,296.0 560.0,300.0 548.0,300.0 544.0,292.0" fill="#abdda4"/><polygon points="540.0,282.0 550.0,282.0 556.0,290.0 564.0,296.0 560.0,300.0 548.0,300.0 544.0,292.0" class="s" clip-path="url(#t7)"/>
<polygon points="550.0,278.0 560.0,274.0 566.0,280.0 564.0,290.0 556.0,292.0 550.0,284.0" fill="#d7191c"/><polygon points="550.0,278.0 560.0,274.0 566.0,280.0 564.0,290.0 556.0,292.0 550.0,284.0" class="s" clip-path="url(#t7)"/>
<polygon points="532.0,298.0 544.0,300.0 556.0,300.0 558.0,316.0 544.0,326.0 534.0,332.0 532.0,324.0" fill="#2b83ba"/><polygon points="532.0,298.0 544.0,300.0 556.0,300.0 558.0,316.0 544.0,326.0 534.0,332.0 532.0,324.0" class="s" clip-path="url(#t7)"/>
<polygon points="500.0,316.0 510.0,314.0 520.0,320.0 526.0,328.0 532.0,336.0 540.0,340.0 546.0,346.0 548.0,358.0 544.0,370.0 536.0,376.0 526.0,368.0 516.0,362.0 516.0,336.0" fill="#2b83ba"/><polygon points="500.0,316.0 510.0,314.0 520.0,320.0 526.0,328.0 532.0,336.0 540.0,340.0 546.0,346.0 548.0,358.0 544.0,370.0 536.0,376.0 526.0,368.0 516.0,362.0 516.0,336.0" class="s" clip-path="url(#t7)"/>
<polygon points="480.0,334.0 486.0,334.0 498.0,332.0 500.0,316.0 516.0,336.0 516.0,362.0 510.0,370.0 510.0,380.0 480.0,384.0" fill="#ffffbf"/><polygon points="480.0,334.0 486.0,334.0 498.0,332.0 500.0,316.0 516.0,336.0 516.0,362.0 510.0,370.0 510.0,380.0 480.0,384.0" class="s" clip-path="url(#t7)"/>
<polygon points="534.0,332.0 544.0,326.0 558.0,316.0 560.0,300.0 574.0,300.0 572.0,310.0 564.0,318.0 562.0,330.0 552.0,334.0 554.0,350.0 550.0,356.0 546.0,346.0 540.0,340.0" fill="#abdda4"/><polygon points="534.0,332.0 544.0,326.0 558.0,316.0 560.0,300.0 574.0,300.0 572.0,310.0 564.0,318.0 562.0,330.0 552.0,334.0 554.0,350.0 550.0,356.0 546.0,346.0 540.0,340.0" class="s" clip-path="url(#t7)"/>
<polygon points="556.0,306.0 568.0,304.0 574.0,316.0 572.0,330.0 562.0,330.0 564.0,318.0" fill="#abdda4"/><polygon points="556.0,306.0 568.0,304.0 574.0,316.0 572.0,330.0 562.0,330.0 564.0,318.0" class="s" clip-path="url(#t7)"/>
<polygon points="552.0,334.0 562.0,330.0 572.0,330.0 580.0,334.0 584.0,348.0 578.0,358.0 572.0,364.0 560.0,358.0 554.0,350.0" fill="#2b83ba"/><polygon points="552.0,334.0 562.0,330.0 572.0,330.0 580.0,334.0 584.0,348.0 578.0,358.0 572.0,364.0 560.0,358.0 554.0,350.0" class="s" clip-path="url(#t7)"/>
<polygon points="572.0,320.0 584.0,324.0 592.0,332.0 584.0,336.0 576.0,334.0" fill="#ffffbf"/><polygon points="572.0,320.0 584.0,324.0 592.0,332.0 584.0,336.0 576.0,334.0" class="s" clip-path="url(#t7)"/>
<polygon points="574.0,316.0 592.0,312.0 604.0,320.0 608.0,328.0 604.0,334.0 592.0,336.0 584.0,324.0" fill="#abdda4"/><polygon points="574.0,316.0 592.0,312.0 604.0,320.0 608.0,328.0 604.0,334.0 592.0,336.0 584.0,324.0" class="s" clip-path="url(#t7)"/>
<polygon points="584.0,336.0 604.0,334.0 616.0,334.0 620.0,338.0 608.0,344.0 604.0,356.0 596.0,364.0 590.0,370.0 580.0,372.0 572.0,364.0 578.0,358.0 584.0,348.0" fill="#abdda4"/><polygon points="584.0,336.0 604.0,334.0 616.0,334.0 620.0,338.0 608.0,344.0 604.0,356.0 596.0,364.0 590.0,370.0 580.0,372.0 572.0,364.0 578.0,358.0 584.0,348.0" class="s" clip-path="url(#t7)"/>
<polygon points="548.0,358.0 560.0,358.0 572.0,364.0 580.0,372.0 586.0,384.0 586.0,395.0 560.0,395.0 554.0,384.0 540.0,378.0 536.0,376.0 544.0,370.0" fill="#ffffbf"/><polygon points="548.0,358.0 560.0,358.0 572.0,364.0 580.0,372.0 586.0,384.0 586.0,395.0 560.0,395.0 554.0,384.0 540.0,378.0 536.0,376.0 544.0,370.0" class="s" clip-path="url(#t7)"/>
<polygon points="538.0,366.0 546.0,360.0 552.0,368.0 550.0,374.0 540.0,374.0" fill="#d7191c"/><polygon points="538.0,366.0 546.0,360.0 552.0,368.0 550.0,374.0 540.0,374.0" class="s" clip-path="url(#t7)"/>
<polygon points="510.0,360.0 526.0,368.0 536.0,376.0 540.0,378.0 554.0,384.0 560.0,395.0 526.0,395.0 522.0,384.0 512.0,378.0 508.0,370.0" fill="#2b83ba"/><polygon points="510.0,360.0 526.0,368.0 536.0,376.0 540.0,378.0 554.0,384.0 560.0,395.0 526.0,395.0 522.0,384.0 512.0,378.0 508.0,370.0" class="s" clip-path="url(#t7)"/>
<polygon points="480.0,380.0 510.0,380.0 522.0,384.0 526.0,395.0 480.0,395.0" fill="#abdda4"/><polygon points="480.0,380.0 510.0,380.0 522.0,384.0 526.0,395.0 480.0,395.0" class="s" clip-path="url(#t7)"/>
<polygon points="566.0,274.0 580.0,264.0 592.0,274.0 600.0,288.0 600.0,298.0 592.0,304.0 580.0,310.0 572.0,310.0 568.0,300.0 564.0,290.0" fill="#2b83ba"/><polygon points="566.0,274.0 580.0,264.0 592.0,274.0 600.0,288.0 600.0,298.0 592.0,304.0 580.0,310.0 572.0,310.0 568.0,300.0 564.0,290.0" class="s" clip-path="url(#t7)"/>
<polygon points="574.0,270.0 584.0,268.0 592.0,276.0 596.0,286.0 592.0,290.0 584.0,284.0 576.0,276.0" fill="#fdae61"/><polygon points="574.0,270.0 584.0,268.0 592.0,276.0 596.0,286.0 592.0,290.0 584.0,284.0 576.0,276.0" class="s" clip-path="url(#t7)"/>
<polygon points="584.0,298.0 600.0,298.0 606.0,306.0 600.0,314.0 592.0,312.0 580.0,310.0" fill="#2b83ba"/><polygon points="584.0,298.0 600.0,298.0 606.0,306.0 600.0,314.0 592.0,312.0 580.0,310.0" class="s" clip-path="url(#t7)"/>
<polygon points="602.0,300.0 612.0,298.0 620.0,302.0 620.0,316.0 624.0,322.0 616.0,326.0 608.0,324.0 604.0,314.0" fill="#d7191c"/><polygon points="602.0,300.0 612.0,298.0 620.0,302.0 620.0,316.0 624.0,322.0 616.0,326.0 608.0,324.0 604.0,314.0" class="s" clip-path="url(#t7)"/>
<polygon points="608.0,292.0 618.0,292.0 618.0,300.0 610.0,300.0" fill="#fdae61"/><polygon points="608.0,292.0 618.0,292.0 618.0,300.0 610.0,300.0" class="s" clip-path="url(#t7)"/>
<polygon points="620.0,292.0 635.0,288.0 635.0,332.0 624.0,328.0 620.0,316.0 620.0,302.0" fill="#abdda4"/><polygon points="620.0,292.0 635.0,288.0 635.0,332.0 624.0,328.0 620.0,316.0 620.0,302.0" class="s" clip-path="url(#t7)"/>
<polygon points="592.0,274.0 604.0,274.0 608.0,288.0 600.0,288.0" fill="#abdda4"/><polygon points="592.0,274.0 604.0,274.0 608.0,288.0 600.0,288.0" class="s" clip-path="url(#t7)"/>
<polygon points="612.0,276.0 624.0,278.0 632.0,284.0 628.0,288.0 616.0,288.0" fill="#fdae61"/><polygon points="612.0,276.0 624.0,278.0 632.0,284.0 628.0,288.0 616.0,288.0" class="s" clip-path="url(#t7)"/>
<polygon points="600.0,274.0 612.0,276.0 616.0,288.0 608.0,288.0" fill="#2b83ba"/><polygon points="600.0,274.0 612.0,276.0 616.0,288.0 608.0,288.0" class="s" clip-path="url(#t7)"/>
<polygon points="572.0,240.0 592.0,240.0 608.0,240.0 635.0,240.0 635.0,262.0 620.0,262.0 608.0,258.0 600.0,248.0 588.0,248.0 576.0,246.0" fill="#d7191c"/><polygon points="572.0,240.0 592.0,240.0 608.0,240.0 635.0,240.0 635.0,262.0 620.0,262.0 608.0,258.0 600.0,248.0 588.0,248.0 576.0,246.0" class="s" clip-path="url(#t7)"/>
<polygon points="576.0,246.0 592.0,246.0 600.0,250.0 592.0,252.0 576.0,252.0" fill="#2b83ba"/><polygon points="576.0,246.0 592.0,246.0 600.0,250.0 592.0,252.0 576.0,252.0" class="s" clip-path="url(#t7)"/>
<polygon points="556.0,254.0 564.0,252.0 574.0,254.0 572.0,260.0 560.0,264.0" fill="#ffffbf"/><polygon points="556.0,254.0 564.0,252.0 574.0,254.0 572.0,260.0 560.0,264.0" class="s" clip-path="url(#t7)"/>
<polygon points="560.0,250.0 570.0,248.0 574.0,254.0 568.0,256.0" fill="#2b83ba"/><polygon points="560.0,250.0 570.0,248.0 574.0,254.0 568.0,256.0" class="s" clip-path="url(#t7)"/>
<polygon points="538.0,256.0 546.0,254.0 552.0,258.0 546.0,262.0" fill="#d7191c"/><polygon points="538.0,256.0 546.0,254.0 552.0,258.0 546.0,262.0" class="s" clip-path="url(#t7)"/>
<polygon points="546.0,248.0 562.0,246.0 560.0,252.0 554.0,256.0 548.0,254.0" fill="#fdae61"/><polygon points="546.0,248.0 562.0,246.0 560.0,252.0 554.0,256.0 548.0,254.0" class="s" clip-path="url(#t7)"/>
<polygon points="546.0,260.0 556.0,256.0 556.0,268.0 548.0,272.0" fill="#fdae61"/><polygon points="546.0,260.0 556.0,256.0 556.0,268.0 548.0,272.0" class="s" clip-path="url(#t7)"/>
<polygon points="528.0,258.0 538.0,258.0 546.0,264.0 540.0,268.0 532.0,266.0" fill="#abdda4"/><polygon points="528.0,258.0 538.0,258.0 546.0,264.0 540.0,268.0 532.0,266.0" class="s" clip-path="url(#t7)"/>
<polygon points="576.0,256.0 588.0,256.0 596.0,260.0 598.0,270.0 592.0,274.0 580.0,264.0" fill="#ffffbf"/><polygon points="576.0,256.0 588.0,256.0 596.0,260.0 598.0,270.0 592.0,274.0 580.0,264.0" class="s" clip-path="url(#t7)"/>
<polygon points="588.0,260.0 604.0,262.0 608.0,272.0 600.0,274.0" fill="#ffffbf"/><polygon points="588.0,260.0 604.0,262.0 608.0,272.0 600.0,274.0" class="s" clip-path="url(#t7)"/>
<polygon points="600.0,256.0 612.0,256.0 612.0,262.0 602.0,262.0" fill="#fdae61"/><polygon points="600.0,256.0 612.0,256.0 612.0,262.0 602.0,262.0" class="s" clip-path="url(#t7)"/>
<polygon points="558.0,260.0 568.0,260.0 576.0,268.0 568.0,274.0 560.0,272.0" fill="#2b83ba"/><polygon points="558.0,260.0 568.0,260.0 576.0,268.0 568.0,274.0 560.0,272.0" class="s" clip-path="url(#t7)"/>
<polygon points="608.0,266.0 620.0,262.0 628.0,266.0 632.0,276.0 620.0,278.0 610.0,274.0" fill="#ffffbf"/><polygon points="608.0,266.0 620.0,262.0 628.0,266.0 632.0,276.0 620.0,278.0 610.0,274.0" class="s" clip-path="url(#t7)"/>
<polygon points="624.0,258.0 635.0,254.0 635.0,268.0 628.0,266.0" fill="#2b83ba"/><polygon points="624.0,258.0 635.0,254.0 635.0,268.0 628.0,266.0" class="s" clip-path="url(#t7)"/>
<polygon points="610.0,266.0 616.0,266.0 618.0,272.0 612.0,274.0" fill="#d7191c"/><polygon points="610.0,266.0 616.0,266.0 618.0,272.0 612.0,274.0" class="s" clip-path="url(#t7)"/>
<polygon points="550.0,240.0 558.0,240.0 556.0,244.0 550.0,244.0" fill="#d7191c"/><polygon points="550.0,240.0 558.0,240.0 556.0,244.0 550.0,244.0" class="s" clip-path="url(#t7)"/>
<polygon points="556.0,240.0 572.0,240.0 574.0,246.0 562.0,246.0" fill="#abdda4"/><polygon points="556.0,240.0 572.0,240.0 574.0,246.0 562.0,246.0" class="s" clip-path="url(#t7)"/>
<polygon points="532.0,240.0 550.0,240.0 548.0,248.0 538.0,250.0" fill="#2b83ba"/><polygon points="532.0,240.0 550.0,240.0 548.0,248.0 538.0,250.0" class="s" clip-path="url(#t7)"/>
<polygon points="520.0,248.0 530.0,248.0 536.0,252.0 532.0,258.0 524.0,254.0" fill="#abdda4"/><polygon points="520.0,248.0 530.0,248.0 536.0,252.0 532.0,258.0 524.0,254.0" class="s" clip-path="url(#t7)"/>
<polygon points="420.0,420.0 464.0,420.0 468.0,428.0 466.0,436.0 470.0,440.0 474.0,450.0 484.0,448.0 498.0,444.0 512.0,448.0 514.0,458.0 512.0,468.0 500.0,464.0 490.0,460.0 480.0,458.0 468.0,460.0 454.0,468.0 438.0,484.0 420.0,484.0" fill="#2b83ba"/><polygon points="420.0,420.0 464.0,420.0 468.0,428.0 466.0,436.0 470.0,440.0 474.0,450.0 484.0,448.0 498.0,444.0 512.0,448.0 514.0,458.0 512.0,468.0 500.0,464.0 490.0,460.0 480.0,458.0 468.0,460.0 454.0,468.0 438.0,484.0 420.0,484.0" class="s" clip-path="url(#t8)"/>
<polygon points="464.0,428.0 468.0,420.0 496.0,420.0 500.0,428.0 498.0,436.0 496.0,444.0 486.0,446.0 482.0,436.0 472.0,436.0" fill="#abdda4"/><polygon points="464.0,428.0 468.0,420.0 496.0,420.0 500.0,428.0 498.0,436.0 496.0,444.0 486.0,446.0 482.0,436.0 472.0,436.0" class="s" clip-path="url(#t8)"/>
<polygon points="470.0,440.0 484.0,436.0 488.0,446.0 486.0,454.0 480.0,458.0 474.0,450.0" fill="#ffffbf"/><polygon points="470.0,440.0 484.0,436.0 488.0,446.0 486.0,454.0 480.0,458.0 474.0,450.0" class="s" clip-path="url(#t8)"/>
<polygon points="496.0,424.0 504.0,420.0 522.0,422.0 532.0,426.0 540.0,436.0 540.0,442.0 528.0,446.0 526.0,456.0 540.0,468.0 538.0,480.0 524.0,496.0 514.0,510.0 508.0,522.0 496.0,522.0 497.0,508.0 490.0,496.0 488.0,488.0 492.0,482.0 500.0,474.0 512.0,470.0 514.0,458.0 512.0,448.0 500.0,442.0 498.0,432.0" fill="#d7191c"/><polygon points="496.0,424.0 504.0,420.0 522.0,422.0 532.0,426.0 540.0,436.0 540.0,442.0 528.0,446.0 526.0,456.0 540.0,468.0 538.0,480.0 524.0,496.0 514.0,510.0 508.0,522.0 496.0,522.0 497.0,508.0 490.0,496.0 488.0,488.0 492.0,482.0 500.0,474.0 512.0,470.0 514.0,458.0 512.0,448.0 500.0,442.0 498.0,432.0" class="s" clip-path="url(#t8)"/>
<polygon points="508.0,420.0 520.0,420.0 518.0,426.0 510.0,424.0" fill="#2b83ba"/><polygon points="508.0,420.0 520.0,420.0 518.0,426.0 510.0,424.0" class="s" clip-path="url(#t8)"/>
<polygon points="520.0,420.0 542.0,420.0 544.0,428.0 542.0,436.0 534.0,428.0 522.0,424.0" fill="#abdda4"/><polygon points="520.0,420.0 542.0,420.0 544.0,428.0 542.0,436.0 534.0,428.0 522.0,424.0" class="s" clip-path="url(#t8)"/>
<polygon points="536.0,420.0 546.0,420.0 544.0,428.0" fill="#2b83ba"/><polygon points="536.0,420.0 546.0,420.0 544.0,428.0" class="s" clip-path="url(#t8)"/>
<polygon points="454.0,468.0 468.0,460.0 480.0,458.0 490.0,460.0 480.0,476.0 464.0,470.0" fill="#d7191c"/><polygon points="454.0,468.0 468.0,460.0 480.0,458.0 490.0,460.0 480.0,476.0 464.0,470.0" class="s" clip-path="url(#t8)"/>
<polygon points="438.0,484.0 454.0,468.0 464.0,470.0 480.0,476.0 490.0,460.0 500.0,464.0 512.0,468.0 500.0,474.0 492.0,482.0 486.0,482.0 480.0,494.0 484.0,500.0 470.0,506.0 464.0,510.0 462.0,518.0 452.0,521.0 440.0,518.0 426.0,512.0 420.0,508.0 420.0,484.0" fill="#ffffbf"/><polygon points="438.0,484.0 454.0,468.0 464.0,470.0 480.0,476.0 490.0,460.0 500.0,464.0 512.0,468.0 500.0,474.0 492.0,482.0 486.0,482.0 480.0,494.0 484.0,500.0 470.0,506.0 464.0,510.0 462.0,518.0 452.0,521.0 440.0,518.0 426.0,512.0 420.0,508.0 420.0,484.0" class="s" clip-path="url(#t8)"/>
<polygon points="424.0,575.0 428.0,564.0 436.0,556.0 450.0,544.0 452.0,535.0 460.0,534.0 472.0,542.0 480.0,540.0 488.0,532.0 496.0,522.0 510.0,522.0 504.0,540.0 496.0,558.0 488.0,575.0" fill="#fdae61"/><polygon points="424.0,575.0 428.0,564.0 436.0,556.0 450.0,544.0 452.0,535.0 460.0,534.0 472.0,542.0 480.0,540.0 488.0,532.0 496.0,522.0 510.0,522.0 504.0,540.0 496.0,558.0 488.0,575.0" class="s" clip-path="url(#t8)"/>
<polygon points="448.0,540.0 504.0,540.0 496.0,552.0 492.0,562.0 476.0,576.0 460.0,590.0 446.0,600.0 438.0,606.0 430.0,611.0 420.0,606.0 420.0,600.0 423.0,596.0 428.0,588.0 426.0,574.0 428.0,566.0 434.0,560.0 436.0,556.0 442.0,558.0 448.0,550.0" fill="#fdae61"/><polygon points="448.0,540.0 504.0,540.0 496.0,552.0 492.0,562.0 476.0,576.0 460.0,590.0 446.0,600.0 438.0,606.0 430.0,611.0 420.0,606.0 420.0,600.0 423.0,596.0 428.0,588.0 426.0,574.0 428.0,566.0 434.0,560.0 436.0,556.0 442.0,558.0 448.0,550.0" class="s" clip-path="url(#t9)"/>
<polygon points="419.0,604.0 429.0,596.6 438.4,605.0 430.0,611.6 426.4,609.4" fill="#abdda4"/><polygon points="419.0,604.0 429.0,596.6 438.4,605.0 430.0,611.6 426.4,609.4" class="s" clip-path="url(#t9)"/>
<polygon points="325.0,422.0 338.0,420.0 386.0,420.0 382.0,430.0 384.0,448.0 388.0,458.0 382.0,462.0 374.0,462.0 366.0,454.0 356.0,446.0 344.0,438.0 338.0,428.0" fill="#d7191c"/><polygon points="325.0,422.0 338.0,420.0 386.0,420.0 382.0,430.0 384.0,448.0 388.0,458.0 382.0,462.0 374.0,462.0 366.0,454.0 356.0,446.0 344.0,438.0 338.0,428.0" class="s" clip-path="url(#t10)"/>
<polygon points="386.0,420.0 445.0,420.0 445.0,484.0 438.0,486.0 426.0,482.0 410.0,484.0 404.0,480.0 398.0,474.0 390.0,468.0 384.0,460.0 388.0,458.0 384.0,448.0 382.0,430.0" fill="#2b83ba"/><polygon points="386.0,420.0 445.0,420.0 445.0,484.0 438.0,486.0 426.0,482.0 410.0,484.0 404.0,480.0 398.0,474.0 390.0,468.0 384.0,460.0 388.0,458.0 384.0,448.0 382.0,430.0" class="s" clip-path="url(#t10)"/>
<polygon points="426.0,575.0 430.0,560.0 438.0,556.0 445.0,554.0 445.0,575.0" fill="#fdae61"/><polygon points="426.0,575.0 430.0,560.0 438.0,556.0 445.0,554.0 445.0,575.0" class="s" clip-path="url(#t10)"/>
<polygon points="309.0,328.0 323.0,320.0 367.0,320.0 363.0,326.0 373.0,344.0 383.0,346.0 381.0,356.0 367.0,366.0 353.0,362.0 339.0,354.0 323.0,352.0 321.0,340.0 315.0,332.0" fill="#fdae61"/><polygon points="309.0,328.0 323.0,320.0 367.0,320.0 363.0,326.0 373.0,344.0 383.0,346.0 381.0,356.0 367.0,366.0 353.0,362.0 339.0,354.0 323.0,352.0 321.0,340.0 315.0,332.0" class="s" clip-path="url(#t11)"/>
<polygon points="359.0,324.0 373.0,320.0 390.0,320.0 390.0,350.0 381.0,350.0 373.0,344.0 365.0,344.0 359.0,336.0" fill="#2b83ba"/><polygon points="359.0,324.0 373.0,320.0 390.0,320.0 390.0,350.0 381.0,350.0 373.0,344.0 365.0,344.0 359.0,336.0" class="s" clip-path="url(#t11)"/>
<polygon points="325.0,422.0 341.0,412.0 355.0,400.0 375.0,396.0 387.0,384.0 390.0,382.0 390.0,466.0 375.0,462.0 359.0,450.0 345.0,440.0 335.0,426.0" fill="#d7191c"/><polygon points="325.0,422.0 341.0,412.0 355.0,400.0 375.0,396.0 387.0,384.0 390.0,382.0 390.0,466.0 375.0,462.0 359.0,450.0 345.0,440.0 335.0,426.0" class="s" clip-path="url(#t11)"/>
<polygon points="381.0,408.0 390.0,404.0 390.0,466.0 385.0,460.0 383.0,440.0 387.0,424.0" fill="#2b83ba"/><polygon points="381.0,408.0 390.0,404.0 390.0,466.0 385.0,460.0 383.0,440.0 387.0,424.0" class="s" clip-path="url(#t11)"/>
<polygon points="160.0,250.0 164.0,232.0 170.0,230.0 184.0,222.0 186.0,216.0 208.0,210.0 194.0,230.0 204.0,234.0 220.0,234.0 240.0,230.0 252.0,228.0 260.0,230.0 264.0,240.0 256.0,238.0 246.0,240.0 236.0,248.0 230.0,254.0 218.0,248.0 210.0,247.0 204.0,248.0 200.0,252.0 188.0,252.0 180.0,256.0 168.0,256.0" fill="#abdda4"/><polygon points="160.0,250.0 164.0,232.0 170.0,230.0 184.0,222.0 186.0,216.0 208.0,210.0 194.0,230.0 204.0,234.0 220.0,234.0 240.0,230.0 252.0,228.0 260.0,230.0 264.0,240.0 256.0,238.0 246.0,240.0 236.0,248.0 230.0,254.0 218.0,248.0 210.0,247.0 204.0,248.0 200.0,252.0 188.0,252.0 180.0,256.0 168.0,256.0" class="s" clip-path="url(#t12)"/>
<polygon points="192.0,216.0 194.0,204.0 206.0,196.0 212.0,190.0 240.0,190.0 254.0,198.0 264.0,210.0 274.0,220.0 266.0,222.0 262.0,228.0 256.0,224.0 240.0,220.0 220.0,216.0 210.0,214.0 208.0,210.0" fill="#d7191c"/><polygon points="192.0,216.0 194.0,204.0 206.0,196.0 212.0,190.0 240.0,190.0 254.0,198.0 264.0,210.0 274.0,220.0 266.0,222.0 262.0,228.0 256.0,224.0 240.0,220.0 220.0,216.0 210.0,214.0 208.0,210.0" class="s" clip-path="url(#t12)"/>
<polygon points="256.0,198.0 272.0,194.0 288.0,200.0 300.0,206.0 292.0,216.0 298.0,224.0 296.0,236.0 286.0,238.0 276.0,238.0 264.0,240.0 258.0,230.0 264.0,222.0 272.0,220.0" fill="#2b83ba"/><polygon points="256.0,198.0 272.0,194.0 288.0,200.0 300.0,206.0 292.0,216.0 298.0,224.0 296.0,236.0 286.0,238.0 276.0,238.0 264.0,240.0 258.0,230.0 264.0,222.0 272.0,220.0" class="s" clip-path="url(#t12)"/>
<polygon points="194.0,230.0 208.0,216.0 220.0,216.0 240.0,220.0 256.0,224.0 260.0,230.0 252.0,228.0 240.0,230.0 220.0,234.0 204.0,234.0" fill="#2b83ba"/><polygon points="194.0,230.0 208.0,216.0 220.0,216.0 240.0,220.0 256.0,224.0 260.0,230.0 252.0,228.0 240.0,230.0 220.0,234.0 204.0,234.0" class="s" clip-path="url(#t12)"/>
<polygon points="230.0,254.0 236.0,248.0 246.0,240.0 256.0,238.0 264.0,240.0 260.0,252.0 268.0,258.0 272.0,268.0 264.0,276.0 254.0,274.0 242.0,266.0 236.0,260.0" fill="#abdda4"/><polygon points="230.0,254.0 236.0,248.0 246.0,240.0 256.0,238.0 264.0,240.0 260.0,252.0 268.0,258.0 272.0,268.0 264.0,276.0 254.0,274.0 242.0,266.0 236.0,260.0" class="s" clip-path="url(#t12)"/>
<polygon points="140.0,258.0 168.0,256.0 184.0,270.0 184.0,282.0 196.0,298.0 202.0,308.0 192.0,314.0 176.0,316.0 162.0,320.0 140.0,320.0" fill="#fdae61"/><polygon points="140.0,258.0 168.0,256.0 184.0,270.0 184.0,282.0 196.0,298.0 202.0,308.0 192.0,314.0 176.0,316.0 162.0,320.0 140.0,320.0" class="s" clip-path="url(#t12)"/>
<polygon points="240.0,190.0 264.0,190.0 280.0,190.0 315.0,190.0 315.0,262.0 308.0,254.0 302.0,244.0 296.0,236.0 298.0,224.0 292.0,216.0 300.0,206.0 288.0,200.0 272.0,194.0 256.0,198.0 254.0,198.0" fill="#fdae61"/><polygon points="240.0,190.0 264.0,190.0 280.0,190.0 315.0,190.0 315.0,262.0 308.0,254.0 302.0,244.0 296.0,236.0 298.0,224.0 292.0,216.0 300.0,206.0 288.0,200.0 272.0,194.0 256.0,198.0 254.0,198.0" class="s" clip-path="url(#t12)"/>
<polygon points="288.0,276.0 300.0,274.0 315.0,274.0 315.0,314.0 300.0,314.0 290.0,310.0 276.0,310.0 282.0,296.0" fill="#abdda4"/><polygon points="288.0,276.0 300.0,274.0 315.0,274.0 315.0,314.0 300.0,314.0 290.0,310.0 276.0,310.0 282.0,296.0" class="s" clip-path="url(#t12)"/>
<polygon points="315.0,190.0 323.0,190.0 325.0,200.0 319.0,210.0 315.0,212.0" fill="#fdae61"/><polygon points="315.0,190.0 323.0,190.0 325.0,200.0 319.0,210.0 315.0,212.0" class="s" clip-path="url(#t13)"/>
<polygon points="323.0,190.0 347.0,190.0 349.0,200.0 351.0,210.0 353.0,218.0 349.0,220.0 339.0,210.0 325.0,200.0" fill="#ffffbf"/><polygon points="323.0,190.0 347.0,190.0 349.0,200.0 351.0,210.0 353.0,218.0 349.0,220.0 339.0,210.0 325.0,200.0" class="s" clip-path="url(#t13)"/>
<polygon points="317.0,212.0 325.0,200.0 339.0,210.0 349.0,220.0 345.0,230.0 335.0,236.0 327.0,230.0 323.0,220.0" fill="#abdda4"/><polygon points="317.0,212.0 325.0,200.0 339.0,210.0 349.0,220.0 345.0,230.0 335.0,236.0 327.0,230.0 323.0,220.0" class="s" clip-path="url(#t13)"/>
<polygon points="349.0,196.0 365.0,190.0 383.0,190.0 385.0,206.0 377.0,210.0 365.0,210.0 355.0,214.0 351.0,210.0" fill="#abdda4"/><polygon points="349.0,196.0 365.0,190.0 383.0,190.0 385.0,206.0 377.0,210.0 365.0,210.0 355.0,214.0 351.0,210.0" class="s" clip-path="url(#t13)"/>
<polygon points="383.0,190.0 403.0,190.0 401.0,202.0 395.0,206.0 385.0,206.0" fill="#ffffbf"/><polygon points="383.0,190.0 403.0,190.0 401.0,202.0 395.0,206.0 385.0,206.0" class="s" clip-path="url(#t13)"/>
<polygon points="399.0,190.0 439.0,190.0 443.0,198.0 431.0,202.0 419.0,206.0 417.0,216.0 409.0,216.0 401.0,210.0 403.0,200.0" fill="#d7191c"/><polygon points="399.0,190.0 439.0,190.0 443.0,198.0 431.0,202.0 419.0,206.0 417.0,216.0 409.0,216.0 401.0,210.0 403.0,200.0" class="s" clip-path="url(#t13)"/>
<polygon points="439.0,190.0 461.0,190.0 459.0,198.0 453.0,204.0 443.0,198.0" fill="#fdae61"/><polygon points="439.0,190.0 461.0,190.0 459.0,198.0 453.0,204.0 443.0,198.0" class="s" clip-path="url(#t13)"/>
<polygon points="461.0,190.0 470.0,190.0 470.0,216.0 459.0,218.0 451.0,220.0 439.0,218.0 427.0,226.0 423.0,224.0 431.0,214.0 443.0,202.0 451.0,200.0 459.0,198.0" fill="#d7191c"/><polygon points="461.0,190.0 470.0,190.0 470.0,216.0 459.0,218.0 451.0,220.0 439.0,218.0 427.0,226.0 423.0,224.0 431.0,214.0 443.0,202.0 451.0,200.0 459.0,198.0" class="s" clip-path="url(#t13)"/>
<polygon points="415.0,202.0 431.0,202.0 435.0,212.0 427.0,218.0 419.0,220.0 417.0,210.0" fill="#fdae61"/><polygon points="415.0,202.0 431.0,202.0 435.0,212.0 427.0,218.0 419.0,220.0 417.0,210.0" class="s" clip-path="url(#t13)"/>
<polygon points="427.0,226.0 439.0,218.0 453.0,220.0 459.0,230.0 455.0,234.0 443.0,232.0 431.0,230.0" fill="#fdae61"/><polygon points="427.0,226.0 439.0,218.0 453.0,220.0 459.0,230.0 455.0,234.0 443.0,232.0 431.0,230.0" class="s" clip-path="url(#t13)"/>
<polygon points="345.0,230.0 355.0,214.0 365.0,210.0 385.0,206.0 395.0,206.0 401.0,210.0 409.0,216.0 417.0,216.0 419.0,220.0 423.0,224.0 431.0,230.0 443.0,232.0 439.0,238.0 427.0,238.0 425.0,248.0 421.0,252.0 417.0,254.0 409.0,264.0 403.0,262.0 399.0,252.0 379.0,254.0 385.0,242.0 375.0,234.0 365.0,238.0 357.0,232.0 349.0,234.0" fill="#fdae61"/><polygon points="345.0,230.0 355.0,214.0 365.0,210.0 385.0,206.0 395.0,206.0 401.0,210.0 409.0,216.0 417.0,216.0 419.0,220.0 423.0,224.0 431.0,230.0 443.0,232.0 439.0,238.0 427.0,238.0 425.0,248.0 421.0,252.0 417.0,254.0 409.0,264.0 403.0,262.0 399.0,252.0 379.0,254.0 385.0,242.0 375.0,234.0 365.0,238.0 357.0,232.0 349.0,234.0" class="s" clip-path="url(#t13)"/>
<polygon points="315.0,214.0 323.0,220.0 327.0,230.0 335.0,236.0 345.0,230.0 349.0,234.0 345.0,246.0 339.0,250.0 327.0,252.0 315.0,254.0" fill="#fdae61"/><polygon points="315.0,214.0 323.0,220.0 327.0,230.0 335.0,236.0 345.0,230.0 349.0,234.0 345.0,246.0 339.0,250.0 327.0,252.0 315.0,254.0" class="s" clip-path="url(#t13)"/>
<polygon points="339.0,250.0 345.0,244.0 349.0,234.0 357.0,232.0 365.0,238.0 375.0,234.0 373.0,244.0 367.0,254.0 363.0,260.0 355.0,262.0 349.0,258.0" fill="#2b83ba"/><polygon points="339.0,250.0 345.0,244.0 349.0,234.0 357.0,232.0 365.0,238.0 375.0,234.0 373.0,244.0 367.0,254.0 363.0,260.0 355.0,262.0 349.0,258.0" class="s" clip-path="url(#t13)"/>
<polygon points="365.0,256.0 375.0,236.0 379.0,232.0 387.0,242.0 379.0,254.0" fill="#abdda4"/><polygon points="365.0,256.0 375.0,236.0 379.0,232.0 387.0,242.0 379.0,254.0" class="s" clip-path="url(#t13)"/>
<polygon points="315.0,256.0 327.0,252.0 339.0,248.0 349.0,258.0 345.0,262.0 335.0,262.0 327.0,268.0 315.0,270.0" fill="#ffffbf"/><polygon points="315.0,256.0 327.0,252.0 339.0,248.0 349.0,258.0 345.0,262.0 335.0,262.0 327.0,268.0 315.0,270.0" class="s" clip-path="url(#t13)"/>
<polygon points="315.0,270.0 327.0,268.0 335.0,262.0 345.0,262.0 353.0,266.0 347.0,274.0 341.0,280.0 333.0,284.0 321.0,290.0 315.0,290.0" fill="#abdda4"/><polygon points="315.0,270.0 327.0,268.0 335.0,262.0 345.0,262.0 353.0,266.0 347.0,274.0 341.0,280.0 333.0,284.0 321.0,290.0 315.0,290.0" class="s" clip-path="url(#t13)"/>
<polygon points="349.0,258.0 355.0,262.0 363.0,260.0 361.0,266.0 353.0,266.0" fill="#2b83ba"/><polygon points="349.0,258.0 355.0,262.0 363.0,260.0 361.0,266.0 353.0,266.0" class="s" clip-path="url(#t13)"/>
<polygon points="343.0,274.0 353.0,266.0 361.0,266.0 371.0,260.0 379.0,266.0 383.0,270.0 399.0,274.0 409.0,272.0 419.0,278.0 415.0,294.0 405.0,298.0 391.0,302.0 383.0,294.0 375.0,288.0 367.0,282.0 355.0,282.0 345.0,282.0" fill="#d7191c"/><polygon points="343.0,274.0 353.0,266.0 361.0,266.0 371.0,260.0 379.0,266.0 383.0,270.0 399.0,274.0 409.0,272.0 419.0,278.0 415.0,294.0 405.0,298.0 391.0,302.0 383.0,294.0 375.0,288.0 367.0,282.0 355.0,282.0 345.0,282.0" class="s" clip-path="url(#t13)"/>
<polygon points="375.0,256.0 399.0,252.0 405.0,260.0 403.0,270.0 399.0,274.0 383.0,270.0 379.0,266.0" fill="#abdda4"/><polygon points="375.0,256.0 399.0,252.0 405.0,260.0 403.0,270.0 399.0,274.0 383.0,270.0 379.0,266.0" class="s" clip-path="url(#t13)"/>
<polygon points="355.0,282.0 367.0,280.0 375.0,286.0 381.0,290.0 377.0,292.0 367.0,296.0 359.0,298.0 355.0,290.0" fill="#2b83ba"/><polygon points="355.0,282.0 367.0,280.0 375.0,286.0 381.0,290.0 377.0,292.0 367.0,296.0 359.0,298.0 355.0,290.0" class="s" clip-path="url(#t13)"/>
<polygon points="315.0,290.0 321.0,290.0 333.0,284.0 355.0,282.0 359.0,298.0 345.0,300.0 335.0,302.0 325.0,308.0 315.0,310.0" fill="#abdda4"/><polygon points="315.0,290.0 321.0,290.0 333.0,284.0 355.0,282.0 359.0,298.0 345.0,300.0 335.0,302.0 325.0,308.0 315.0,310.0" class="s" clip-path="url(#t13)"/>
<polygon points="325.0,308.0 335.0,302.0 359.0,298.0 367.0,296.0 383.0,302.0 391.0,306.0 383.0,318.0 381.0,326.0 367.0,320.0 359.0,322.0 353.0,330.0 345.0,345.0 315.0,345.0 315.0,330.0 327.0,324.0 327.0,314.0" fill="#fdae61"/><polygon points="325.0,308.0 335.0,302.0 359.0,298.0 367.0,296.0 383.0,302.0 391.0,306.0 383.0,318.0 381.0,326.0 367.0,320.0 359.0,322.0 353.0,330.0 345.0,345.0 315.0,345.0 315.0,330.0 327.0,324.0 327.0,314.0" class="s" clip-path="url(#t13)"/>
<polygon points="315.0,310.0 325.0,308.0 327.0,314.0 327.0,324.0 315.0,330.0" fill="#ffffbf"/><polygon points="315.0,310.0 325.0,308.0 327.0,314.0 327.0,324.0 315.0,330.0" class="s" clip-path="url(#t13)"/>
<polygon points="359.0,322.0 371.0,318.0 379.0,326.0 385.0,322.0 397.0,324.0 401.0,334.0 395.0,345.0 361.0,345.0 357.0,334.0" fill="#2b83ba"/><polygon points="359.0,322.0 371.0,318.0 379.0,326.0 385.0,322.0 397.0,324.0 401.0,334.0 395.0,345.0 361.0,345.0 357.0,334.0" class="s" clip-path="url(#t13)"/>
<polygon points="383.0,314.0 391.0,302.0 405.0,298.0 415.0,294.0 427.0,294.0 435.0,298.0 443.0,302.0 439.0,314.0 443.0,322.0 435.0,328.0 419.0,334.0 407.0,342.0 399.0,345.0 395.0,345.0 401.0,334.0 397.0,324.0 385.0,322.0" fill="#d7191c"/><polygon points="383.0,314.0 391.0,302.0 405.0,298.0 415.0,294.0 427.0,294.0 435.0,298.0 443.0,302.0 439.0,314.0 443.0,322.0 435.0,328.0 419.0,334.0 407.0,342.0 399.0,345.0 395.0,345.0 401.0,334.0 397.0,324.0 385.0,322.0" class="s" clip-path="url(#t13)"/>
<polygon points="409.0,296.0 419.0,292.0 435.0,294.0 443.0,302.0 435.0,306.0 421.0,310.0 411.0,310.0 407.0,302.0" fill="#abdda4"/><polygon points="409.0,296.0 419.0,292.0 435.0,294.0 443.0,302.0 435.0,306.0 421.0,310.0 411.0,310.0 407.0,302.0" class="s" clip-path="url(#t13)"/>
<polygon points="399.0,345.0 419.0,334.0 435.0,328.0 443.0,322.0 447.0,330.0 445.0,345.0" fill="#abdda4"/><polygon points="399.0,345.0 419.0,334.0 435.0,328.0 443.0,322.0 447.0,330.0 445.0,345.0" class="s" clip-path="url(#t13)"/>
<polygon points="439.0,302.0 453.0,294.0 459.0,288.0 470.0,286.0 470.0,345.0 445.0,345.0 447.0,330.0 443.0,322.0 439.0,314.0" fill="#d7191c"/><polygon points="439.0,302.0 453.0,294.0 459.0,288.0 470.0,286.0 470.0,345.0 445.0,345.0 447.0,330.0 443.0,322.0 439.0,314.0" class="s" clip-path="url(#t13)"/>
<polygon points="419.0,278.0 427.0,274.0 439.0,278.0 447.0,286.0 453.0,294.0 443.0,302.0 435.0,298.0 427.0,294.0 415.0,294.0" fill="#fdae61"/><polygon points="419.0,278.0 427.0,274.0 439.0,278.0 447.0,286.0 453.0,294.0 443.0,302.0 435.0,298.0 427.0,294.0 415.0,294.0" class="s" clip-path="url(#t13)"/>
<polygon points="411.0,274.0 419.0,270.0 423.0,274.0 419.0,278.0 411.0,278.0" fill="#2b83ba"/><polygon points="411.0,274.0 419.0,270.0 423.0,274.0 419.0,278.0 411.0,278.0" class="s" clip-path="url(#t13)"/>
<polygon points="411.0,262.0 419.0,260.0 427.0,264.0 431.0,270.0 423.0,274.0 415.0,270.0" fill="#d7191c"/><polygon points="411.0,262.0 419.0,260.0 427.0,264.0 431.0,270.0 423.0,274.0 415.0,270.0" class="s" clip-path="url(#t13)"/>
<polygon points="421.0,252.0 429.0,250.0 439.0,256.0 439.0,262.0 427.0,264.0 419.0,260.0" fill="#fdae61"/><polygon points="421.0,252.0 429.0,250.0 439.0,256.0 439.0,262.0 427.0,264.0 419.0,260.0" class="s" clip-path="url(#t13)"/>
<polygon points="425.0,238.0 439.0,238.0 443.0,250.0 439.0,256.0 429.0,250.0" fill="#ffffbf"/><polygon points="425.0,238.0 439.0,238.0 443.0,250.0 439.0,256.0 429.0,250.0" class="s" clip-path="url(#t13)"/>
<polygon points="441.0,234.0 455.0,234.0 455.0,242.0 451.0,250.0 445.0,250.0" fill="#d7191c"/><polygon points="441.0,234.0 455.0,234.0 455.0,242.0 451.0,250.0 445.0,250.0" class="s" clip-path="url(#t13)"/>
<polygon points="443.0,254.0 455.0,250.0 459.0,258.0 455.0,264.0 445.0,260.0" fill="#2b83ba"/><polygon points="443.0,254.0 455.0,250.0 459.0,258.0 455.0,264.0 445.0,260.0" class="s" clip-path="url(#t13)"/>
<polygon points="435.0,264.0 445.0,260.0 455.0,264.0 455.0,274.0 449.0,278.0 445.0,288.0 441.0,284.0 435.0,278.0" fill="#ffffbf"/><polygon points="435.0,264.0 445.0,260.0 455.0,264.0 455.0,274.0 449.0,278.0 445.0,288.0 441.0,284.0 435.0,278.0" class="s" clip-path="url(#t13)"/>
<polygon points="447.0,270.0 455.0,266.0 459.0,274.0 455.0,284.0 449.0,288.0 445.0,284.0" fill="#abdda4"/><polygon points="447.0,270.0 455.0,266.0 459.0,274.0 455.0,284.0 449.0,288.0 445.0,284.0" class="s" clip-path="url(#t13)"/>
<polygon points="455.0,238.0 467.0,234.0 470.0,238.0 470.0,256.0 459.0,258.0 455.0,250.0" fill="#abdda4"/><polygon points="455.0,238.0 467.0,234.0 470.0,238.0 470.0,256.0 459.0,258.0 455.0,250.0" class="s" clip-path="url(#t13)"/>
<polygon points="459.0,260.0 470.0,256.0 470.0,266.0 463.0,266.0" fill="#2b83ba"/><polygon points="459.0,260.0 470.0,256.0 470.0,266.0 463.0,266.0" class="s" clip-path="url(#t13)"/>
<polygon points="455.0,250.0 463.0,250.0 463.0,258.0 459.0,258.0" fill="#ffffbf"/><polygon points="455.0,250.0 463.0,250.0 463.0,258.0 459.0,258.0" class="s" clip-path="url(#t13)"/>
<polygon points="465.0,230.0 470.0,228.0 470.0,236.0" fill="#ffffbf"/><polygon points="465.0,230.0 470.0,228.0 470.0,236.0" class="s" clip-path="url(#t13)"/>
<polygon points="455.0,270.0 463.0,266.0 470.0,270.0 470.0,282.0 463.0,284.0 459.0,278.0" fill="#abdda4"/><polygon points="455.0,270.0 463.0,266.0 470.0,270.0 470.0,282.0 463.0,284.0 459.0,278.0" class="s" clip-path="url(#t13)"/>
<polygon points="457.0,278.0 470.0,274.0 470.0,286.0 461.0,288.0" fill="#fdae61"/><polygon points="457.0,278.0 470.0,274.0 470.0,286.0 461.0,288.0" class="s" clip-path="url(#t13)"/>
<polygon points="455.0,180.0 467.0,180.0 469.0,184.0 483.0,184.0 481.0,196.0 469.0,198.0 467.0,210.0 465.0,218.0 455.0,220.0" fill="#d7191c"/><polygon points="455.0,180.0 467.0,180.0 469.0,184.0 483.0,184.0 481.0,196.0 469.0,198.0 467.0,210.0 465.0,218.0 455.0,220.0" class="s" clip-path="url(#t14)"/>
<polygon points="455.0,180.0 459.0,180.0 461.0,196.0 455.0,198.0" fill="#fdae61"/><polygon points="455.0,180.0 459.0,180.0 461.0,196.0 455.0,198.0" class="s" clip-path="url(#t14)"/>
<polygon points="469.0,198.0 481.0,196.0 485.0,198.0 487.0,210.0 487.0,224.0 477.0,226.0 467.0,218.0" fill="#fdae61"/><polygon points="469.0,198.0 481.0,196.0 485.0,198.0 487.0,210.0 487.0,224.0 477.0,226.0 467.0,218.0" class="s" clip-path="url(#t14)"/>
<polygon points="455.0,218.0 467.0,218.0 477.0,226.0 473.0,234.0 465.0,236.0 455.0,234.0" fill="#fdae61"/><polygon points="455.0,218.0 467.0,218.0 477.0,226.0 473.0,234.0 465.0,236.0 455.0,234.0" class="s" clip-path="url(#t14)"/>
<polygon points="465.0,232.0 477.0,226.0 481.0,234.0 473.0,238.0" fill="#ffffbf"/><polygon points="465.0,232.0 477.0,226.0 481.0,234.0 473.0,238.0" class="s" clip-path="url(#t14)"/>
<polygon points="485.0,188.0 495.0,184.0 499.0,192.0 495.0,200.0 487.0,198.0" fill="#abdda4"/><polygon points="485.0,188.0 495.0,184.0 499.0,192.0 495.0,200.0 487.0,198.0" class="s" clip-path="url(#t14)"/>
<polygon points="483.0,180.0 495.0,180.0 491.0,188.0" fill="#ffffbf"/><polygon points="483.0,180.0 495.0,180.0 491.0,188.0" class="s" clip-path="url(#t14)"/>
<polygon points="499.0,186.0 515.0,188.0 519.0,194.0 515.0,198.0 503.0,194.0" fill="#ffffbf"/><polygon points="499.0,186.0 515.0,188.0 519.0,194.0 515.0,198.0 503.0,194.0" class="s" clip-path="url(#t14)"/>
<polygon points="487.0,198.0 499.0,192.0 515.0,198.0 519.0,194.0 523.0,196.0 521.0,206.0 519.0,212.0 507.0,214.0 503.0,220.0 495.0,218.0 487.0,224.0" fill="#fdae61"/><polygon points="487.0,198.0 499.0,192.0 515.0,198.0 519.0,194.0 523.0,196.0 521.0,206.0 519.0,212.0 507.0,214.0 503.0,220.0 495.0,218.0 487.0,224.0" class="s" clip-path="url(#t14)"/>
<polygon points="499.0,180.0 515.0,180.0 517.0,186.0 515.0,188.0 499.0,186.0" fill="#fdae61"/><polygon points="499.0,180.0 515.0,180.0 517.0,186.0 515.0,188.0 499.0,186.0" class="s" clip-path="url(#t14)"/>
<polygon points="515.0,180.0 541.0,180.0 541.0,192.0 531.0,196.0 523.0,196.0 519.0,194.0 517.0,186.0" fill="#d7191c"/><polygon points="515.0,180.0 541.0,180.0 541.0,192.0 531.0,196.0 523.0,196.0 519.0,194.0 517.0,186.0" class="s" clip-path="url(#t14)"/>
<polygon points="539.0,180.0 559.0,180.0 563.0,186.0 575.0,188.0 571.0,192.0 559.0,194.0 549.0,196.0 541.0,192.0" fill="#d7191c"/><polygon points="539.0,180.0 559.0,180.0 563.0,186.0 575.0,188.0 571.0,192.0 559.0,194.0 549.0,196.0 541.0,192.0" class="s" clip-path="url(#t14)"/>
<polygon points="575.0,180.0 595.0,180.0 593.0,192.0 587.0,196.0 579.0,194.0 577.0,188.0" fill="#ffffbf"/><polygon points="575.0,180.0 595.0,180.0 593.0,192.0 587.0,196.0 579.0,194.0 577.0,188.0" class="s" clip-path="url(#t14)"/>
<polygon points="595.0,180.0 610.0,180.0 610.0,194.0 599.0,192.0 595.0,188.0" fill="#2b83ba"/><polygon points="595.0,180.0 610.0,180.0 610.0,194.0 599.0,192.0 595.0,188.0" class="s" clip-path="url(#t14)"/>
<polygon points="591.0,196.0 599.0,190.0 610.0,192.0 610.0,208.0 595.0,208.0 591.0,202.0" fill="#abdda4"/><polygon points="591.0,196.0 599.0,190.0 610.0,192.0 610.0,208.0 595.0,208.0 591.0,202.0" class="s" clip-path="url(#t14)"/>
<polygon points="575.0,192.0 587.0,196.0 591.0,202.0 587.0,208.0 579.0,208.0 573.0,200.0" fill="#fdae61"/><polygon points="575.0,192.0 587.0,196.0 591.0,202.0 587.0,208.0 579.0,208.0 573.0,200.0" class="s" clip-path="url(#t14)"/>
<polygon points="557.0,196.0 571.0,194.0 573.0,204.0 563.0,204.0" fill="#abdda4"/><polygon points="557.0,196.0 571.0,194.0 573.0,204.0 563.0,204.0" class="s" clip-path="url(#t14)"/>
<polygon points="543.0,196.0 557.0,196.0 559.0,204.0 567.0,208.0 561.0,210.0 551.0,210.0 545.0,206.0" fill="#fdae61"/><polygon points="543.0,196.0 557.0,196.0 559.0,204.0 567.0,208.0 561.0,210.0 551.0,210.0 545.0,206.0" class="s" clip-path="url(#t14)"/>
<polygon points="527.0,196.0 539.0,196.0 543.0,200.0 539.0,206.0 529.0,206.0" fill="#ffffbf"/><polygon points="527.0,196.0 539.0,196.0 543.0,200.0 539.0,206.0 529.0,206.0" class="s" clip-path="url(#t14)"/>
<polygon points="521.0,196.0 527.0,198.0 529.0,206.0 523.0,208.0 519.0,206.0" fill="#2b83ba"/><polygon points="521.0,196.0 527.0,198.0 529.0,206.0 523.0,208.0 519.0,206.0" class="s" clip-path="url(#t14)"/>
<polygon points="521.0,208.0 539.0,206.0 545.0,208.0 547.0,216.0 543.0,220.0 539.0,218.0 533.0,212.0 525.0,216.0" fill="#abdda4"/><polygon points="521.0,208.0 539.0,206.0 545.0,208.0 547.0,216.0 543.0,220.0 539.0,218.0 533.0,212.0 525.0,216.0" class="s" clip-path="url(#t14)"/>
<polygon points="527.0,216.0 535.0,212.0 539.0,218.0 539.0,220.0 531.0,220.0" fill="#d7191c"/><polygon points="527.0,216.0 535.0,212.0 539.0,218.0 539.0,220.0 531.0,220.0" class="s" clip-path="url(#t14)"/>
<polygon points="563.0,208.0 579.0,208.0 591.0,208.0 601.0,206.0 610.0,210.0 610.0,248.0 597.0,244.0 587.0,244.0 575.0,238.0 573.0,226.0 567.0,224.0 567.0,216.0" fill="#d7191c"/><polygon points="563.0,208.0 579.0,208.0 591.0,208.0 601.0,206.0 610.0,210.0 610.0,248.0 597.0,244.0 587.0,244.0 575.0,238.0 573.0,226.0 567.0,224.0 567.0,216.0" class="s" clip-path="url(#t14)"/>
<polygon points="597.0,216.0 605.0,216.0 603.0,226.0 599.0,226.0" fill="#fdae61"/><polygon points="597.0,216.0 605.0,216.0 603.0,226.0 599.0,226.0" class="s" clip-path="url(#t14)"/>
<polygon points="551.0,210.0 563.0,208.0 567.0,216.0 567.0,224.0 559.0,226.0 553.0,218.0" fill="#abdda4"/><polygon points="551.0,210.0 563.0,208.0 567.0,216.0 567.0,224.0 559.0,226.0 553.0,218.0" class="s" clip-path="url(#t14)"/>
<polygon points="553.0,216.0 565.0,218.0 563.0,224.0 555.0,224.0" fill="#ffffbf"/><polygon points="553.0,216.0 565.0,218.0 563.0,224.0 555.0,224.0" class="s" clip-path="url(#t14)"/>
<polygon points="505.0,214.0 519.0,212.0 521.0,206.0 525.0,216.0 527.0,222.0 525.0,232.0 515.0,236.0 509.0,236.0 505.0,228.0" fill="#2b83ba"/><polygon points="505.0,214.0 519.0,212.0 521.0,206.0 525.0,216.0 527.0,222.0 525.0,232.0 515.0,236.0 509.0,236.0 505.0,228.0" class="s" clip-path="url(#t14)"/>
<polygon points="485.0,220.0 495.0,218.0 503.0,220.0 505.0,228.0 509.0,236.0 499.0,240.0 489.0,240.0 483.0,232.0" fill="#abdda4"/><polygon points="485.0,220.0 495.0,218.0 503.0,220.0 505.0,228.0 509.0,236.0 499.0,240.0 489.0,240.0 483.0,232.0" class="s" clip-path="url(#t14)"/>
<polygon points="473.0,234.0 483.0,232.0 489.0,240.0 489.0,248.0 479.0,252.0 473.0,246.0" fill="#2b83ba"/><polygon points="473.0,234.0 483.0,232.0 489.0,240.0 489.0,248.0 479.0,252.0 473.0,246.0" class="s" clip-path="url(#t14)"/>
<polygon points="511.0,236.0 523.0,234.0 527.0,242.0 525.0,248.0 515.0,246.0" fill="#2b83ba"/><polygon points="511.0,236.0 523.0,234.0 527.0,242.0 525.0,248.0 515.0,246.0" class="s" clip-path="url(#t14)"/>
<polygon points="519.0,224.0 525.0,226.0 527.0,230.0 521.0,232.0" fill="#ffffbf"/><polygon points="519.0,224.0 525.0,226.0 527.0,230.0 521.0,232.0" class="s" clip-path="url(#t14)"/>
<polygon points="527.0,220.0 539.0,220.0 543.0,226.0 539.0,232.0 533.0,236.0 527.0,232.0" fill="#abdda4"/><polygon points="527.0,220.0 539.0,220.0 543.0,226.0 539.0,232.0 533.0,236.0 527.0,232.0" class="s" clip-path="url(#t14)"/>
<polygon points="543.0,224.0 549.0,228.0 555.0,240.0 553.0,246.0 549.0,244.0 545.0,232.0" fill="#d7191c"/><polygon points="543.0,224.0 549.0,228.0 555.0,240.0 553.0,246.0 549.0,244.0 545.0,232.0" class="s" clip-path="url(#t14)"/>
<polygon points="531.0,228.0 543.0,228.0 545.0,234.0 535.0,234.0" fill="#ffffbf"/><polygon points="531.0,228.0 543.0,228.0 545.0,234.0 535.0,234.0" class="s" clip-path="url(#t14)"/>
<polygon points="551.0,222.0 561.0,224.0 567.0,232.0 561.0,234.0 555.0,232.0" fill="#fdae61"/><polygon points="551.0,222.0 561.0,224.0 567.0,232.0 561.0,234.0 555.0,232.0" class="s" clip-path="url(#t14)"/>
<polygon points="555.0,234.0 567.0,232.0 569.0,240.0 559.0,242.0" fill="#ffffbf"/><polygon points="555.0,234.0 567.0,232.0 569.0,240.0 559.0,242.0" class="s" clip-path="url(#t14)"/>
<polygon points="563.0,234.0 575.0,230.0 579.0,238.0 575.0,242.0 565.0,242.0" fill="#abdda4"/><polygon points="563.0,234.0 575.0,230.0 579.0,238.0 575.0,242.0 565.0,242.0" class="s" clip-path="url(#t14)"/>
<polygon points="575.0,238.0 587.0,244.0 597.0,244.0 610.0,248.0 610.0,250.0 595.0,248.0 585.0,248.0 577.0,246.0" fill="#d7191c"/><polygon points="575.0,238.0 587.0,244.0 597.0,244.0 610.0,248.0 610.0,250.0 595.0,248.0 585.0,248.0 577.0,246.0" class="s" clip-path="url(#t14)"/>
<polygon points="521.0,234.0 531.0,234.0 531.0,244.0 523.0,246.0" fill="#abdda4"/><polygon points="521.0,234.0 531.0,234.0 531.0,244.0 523.0,246.0" class="s" clip-path="url(#t14)"/>
<polygon points="380.0,330.0 402.0,330.0 400.0,338.0 392.0,346.0 380.0,346.0" fill="#2b83ba"/><polygon points="380.0,330.0 402.0,330.0 400.0,338.0 392.0,346.0 380.0,346.0" class="s" clip-path="url(#t15)"/>
<polygon points="396.0,342.0 402.0,334.0 408.0,330.0 422.0,330.0 424.0,334.0 412.0,338.0 402.0,346.0" fill="#d7191c"/><polygon points="396.0,342.0 402.0,334.0 408.0,330.0 422.0,330.0 424.0,334.0 412.0,338.0 402.0,346.0" class="s" clip-path="url(#t15)"/>
<polygon points="380.0,348.0 392.0,346.0 402.0,348.0 396.0,360.0 400.0,370.0 388.0,378.0 380.0,380.0" fill="#ffffbf"/><polygon points="380.0,348.0 392.0,346.0 402.0,348.0 396.0,360.0 400.0,370.0 388.0,378.0 380.0,380.0" class="s" clip-path="url(#t15)"/>
<polygon points="380.0,350.0 384.0,350.0 384.0,356.0 380.0,356.0" fill="#fdae61"/><polygon points="380.0,350.0 384.0,350.0 384.0,356.0 380.0,356.0" class="s" clip-path="url(#t15)"/>
<polygon points="398.0,350.0 412.0,338.0 424.0,334.0 440.0,330.0 446.0,342.0 444.0,352.0 446.0,362.0 444.0,368.0 430.0,370.0 428.0,380.0 416.0,380.0 408.0,374.0 400.0,370.0 396.0,360.0" fill="#abdda4"/><polygon points="398.0,350.0 412.0,338.0 424.0,334.0 440.0,330.0 446.0,342.0 444.0,352.0 446.0,362.0 444.0,368.0 430.0,370.0 428.0,380.0 416.0,380.0 408.0,374.0 400.0,370.0 396.0,360.0" class="s" clip-path="url(#t15)"/>
<polygon points="446.0,330.0 472.0,330.0 470.0,346.0 464.0,358.0 458.0,358.0 448.0,350.0 446.0,342.0" fill="#d7191c"/><polygon points="446.0,330.0 472.0,330.0 470.0,346.0 464.0,358.0 458.0,358.0 448.0,350.0 446.0,342.0" class="s" clip-path="url(#t15)"/>
<polygon points="464.0,358.0 470.0,346.0 472.0,330.0 516.0,330.0 518.0,342.0 516.0,354.0 518.0,366.0 510.0,378.0 500.0,380.0 492.0,382.0 480.0,378.0 470.0,380.0 462.0,380.0 466.0,368.0" fill="#ffffbf"/><polygon points="464.0,358.0 470.0,346.0 472.0,330.0 516.0,330.0 518.0,342.0 516.0,354.0 518.0,366.0 510.0,378.0 500.0,380.0 492.0,382.0 480.0,378.0 470.0,380.0 462.0,380.0 466.0,368.0" class="s" clip-path="url(#t15)"/>
<polygon points="504.0,330.0 535.0,330.0 535.0,422.0 528.0,422.0 520.0,416.0 512.0,410.0 508.0,406.0 516.0,396.0 524.0,382.0 528.0,378.0 518.0,366.0 516.0,354.0 518.0,342.0" fill="#2b83ba"/><polygon points="504.0,330.0 535.0,330.0 535.0,422.0 528.0,422.0 520.0,416.0 512.0,410.0 508.0,406.0 516.0,396.0 524.0,382.0 528.0,378.0 518.0,366.0 516.0,354.0 518.0,342.0" class="s" clip-path="url(#t15)"/>
<polygon points="444.0,352.0 448.0,350.0 458.0,358.0 464.0,358.0 466.0,368.0 462.0,380.0 472.0,382.0 470.0,390.0 468.0,402.0 468.0,416.0 464.0,432.0 472.0,442.0 474.0,454.0 460.0,460.0 452.0,466.0 440.0,462.0 420.0,458.0 400.0,460.0 390.0,460.0 384.0,454.0 380.0,450.0 380.0,434.0 386.0,422.0 382.0,410.0 392.0,406.0 400.0,406.0 410.0,412.0 420.0,398.0 424.0,384.0 428.0,380.0 430.0,370.0 444.0,368.0 446.0,362.0" fill="#2b83ba"/><polygon points="444.0,352.0 448.0,350.0 458.0,358.0 464.0,358.0 466.0,368.0 462.0,380.0 472.0,382.0 470.0,390.0 468.0,402.0 468.0,416.0 464.0,432.0 472.0,442.0 474.0,454.0 460.0,460.0 452.0,466.0 440.0,462.0 420.0,458.0 400.0,460.0 390.0,460.0 384.0,454.0 380.0,450.0 380.0,434.0 386.0,422.0 382.0,410.0 392.0,406.0 400.0,406.0 410.0,412.0 420.0,398.0 424.0,384.0 428.0,380.0 430.0,370.0 444.0,368.0 446.0,362.0" class="s" clip-path="url(#t15)"/>
<polygon points="380.0,384.0 388.0,378.0 400.0,370.0 408.0,374.0 416.0,380.0 428.0,380.0 424.0,384.0 420.0,398.0 410.0,412.0 400.0,406.0 392.0,406.0 380.0,410.0" fill="#d7191c"/><polygon points="380.0,384.0 388.0,378.0 400.0,370.0 408.0,374.0 416.0,380.0 428.0,380.0 424.0,384.0 420.0,398.0 410.0,412.0 400.0,406.0 392.0,406.0 380.0,410.0" class="s" clip-path="url(#t15)"/>
<polygon points="376.0,412.0 384.0,414.0 386.0,422.0 382.0,430.0 386.0,442.0 384.0,454.0 376.0,454.0" fill="#d7191c"/><polygon points="376.0,412.0 384.0,414.0 386.0,422.0 382.0,430.0 386.0,442.0 384.0,454.0 376.0,454.0" class="s" clip-path="url(#t15)"/>
<polygon points="468.0,380.0 480.0,378.0 492.0,382.0 500.0,380.0 510.0,378.0 524.0,378.0 516.0,396.0 508.0,406.0 498.0,424.0 492.0,430.0 488.0,438.0 484.0,438.0 472.0,436.0 464.0,432.0 468.0,416.0 468.0,402.0 470.0,390.0" fill="#abdda4"/><polygon points="468.0,380.0 480.0,378.0 492.0,382.0 500.0,380.0 510.0,378.0 524.0,378.0 516.0,396.0 508.0,406.0 498.0,424.0 492.0,430.0 488.0,438.0 484.0,438.0 472.0,436.0 464.0,432.0 468.0,416.0 468.0,402.0 470.0,390.0" class="s" clip-path="url(#t15)"/>
<polygon points="496.0,424.0 502.0,416.0 512.0,414.0 520.0,418.0 524.0,424.0 534.0,430.0 535.0,442.0 524.0,448.0 516.0,450.0 504.0,446.0 498.0,440.0 500.0,430.0" fill="#d7191c"/><polygon points="496.0,424.0 502.0,416.0 512.0,414.0 520.0,418.0 524.0,424.0 534.0,430.0 535.0,442.0 524.0,448.0 516.0,450.0 504.0,446.0 498.0,440.0 500.0,430.0" class="s" clip-path="url(#t15)"/>
<polygon points="506.0,422.0 512.0,416.0 518.0,418.0 518.0,426.0 510.0,426.0" fill="#2b83ba"/><polygon points="506.0,422.0 512.0,416.0 518.0,418.0 518.0,426.0 510.0,426.0" class="s" clip-path="url(#t15)"/>
<polygon points="520.0,418.0 528.0,422.0 535.0,422.0 535.0,430.0 528.0,428.0" fill="#abdda4"/><polygon points="520.0,418.0 528.0,422.0 535.0,422.0 535.0,430.0 528.0,428.0" class="s" clip-path="url(#t15)"/>
<polygon points="488.0,434.0 498.0,428.0 500.0,438.0 496.0,444.0 488.0,446.0" fill="#abdda4"/><polygon points="488.0,434.0 498.0,428.0 500.0,438.0 496.0,444.0 488.0,446.0" class="s" clip-path="url(#t15)"/>
<polygon points="472.0,436.0 484.0,438.0 488.0,446.0 486.0,458.0 476.0,456.0 472.0,446.0" fill="#ffffbf"/><polygon points="472.0,436.0 484.0,438.0 488.0,446.0 486.0,458.0 476.0,456.0 472.0,446.0" class="s" clip-path="url(#t15)"/>
<polygon points="484.0,448.0 496.0,444.0 504.0,446.0 512.0,452.0 516.0,460.0 514.0,470.0 500.0,466.0 488.0,458.0" fill="#2b83ba"/><polygon points="484.0,448.0 496.0,444.0 504.0,446.0 512.0,452.0 516.0,460.0 514.0,470.0 500.0,466.0 488.0,458.0" class="s" clip-path="url(#t15)"/>
<polygon points="516.0,450.0 524.0,448.0 535.0,446.0 535.0,485.0 500.0,485.0 504.0,476.0 514.0,470.0 516.0,460.0" fill="#d7191c"/><polygon points="516.0,450.0 524.0,448.0 535.0,446.0 535.0,485.0 500.0,485.0 504.0,476.0 514.0,470.0 516.0,460.0" class="s" clip-path="url(#t15)"/>
<polygon points="452.0,468.0 460.0,460.0 474.0,456.0 490.0,458.0 480.0,474.0 472.0,474.0 460.0,468.0" fill="#d7191c"/><polygon points="452.0,468.0 460.0,460.0 474.0,456.0 490.0,458.0 480.0,474.0 472.0,474.0 460.0,468.0" class="s" clip-path="url(#t15)"/>
<polygon points="446.0,485.0 452.0,468.0 460.0,468.0 472.0,474.0 480.0,474.0 490.0,458.0 500.0,466.0 504.0,476.0 500.0,485.0" fill="#ffffbf"/><polygon points="446.0,485.0 452.0,468.0 460.0,468.0 472.0,474.0 480.0,474.0 490.0,458.0 500.0,466.0 504.0,476.0 500.0,485.0" class="s" clip-path="url(#t15)"/>
<polygon points="380.0,460.0 390.0,460.0 400.0,460.0 420.0,458.0 440.0,462.0 452.0,466.0 446.0,485.0 404.0,485.0 400.0,474.0 388.0,470.0 380.0,466.0" fill="#2b83ba"/><polygon points="380.0,460.0 390.0,460.0 400.0,460.0 420.0,458.0 440.0,462.0 452.0,466.0 446.0,485.0 404.0,485.0 400.0,474.0 388.0,470.0 380.0,466.0" class="s" clip-path="url(#t15)"/>
<polygon points="612.0,418.0 625.0,428.0 545.0,480.0 537.0,480.0 540.0,470.0 543.0,465.0 537.0,454.0 560.0,448.0 600.0,426.0" fill="#fdae61"/><polygon points="612.0,418.0 625.0,428.0 545.0,480.0 537.0,480.0 540.0,470.0 543.0,465.0 537.0,454.0 560.0,448.0 600.0,426.0" class="s"/>
<polygon points="440.0,521.5 525.0,521.5 515.0,560.0 480.0,590.0 440.0,615.0 405.0,615.0 415.0,560.0" fill="#fdae61"/><polygon points="440.0,521.5 525.0,521.5 515.0,560.0 480.0,590.0 440.0,615.0 405.0,615.0 415.0,560.0" class="s"/>
<polygon points="418.8,604.0 427.0,597.0 435.0,605.5 428.0,612.0 420.0,608.0" fill="#abdda4"/><polygon points="418.8,604.0 427.0,597.0 435.0,605.5 428.0,612.0 420.0,608.0" class="s"/>
<polygon points="440.0,254.0 519.9,254.0 519.9,350.0 440.0,350.0" fill="#ffffbf"/><polygon points="440.0,254.0 519.9,254.0 519.9,350.0 440.0,350.0" class="s" clip-path="url(#t17)"/>
<polygon points="441.5,234.5 456.5,233.0 450.5,249.5 446.0,251.0 443.0,245.0" fill="#d7191c"/><polygon points="441.5,234.5 456.5,233.0 450.5,249.5 446.0,251.0 443.0,245.0" class="s" clip-path="url(#t17)"/>
<polygon points="450.5,249.5 456.5,237.5 468.5,234.5 473.0,239.0 470.0,251.0 476.0,252.5 470.0,255.5 461.0,252.5" fill="#abdda4"/><polygon points="450.5,249.5 456.5,237.5 468.5,234.5 473.0,239.0 470.0,251.0 476.0,252.5 470.0,255.5 461.0,252.5" class="s" clip-path="url(#t17)"/>
<polygon points="440.0,254.0 449.0,251.0 456.5,252.5 455.0,258.5 464.0,260.0 476.0,254.0 482.0,248.0 491.0,246.5 498.5,251.0 509.0,254.0 507.5,263.0 503.0,269.0 497.0,270.5 495.5,281.0 488.0,276.5 483.5,270.5 482.0,263.0 474.5,263.0 467.0,266.0 459.5,264.5 453.5,261.5 444.5,260.0 440.0,260.0" fill="#2b83ba"/><polygon points="440.0,254.0 449.0,251.0 456.5,252.5 455.0,258.5 464.0,260.0 476.0,254.0 482.0,248.0 491.0,246.5 498.5,251.0 509.0,254.0 507.5,263.0 503.0,269.0 497.0,270.5 495.5,281.0 488.0,276.5 483.5,270.5 482.0,263.0 474.5,263.0 467.0,266.0 459.5,264.5 453.5,261.5 444.5,260.0 440.0,260.0" class="s" clip-path="url(#t17)"/>
<polygon points="456.5,252.5 465.5,251.0 465.5,258.5 456.5,258.5" fill="#ffffbf"/><polygon points="456.5,252.5 465.5,251.0 465.5,258.5 456.5,258.5" class="s" clip-path="url(#t17)"/>
<polygon points="473.0,234.5 482.0,230.0 489.5,239.0 483.5,249.5 476.0,252.5 470.0,245.0" fill="#2b83ba"/><polygon points="473.0,234.5 482.0,230.0 489.5,239.0 483.5,249.5 476.0,252.5 470.0,245.0" class="s" clip-path="url(#t17)"/>
<polygon points="485.0,230.0 509.0,230.0 509.0,240.5 503.0,245.0 500.0,252.5 489.5,249.5 489.5,239.0" fill="#abdda4"/><polygon points="485.0,230.0 509.0,230.0 509.0,240.5 503.0,245.0 500.0,252.5 489.5,249.5 489.5,239.0" class="s" clip-path="url(#t17)"/>
<polygon points="503.0,242.0 518.0,243.5 519.9,254.0 509.0,254.0 503.0,248.0" fill="#fdae61"/><polygon points="503.0,242.0 518.0,243.5 519.9,254.0 509.0,254.0 503.0,248.0" class="s" clip-path="url(#t17)"/>
<polygon points="506.0,230.0 519.9,230.0 519.9,243.5 512.0,239.0" fill="#2b83ba"/><polygon points="506.0,230.0 519.9,230.0 519.9,243.5 512.0,239.0" class="s" clip-path="url(#t17)"/>
<polygon points="500.0,270.5 509.0,254.0 515.0,254.0 518.0,267.5 518.0,290.0 512.0,293.0 507.5,296.0 506.0,287.0 503.0,275.0" fill="#d7191c"/><polygon points="500.0,270.5 509.0,254.0 515.0,254.0 518.0,267.5 518.0,290.0 512.0,293.0 507.5,296.0 506.0,287.0 503.0,275.0" class="s" clip-path="url(#t17)"/>
<polygon points="440.0,260.0 452.0,263.0 458.0,267.5 447.5,269.0 440.0,275.0" fill="#ffffbf"/><polygon points="440.0,260.0 452.0,263.0 458.0,267.5 447.5,269.0 440.0,275.0" class="s" clip-path="url(#t17)"/>
<polygon points="446.0,279.5 450.5,269.0 456.5,267.5 459.5,272.0 458.0,290.0 452.0,290.0 446.0,284.0" fill="#abdda4"/><polygon points="446.0,279.5 450.5,269.0 456.5,267.5 459.5,272.0 458.0,290.0 452.0,290.0 446.0,284.0" class="s" clip-path="url(#t17)"/>
<polygon points="458.0,269.0 465.5,266.0 468.5,279.5 461.0,281.0" fill="#abdda4"/><polygon points="458.0,269.0 465.5,266.0 468.5,279.5 461.0,281.0" class="s" clip-path="url(#t17)"/>
<polygon points="458.0,279.5 468.5,279.5 470.0,290.0 461.0,290.0 456.5,287.0" fill="#fdae61"/><polygon points="458.0,279.5 468.5,279.5 470.0,290.0 461.0,290.0 456.5,287.0" class="s" clip-path="url(#t17)"/>
<polygon points="440.0,288.5 447.5,287.0 455.0,291.5 455.0,299.0 447.5,300.5 440.0,299.0" fill="#fdae61"/><polygon points="440.0,288.5 447.5,287.0 455.0,291.5 455.0,299.0 447.5,300.5 440.0,299.0" class="s" clip-path="url(#t17)"/>
<polygon points="440.0,302.0 449.0,300.5 455.0,297.5 455.0,290.0 467.0,290.0 474.5,296.0 485.0,296.0 494.0,305.0 489.5,308.0 489.5,326.0 483.5,332.0 474.5,332.0 471.5,338.0 471.5,350.0 446.0,350.0 446.0,335.0 440.0,335.0" fill="#d7191c"/><polygon points="440.0,302.0 449.0,300.5 455.0,297.5 455.0,290.0 467.0,290.0 474.5,296.0 485.0,296.0 494.0,305.0 489.5,308.0 489.5,326.0 483.5,332.0 474.5,332.0 471.5,338.0 471.5,350.0 446.0,350.0 446.0,335.0 440.0,335.0" class="s" clip-path="url(#t17)"/>
<polygon points="483.5,288.5 497.0,293.0 507.5,296.0 512.0,293.0 518.0,290.0 519.9,290.0 519.9,315.5 512.0,311.0 500.0,315.5 498.5,333.5 491.0,326.0 489.5,308.0 494.0,305.0 485.0,296.0" fill="#fdae61"/><polygon points="483.5,288.5 497.0,293.0 507.5,296.0 512.0,293.0 518.0,290.0 519.9,290.0 519.9,315.5 512.0,311.0 500.0,315.5 498.5,333.5 491.0,326.0 489.5,308.0 494.0,305.0 485.0,296.0" class="s" clip-path="url(#t17)"/>
<polygon points="500.0,315.5 512.0,311.0 519.9,315.5 519.9,335.0 509.0,333.5 501.5,327.5" fill="#2b83ba"/><polygon points="500.0,315.5 512.0,311.0 519.9,315.5 519.9,335.0 509.0,333.5 501.5,327.5" class="s" clip-path="url(#t17)"/>
<polygon points="440.0,332.0 447.5,330.5 449.0,341.0 446.0,350.0 440.0,350.0" fill="#abdda4"/><polygon points="440.0,332.0 447.5,330.5 449.0,341.0 446.0,350.0 440.0,350.0" class="s" clip-path="url(#t17)"/>
<polygon points="250.0,60.0 380.0,60.0 380.0,190.0 250.0,190.0" fill="#ffffbf"/><polygon points="250.0,60.0 380.0,60.0 380.0,190.0 250.0,190.0" class="s" clip-path="url(#t18)"/>
<polygon points="250.0,154.0 263.4,143.9 271.8,137.2 283.6,138.9 288.6,147.2 285.2,160.7 283.6,167.4 288.6,177.4 300.3,190.0 250.0,190.0" fill="#fdae61"/><polygon points="250.0,154.0 263.4,143.9 271.8,137.2 283.6,138.9 288.6,147.2 285.2,160.7 283.6,167.4 288.6,177.4 300.3,190.0 250.0,190.0" class="s" clip-path="url(#t18)"/>
<polygon points="250.0,147.2 256.7,147.2 263.4,145.6 270.1,155.6 260.1,164.0 253.4,167.4 250.0,170.7" fill="#d7191c"/><polygon points="250.0,147.2 256.7,147.2 263.4,145.6 270.1,155.6 260.1,164.0 253.4,167.4 250.0,170.7" class="s" clip-path="url(#t18)"/>
<polygon points="263.4,142.2 271.8,133.8 285.2,140.5 286.9,147.2 275.2,147.2" fill="#fdae61"/><polygon points="263.4,142.2 271.8,133.8 285.2,140.5 286.9,147.2 275.2,147.2" class="s" clip-path="url(#t18)"/>
<polygon points="276.8,130.5 283.6,128.8 290.3,127.1 293.6,123.8 305.4,120.4 310.4,115.4 313.8,125.4 308.7,130.5 303.7,133.8 295.3,138.9 285.2,138.9" fill="#abdda4"/><polygon points="276.8,130.5 283.6,128.8 290.3,127.1 293.6,123.8 305.4,120.4 310.4,115.4 313.8,125.4 308.7,130.5 303.7,133.8 295.3,138.9 285.2,138.9" class="s" clip-path="url(#t18)"/>
<polygon points="293.6,133.8 303.7,132.1 308.7,138.9 305.4,143.9 297.0,142.2" fill="#abdda4"/><polygon points="293.6,133.8 303.7,132.1 308.7,138.9 305.4,143.9 297.0,142.2" class="s" clip-path="url(#t18)"/>
<polygon points="303.7,130.5 312.1,127.1 320.5,130.5 320.5,142.2 312.1,140.5 307.0,135.5" fill="#ffffbf"/><polygon points="303.7,130.5 312.1,127.1 320.5,130.5 320.5,142.2 312.1,140.5 307.0,135.5" class="s" clip-path="url(#t18)"/>
<polygon points="312.1,127.1 322.1,125.4 330.5,130.5 332.2,138.9 322.1,138.9" fill="#abdda4"/><polygon points="312.1,127.1 322.1,125.4 330.5,130.5 332.2,138.9 322.1,138.9" class="s" clip-path="url(#t18)"/>
<polygon points="307.0,110.3 313.8,101.9 322.1,105.3 328.9,100.3 332.2,107.0 325.5,112.0 320.5,115.4 313.8,118.7" fill="#2b83ba"/><polygon points="307.0,110.3 313.8,101.9 322.1,105.3 328.9,100.3 332.2,107.0 325.5,112.0 320.5,115.4 313.8,118.7" class="s" clip-path="url(#t18)"/>
<polygon points="310.4,117.0 320.5,115.4 327.2,113.7 333.9,122.1 330.5,128.8 322.1,127.1 313.8,125.4" fill="#ffffbf"/><polygon points="310.4,117.0 320.5,115.4 327.2,113.7 333.9,122.1 330.5,128.8 322.1,127.1 313.8,125.4" class="s" clip-path="url(#t18)"/>
<polygon points="328.9,98.6 337.2,95.2 344.0,100.3 344.0,105.3 337.2,108.7 332.2,107.0" fill="#abdda4"/><polygon points="328.9,98.6 337.2,95.2 344.0,100.3 344.0,105.3 337.2,108.7 332.2,107.0" class="s" clip-path="url(#t18)"/>
<polygon points="325.5,112.0 337.2,108.7 344.0,110.3 345.6,118.7 338.9,122.1 333.9,122.1" fill="#ffffbf"/><polygon points="325.5,112.0 337.2,108.7 344.0,110.3 345.6,118.7 338.9,122.1 333.9,122.1" class="s" clip-path="url(#t18)"/>
<polygon points="342.3,93.6 350.7,91.9 357.4,96.9 354.0,101.9 349.0,103.6 344.0,100.3" fill="#ffffbf"/><polygon points="342.3,93.6 350.7,91.9 357.4,96.9 354.0,101.9 349.0,103.6 344.0,100.3" class="s" clip-path="url(#t18)"/>
<polygon points="337.2,108.7 349.0,103.6 354.0,110.3 350.7,113.7 345.6,115.4 344.0,110.3" fill="#fdae61"/><polygon points="337.2,108.7 349.0,103.6 354.0,110.3 350.7,113.7 345.6,115.4 344.0,110.3" class="s" clip-path="url(#t18)"/>
<polygon points="349.0,103.6 357.4,100.3 360.7,103.6 364.1,110.3 355.7,113.7 350.7,113.7" fill="#2b83ba"/><polygon points="349.0,103.6 357.4,100.3 360.7,103.6 364.1,110.3 355.7,113.7 350.7,113.7" class="s" clip-path="url(#t18)"/>
<polygon points="359.1,90.2 365.8,78.5 372.5,81.8 380.0,88.5 380.0,110.3 374.2,110.3 367.4,107.0 364.1,103.6 360.7,96.9" fill="#2b83ba"/><polygon points="359.1,90.2 365.8,78.5 372.5,81.8 380.0,88.5 380.0,110.3 374.2,110.3 367.4,107.0 364.1,103.6 360.7,96.9" class="s" clip-path="url(#t18)"/>
<polygon points="372.5,81.8 380.0,76.8 380.0,88.5" fill="#ffffbf"/><polygon points="372.5,81.8 380.0,76.8 380.0,88.5" class="s" clip-path="url(#t18)"/>
<polygon points="345.6,115.4 355.7,113.7 364.1,107.0 367.4,113.7 370.8,120.4 365.8,123.8 355.7,125.4 349.0,123.8" fill="#d7191c"/><polygon points="345.6,115.4 355.7,113.7 364.1,107.0 367.4,113.7 370.8,120.4 365.8,123.8 355.7,125.4 349.0,123.8" class="s" clip-path="url(#t18)"/>
<polygon points="327.2,130.5 337.2,122.1 345.6,118.7 349.0,123.8 354.0,125.4 352.3,132.1 344.0,135.5 337.2,138.9 332.2,135.5" fill="#d7191c"/><polygon points="327.2,130.5 337.2,122.1 345.6,118.7 349.0,123.8 354.0,125.4 352.3,132.1 344.0,135.5 337.2,138.9 332.2,135.5" class="s" clip-path="url(#t18)"/>
<polygon points="354.0,125.4 365.8,123.8 374.2,130.5 374.2,138.9 367.4,140.5 357.4,137.2" fill="#abdda4"/><polygon points="354.0,125.4 365.8,123.8 374.2,130.5 374.2,138.9 367.4,140.5 357.4,137.2" class="s" clip-path="url(#t18)"/>
<polygon points="370.8,117.0 380.0,115.4 380.0,130.5 374.2,128.8" fill="#2b83ba"/><polygon points="370.8,117.0 380.0,115.4 380.0,130.5 374.2,128.8" class="s" clip-path="url(#t18)"/>
<polygon points="374.2,130.5 380.0,130.5 380.0,140.5 374.2,138.9" fill="#fdae61"/><polygon points="374.2,130.5 380.0,130.5 380.0,140.5 374.2,138.9" class="s" clip-path="url(#t18)"/>
<polygon points="330.5,137.2 337.2,137.2 342.3,140.5 340.6,147.2 333.9,148.9 330.5,143.9" fill="#fdae61"/><polygon points="330.5,137.2 337.2,137.2 342.3,140.5 340.6,147.2 333.9,148.9 330.5,143.9" class="s" clip-path="url(#t18)"/>
<polygon points="337.2,138.9 344.0,135.5 357.4,137.2 367.4,140.5 374.2,143.9 370.8,150.6 357.4,152.3 344.0,150.6 340.6,147.2" fill="#d7191c"/><polygon points="337.2,138.9 344.0,135.5 357.4,137.2 367.4,140.5 374.2,143.9 370.8,150.6 357.4,152.3 344.0,150.6 340.6,147.2" class="s" clip-path="url(#t18)"/>
<polygon points="370.8,140.5 380.0,138.9 380.0,167.4 374.2,164.0 370.8,157.3 370.8,150.6" fill="#fdae61"/><polygon points="370.8,140.5 380.0,138.9 380.0,167.4 374.2,164.0 370.8,157.3 370.8,150.6" class="s" clip-path="url(#t18)"/>
<polygon points="283.6,138.9 295.3,142.2 303.7,143.9 303.7,159.0 312.1,169.1 317.1,167.4 318.8,155.6 323.8,143.9 327.2,154.0 333.9,162.3 338.9,160.7 344.0,150.6 357.4,152.3 370.8,154.0 370.8,164.0 360.7,167.4 350.7,167.4 344.0,174.1 333.9,177.4 323.8,180.8 317.1,187.5 307.0,184.2 300.3,177.4 291.9,170.7 285.2,167.4 286.9,160.7 288.6,147.2" fill="#d7191c"/><polygon points="283.6,138.9 295.3,142.2 303.7,143.9 303.7,159.0 312.1,169.1 317.1,167.4 318.8,155.6 323.8,143.9 327.2,154.0 333.9,162.3 338.9,160.7 344.0,150.6 357.4,152.3 370.8,154.0 370.8,164.0 360.7,167.4 350.7,167.4 344.0,174.1 333.9,177.4 323.8,180.8 317.1,187.5 307.0,184.2 300.3,177.4 291.9,170.7 285.2,167.4 286.9,160.7 288.6,147.2" class="s" clip-path="url(#t18)"/>
<polygon points="307.0,138.9 325.5,138.9 328.9,147.2 320.5,157.3 310.4,155.6" fill="#d7191c"/><polygon points="307.0,138.9 325.5,138.9 328.9,147.2 320.5,157.3 310.4,155.6" class="s" clip-path="url(#t18)"/>
<polygon points="338.9,136.3 354.0,135.5 367.4,139.7 371.6,150.6 344.0,153.1" fill="#d7191c"/><polygon points="338.9,136.3 354.0,135.5 367.4,139.7 371.6,150.6 344.0,153.1" class="s" clip-path="url(#t18)"/>
<polygon points="320.5,137.2 330.5,136.3 337.2,136.3 343.1,140.5 340.6,147.2 333.9,148.9 328.9,146.4 323.8,144.7" fill="#fdae61"/><polygon points="320.5,137.2 330.5,136.3 337.2,136.3 343.1,140.5 340.6,147.2 333.9,148.9 328.9,146.4 323.8,144.7" class="s" clip-path="url(#t18)"/>
<polygon points="323.8,143.9 328.9,145.6 340.6,150.6 338.9,160.7 333.9,162.3 327.2,154.0" fill="#2b83ba"/><polygon points="323.8,143.9 328.9,145.6 340.6,150.6 338.9,160.7 333.9,162.3 327.2,154.0" class="s" clip-path="url(#t18)"/>
<polygon points="303.7,143.9 308.7,142.2 310.4,154.0 318.8,155.6 317.1,167.4 312.1,169.1 303.7,159.0" fill="#2b83ba"/><polygon points="303.7,143.9 308.7,142.2 310.4,154.0 318.8,155.6 317.1,167.4 312.1,169.1 303.7,159.0" class="s" clip-path="url(#t18)"/>
<polygon points="325.5,177.4 337.2,174.1 347.3,170.7 357.4,167.4 367.4,169.1 370.8,177.4 364.1,190.0 320.5,190.0 322.1,182.5" fill="#ffffbf"/><polygon points="325.5,177.4 337.2,174.1 347.3,170.7 357.4,167.4 367.4,169.1 370.8,177.4 364.1,190.0 320.5,190.0 322.1,182.5" class="s" clip-path="url(#t18)"/>
<polygon points="354.0,177.4 365.8,174.1 370.8,180.8 367.4,190.0 354.0,190.0" fill="#abdda4"/><polygon points="354.0,177.4 365.8,174.1 370.8,180.8 367.4,190.0 354.0,190.0" class="s" clip-path="url(#t18)"/>
<polygon points="370.8,164.0 380.0,162.3 380.0,177.4 374.2,177.4" fill="#d7191c"/><polygon points="370.8,164.0 380.0,162.3 380.0,177.4 374.2,177.4" class="s" clip-path="url(#t18)"/>
<polygon points="374.2,177.4 380.0,177.4 380.0,190.0 370.8,190.0" fill="#ffffbf"/><polygon points="374.2,177.4 380.0,177.4 380.0,190.0 370.8,190.0" class="s" clip-path="url(#t18)"/>
<polygon points="288.6,177.4 300.3,177.4 307.0,184.2 317.1,187.5 320.5,190.0 283.6,190.0" fill="#fdae61"/><polygon points="288.6,177.4 300.3,177.4 307.0,184.2 317.1,187.5 320.5,190.0 283.6,190.0" class="s" clip-path="url(#t18)"/>
<polygon points="282.7,163.2 294.5,167.4 301.2,178.3 287.8,178.3" fill="#d7191c"/>
<polygon points="380.0,60.0 510.0,60.0 510.0,190.0 380.0,190.0" fill="#ffffbf"/><polygon points="380.0,60.0 510.0,60.0 510.0,190.0 380.0,190.0" class="s" clip-path="url(#t19)"/>
<polygon points="380.0,73.4 386.7,71.7 391.7,68.4 396.8,73.4 398.5,78.5 393.4,83.5 385.0,81.8 380.0,80.1" fill="#d7191c"/><polygon points="380.0,73.4 386.7,71.7 391.7,68.4 396.8,73.4 398.5,78.5 393.4,83.5 385.0,81.8 380.0,80.1" class="s" clip-path="url(#t19)"/>
<polygon points="396.8,71.7 401.8,70.1 405.2,75.1 400.1,78.5" fill="#2b83ba"/><polygon points="396.8,71.7 401.8,70.1 405.2,75.1 400.1,78.5" class="s" clip-path="url(#t19)"/>
<polygon points="405.2,71.7 413.6,73.4 415.2,78.5 410.2,80.1 405.2,76.8" fill="#abdda4"/><polygon points="405.2,71.7 413.6,73.4 415.2,78.5 410.2,80.1 405.2,76.8" class="s" clip-path="url(#t19)"/>
<polygon points="415.2,71.7 423.6,75.1 430.3,78.5 427.0,83.5 420.3,81.8 416.9,78.5" fill="#fdae61"/><polygon points="415.2,71.7 423.6,75.1 430.3,78.5 427.0,83.5 420.3,81.8 416.9,78.5" class="s" clip-path="url(#t19)"/>
<polygon points="421.9,68.4 432.0,65.0 438.7,70.1 437.0,75.1 430.3,76.8" fill="#abdda4"/><polygon points="421.9,68.4 432.0,65.0 438.7,70.1 437.0,75.1 430.3,76.8" class="s" clip-path="url(#t19)"/>
<polygon points="448.8,70.1 458.9,65.0 463.9,71.7 465.6,78.5 458.9,83.5 450.5,80.1" fill="#2b83ba"/><polygon points="448.8,70.1 458.9,65.0 463.9,71.7 465.6,78.5 458.9,83.5 450.5,80.1" class="s" clip-path="url(#t19)"/>
<polygon points="437.0,73.4 445.4,71.7 448.8,78.5 447.1,85.2 440.4,83.5" fill="#abdda4"/><polygon points="437.0,73.4 445.4,71.7 448.8,78.5 447.1,85.2 440.4,83.5" class="s" clip-path="url(#t19)"/>
<polygon points="380.0,81.8 393.4,81.8 398.5,78.5 406.8,78.5 410.2,83.5 408.5,91.9 401.8,93.6 393.4,91.9 386.7,88.5" fill="#fdae61"/><polygon points="380.0,81.8 393.4,81.8 398.5,78.5 406.8,78.5 410.2,83.5 408.5,91.9 401.8,93.6 393.4,91.9 386.7,88.5" class="s" clip-path="url(#t19)"/>
<polygon points="400.1,75.1 406.8,76.8 408.5,83.5 400.1,81.8" fill="#fdae61"/><polygon points="400.1,75.1 406.8,76.8 408.5,83.5 400.1,81.8" class="s" clip-path="url(#t19)"/>
<polygon points="410.2,80.1 418.6,78.5 421.9,86.8 416.9,90.2 410.2,88.5" fill="#ffffbf"/><polygon points="410.2,80.1 418.6,78.5 421.9,86.8 416.9,90.2 410.2,88.5" class="s" clip-path="url(#t19)"/>
<polygon points="418.6,78.5 423.6,81.8 425.3,88.5 420.3,90.2" fill="#2b83ba"/><polygon points="418.6,78.5 423.6,81.8 425.3,88.5 420.3,90.2" class="s" clip-path="url(#t19)"/>
<polygon points="423.6,83.5 437.0,76.8 440.4,83.5 440.4,90.2 432.0,91.9 425.3,88.5" fill="#fdae61"/><polygon points="423.6,83.5 437.0,76.8 440.4,83.5 440.4,90.2 432.0,91.9 425.3,88.5" class="s" clip-path="url(#t19)"/>
<polygon points="445.4,81.8 457.2,81.8 465.6,83.5 463.9,90.2 455.5,90.2 447.1,88.5" fill="#abdda4"/><polygon points="445.4,81.8 457.2,81.8 465.6,83.5 463.9,90.2 455.5,90.2 447.1,88.5" class="s" clip-path="url(#t19)"/>
<polygon points="465.6,71.7 475.6,73.4 480.7,76.8 484.0,81.8 477.3,86.8 468.9,85.2 465.6,78.5" fill="#ffffbf"/><polygon points="465.6,71.7 475.6,73.4 480.7,76.8 484.0,81.8 477.3,86.8 468.9,85.2 465.6,78.5" class="s" clip-path="url(#t19)"/>
<polygon points="489.1,78.5 500.8,76.8 510.0,75.1 510.0,96.9 504.2,95.2 497.4,93.6 490.7,86.8" fill="#abdda4"/><polygon points="489.1,78.5 500.8,76.8 510.0,75.1 510.0,96.9 504.2,95.2 497.4,93.6 490.7,86.8" class="s" clip-path="url(#t19)"/>
<polygon points="484.0,81.8 490.7,83.5 494.1,91.9 487.4,93.6 482.3,88.5" fill="#fdae61"/><polygon points="484.0,81.8 490.7,83.5 494.1,91.9 487.4,93.6 482.3,88.5" class="s" clip-path="url(#t19)"/>
<polygon points="458.9,85.2 470.6,85.2 479.0,88.5 484.0,93.6 474.0,96.9 463.9,95.2 457.2,91.9" fill="#ffffbf"/><polygon points="458.9,85.2 470.6,85.2 479.0,88.5 484.0,93.6 474.0,96.9 463.9,95.2 457.2,91.9" class="s" clip-path="url(#t19)"/>
<polygon points="482.3,91.9 490.7,91.9 497.4,95.2 495.8,100.3 487.4,100.3" fill="#ffffbf"/><polygon points="482.3,91.9 490.7,91.9 497.4,95.2 495.8,100.3 487.4,100.3" class="s" clip-path="url(#t19)"/>
<polygon points="502.5,98.6 510.0,96.9 510.0,115.4 504.2,112.0 502.5,105.3" fill="#d7191c"/><polygon points="502.5,98.6 510.0,96.9 510.0,115.4 504.2,112.0 502.5,105.3" class="s" clip-path="url(#t19)"/>
<polygon points="460.5,96.9 475.6,96.9 484.0,95.2 489.1,100.3 484.0,105.3 474.0,105.3 465.6,101.9" fill="#fdae61"/><polygon points="460.5,96.9 475.6,96.9 484.0,95.2 489.1,100.3 484.0,105.3 474.0,105.3 465.6,101.9" class="s" clip-path="url(#t19)"/>
<polygon points="468.9,105.3 479.0,103.6 484.0,108.7 480.7,113.7 472.3,113.7" fill="#d7191c"/><polygon points="468.9,105.3 479.0,103.6 484.0,108.7 480.7,113.7 472.3,113.7" class="s" clip-path="url(#t19)"/>
<polygon points="484.0,105.3 497.4,103.6 502.5,107.0 500.8,113.7 494.1,113.7 487.4,110.3" fill="#abdda4"/><polygon points="484.0,105.3 497.4,103.6 502.5,107.0 500.8,113.7 494.1,113.7 487.4,110.3" class="s" clip-path="url(#t19)"/>
<polygon points="480.7,113.7 495.8,112.0 504.2,113.7 510.0,115.4 510.0,132.1 500.8,130.5 497.4,123.8 487.4,117.0" fill="#fdae61"/><polygon points="480.7,113.7 495.8,112.0 504.2,113.7 510.0,115.4 510.0,132.1 500.8,130.5 497.4,123.8 487.4,117.0" class="s" clip-path="url(#t19)"/>
<polygon points="380.0,83.5 386.7,88.5 393.4,91.9 391.7,96.9 386.7,98.6 380.0,98.6" fill="#ffffbf"/><polygon points="380.0,83.5 386.7,88.5 393.4,91.9 391.7,96.9 386.7,98.6 380.0,98.6" class="s" clip-path="url(#t19)"/>
<polygon points="393.4,93.6 401.8,93.6 408.5,93.6 406.8,101.9 400.1,101.9 395.1,98.6" fill="#2b83ba"/><polygon points="393.4,93.6 401.8,93.6 408.5,93.6 406.8,101.9 400.1,101.9 395.1,98.6" class="s" clip-path="url(#t19)"/>
<polygon points="408.5,91.9 416.9,90.2 421.9,95.2 425.3,103.6 430.3,110.3 420.3,108.7 413.6,112.0 406.8,110.3 406.8,101.9" fill="#abdda4"/><polygon points="408.5,91.9 416.9,90.2 421.9,95.2 425.3,103.6 430.3,110.3 420.3,108.7 413.6,112.0 406.8,110.3 406.8,101.9" class="s" clip-path="url(#t19)"/>
<polygon points="423.6,91.9 432.0,91.9 438.7,90.2 442.1,95.2 443.8,101.9 438.7,105.3 433.7,108.7 428.7,103.6" fill="#2b83ba"/><polygon points="423.6,91.9 432.0,91.9 438.7,90.2 442.1,95.2 443.8,101.9 438.7,105.3 433.7,108.7 428.7,103.6" class="s" clip-path="url(#t19)"/>
<polygon points="442.1,90.2 452.1,88.5 455.5,95.2 450.5,100.3 443.8,98.6" fill="#ffffbf"/><polygon points="442.1,90.2 452.1,88.5 455.5,95.2 450.5,100.3 443.8,98.6" class="s" clip-path="url(#t19)"/>
<polygon points="440.4,95.2 450.5,98.6 453.8,105.3 447.1,108.7 443.8,105.3" fill="#2b83ba"/><polygon points="440.4,95.2 450.5,98.6 453.8,105.3 447.1,108.7 443.8,105.3" class="s" clip-path="url(#t19)"/>
<polygon points="452.1,93.6 460.5,96.9 465.6,101.9 470.6,110.3 467.2,117.0 460.5,120.4 457.2,115.4 453.8,107.0 450.5,100.3" fill="#abdda4"/><polygon points="452.1,93.6 460.5,96.9 465.6,101.9 470.6,110.3 467.2,117.0 460.5,120.4 457.2,115.4 453.8,107.0 450.5,100.3" class="s" clip-path="url(#t19)"/>
<polygon points="443.8,105.3 453.8,105.3 455.5,112.0 447.1,113.7" fill="#ffffbf"/><polygon points="443.8,105.3 453.8,105.3 455.5,112.0 447.1,113.7" class="s" clip-path="url(#t19)"/>
<polygon points="427.0,108.7 433.7,108.7 440.4,103.6 443.8,110.3 438.7,117.0 433.7,118.7 428.7,115.4" fill="#abdda4"/><polygon points="427.0,108.7 433.7,108.7 440.4,103.6 443.8,110.3 438.7,117.0 433.7,118.7 428.7,115.4" class="s" clip-path="url(#t19)"/>
<polygon points="415.2,110.3 425.3,108.7 428.7,113.7 427.0,117.0 420.3,118.7 415.2,117.0" fill="#ffffbf"/><polygon points="415.2,110.3 425.3,108.7 428.7,113.7 427.0,117.0 420.3,118.7 415.2,117.0" class="s" clip-path="url(#t19)"/>
<polygon points="380.0,98.6 386.7,98.6 391.7,96.9 398.5,103.6 396.8,110.3 390.1,110.3 380.0,108.7" fill="#fdae61"/><polygon points="380.0,98.6 386.7,98.6 391.7,96.9 398.5,103.6 396.8,110.3 390.1,110.3 380.0,108.7" class="s" clip-path="url(#t19)"/>
<polygon points="386.7,100.3 395.1,100.3 400.1,103.6 398.5,108.7 390.1,108.7" fill="#ffffbf"/><polygon points="386.7,100.3 395.1,100.3 400.1,103.6 398.5,108.7 390.1,108.7" class="s" clip-path="url(#t19)"/>
<polygon points="390.1,108.7 398.5,108.7 405.2,110.3 405.2,118.7 396.8,120.4 390.1,117.0" fill="#abdda4"/><polygon points="390.1,108.7 398.5,108.7 405.2,110.3 405.2,118.7 396.8,120.4 390.1,117.0" class="s" clip-path="url(#t19)"/>
<polygon points="380.0,100.3 386.7,100.3 390.1,108.7 380.0,110.3" fill="#2b83ba"/><polygon points="380.0,100.3 386.7,100.3 390.1,108.7 380.0,110.3" class="s" clip-path="url(#t19)"/>
<polygon points="380.0,110.3 390.1,110.3 396.8,120.4 390.1,123.8 380.0,122.1" fill="#fdae61"/><polygon points="380.0,110.3 390.1,110.3 396.8,120.4 390.1,123.8 380.0,122.1" class="s" clip-path="url(#t19)"/>
<polygon points="400.1,112.0 415.2,112.0 418.6,122.1 420.3,130.5 413.6,133.8 406.8,132.1 400.1,122.1" fill="#ffffbf"/><polygon points="400.1,112.0 415.2,112.0 418.6,122.1 420.3,130.5 413.6,133.8 406.8,132.1 400.1,122.1" class="s" clip-path="url(#t19)"/>
<polygon points="383.4,123.8 390.1,122.1 395.1,123.8 390.1,130.5 385.0,127.1" fill="#d7191c"/><polygon points="383.4,123.8 390.1,122.1 395.1,123.8 390.1,130.5 385.0,127.1" class="s" clip-path="url(#t19)"/>
<polygon points="380.0,125.4 385.0,127.1 390.1,130.5 400.1,137.2 393.4,145.6 386.7,147.2 380.0,143.9" fill="#2b83ba"/><polygon points="380.0,125.4 385.0,127.1 390.1,130.5 400.1,137.2 393.4,145.6 386.7,147.2 380.0,143.9" class="s" clip-path="url(#t19)"/>
<polygon points="390.1,123.8 400.1,122.1 408.5,132.1 416.9,137.2 413.6,143.9 405.2,143.9 398.5,137.2" fill="#fdae61"/><polygon points="390.1,123.8 400.1,122.1 408.5,132.1 416.9,137.2 413.6,143.9 405.2,143.9 398.5,137.2" class="s" clip-path="url(#t19)"/>
<polygon points="416.9,117.0 427.0,115.4 433.7,118.7 438.7,115.4 447.1,118.7 452.1,123.8 452.1,128.8 447.1,133.8 443.8,142.2 440.4,147.2 430.3,147.2 425.3,152.3 420.3,143.9 413.6,143.9 415.2,137.2 420.3,130.5" fill="#fdae61"/><polygon points="416.9,117.0 427.0,115.4 433.7,118.7 438.7,115.4 447.1,118.7 452.1,123.8 452.1,128.8 447.1,133.8 443.8,142.2 440.4,147.2 430.3,147.2 425.3,152.3 420.3,143.9 413.6,143.9 415.2,137.2 420.3,130.5" class="s" clip-path="url(#t19)"/>
<polygon points="443.8,112.0 453.8,110.3 457.2,115.4 457.2,123.8 452.1,125.4 447.1,120.4" fill="#2b83ba"/><polygon points="443.8,112.0 453.8,110.3 457.2,115.4 457.2,123.8 452.1,125.4 447.1,120.4" class="s" clip-path="url(#t19)"/>
<polygon points="453.8,115.4 458.9,113.7 462.2,120.4 458.9,122.1" fill="#d7191c"/><polygon points="453.8,115.4 458.9,113.7 462.2,120.4 458.9,122.1" class="s" clip-path="url(#t19)"/>
<polygon points="448.8,130.5 457.2,123.8 460.5,130.5 455.5,137.2 447.1,137.2" fill="#d7191c"/><polygon points="448.8,130.5 457.2,123.8 460.5,130.5 455.5,137.2 447.1,137.2" class="s" clip-path="url(#t19)"/>
<polygon points="447.1,135.5 455.5,133.8 460.5,138.9 463.9,147.2 463.9,157.3 457.2,160.7 450.5,157.3 440.4,150.6 443.8,142.2" fill="#ffffbf"/><polygon points="447.1,135.5 455.5,133.8 460.5,138.9 463.9,147.2 463.9,157.3 457.2,160.7 450.5,157.3 440.4,150.6 443.8,142.2" class="s" clip-path="url(#t19)"/>
<polygon points="458.9,133.8 465.6,132.1 468.9,138.9 467.2,143.9 462.2,142.2" fill="#fdae61"/><polygon points="458.9,133.8 465.6,132.1 468.9,138.9 467.2,143.9 462.2,142.2" class="s" clip-path="url(#t19)"/>
<polygon points="458.9,118.7 468.9,115.4 475.6,117.0 480.7,120.4 487.4,123.8 494.1,130.5 487.4,135.5 480.7,137.2 472.3,133.8 465.6,132.1 460.5,128.8" fill="#ffffbf"/><polygon points="458.9,118.7 468.9,115.4 475.6,117.0 480.7,120.4 487.4,123.8 494.1,130.5 487.4,135.5 480.7,137.2 472.3,133.8 465.6,132.1 460.5,128.8" class="s" clip-path="url(#t19)"/>
<polygon points="495.8,123.8 500.8,130.5 510.0,132.1 510.0,137.2 500.8,137.2 494.1,130.5" fill="#fdae61"/><polygon points="495.8,123.8 500.8,130.5 510.0,132.1 510.0,137.2 500.8,137.2 494.1,130.5" class="s" clip-path="url(#t19)"/>
<polygon points="477.3,135.5 489.1,133.8 497.4,137.2 504.2,140.5 502.5,150.6 492.4,150.6 484.0,147.2 480.7,142.2" fill="#abdda4"/><polygon points="477.3,135.5 489.1,133.8 497.4,137.2 504.2,140.5 502.5,150.6 492.4,150.6 484.0,147.2 480.7,142.2" class="s" clip-path="url(#t19)"/>
<polygon points="497.4,137.2 510.0,135.5 510.0,147.2 504.2,147.2" fill="#ffffbf"/><polygon points="497.4,137.2 510.0,135.5 510.0,147.2 504.2,147.2" class="s" clip-path="url(#t19)"/>
<polygon points="462.2,143.9 468.9,142.2 475.6,145.6 479.0,154.0 474.0,157.3 467.2,155.6" fill="#abdda4"/><polygon points="462.2,143.9 468.9,142.2 475.6,145.6 479.0,154.0 474.0,157.3 467.2,155.6" class="s" clip-path="url(#t19)"/>
<polygon points="474.0,143.9 484.0,142.2 490.7,148.9 494.1,155.6 487.4,159.0 480.7,159.0 475.6,154.0" fill="#2b83ba"/><polygon points="474.0,143.9 484.0,142.2 490.7,148.9 494.1,155.6 487.4,159.0 480.7,159.0 475.6,154.0" class="s" clip-path="url(#t19)"/>
<polygon points="494.1,150.6 504.2,148.9 510.0,148.9 510.0,177.4 504.2,174.1 497.4,169.1 494.1,160.7" fill="#d7191c"/><polygon points="494.1,150.6 504.2,148.9 510.0,148.9 510.0,177.4 504.2,174.1 497.4,169.1 494.1,160.7" class="s" clip-path="url(#t19)"/>
<polygon points="457.2,159.0 467.2,155.6 475.6,157.3 487.4,159.0 494.1,159.0 490.7,167.4 480.7,169.1 467.2,169.1 460.5,167.4" fill="#2b83ba"/><polygon points="457.2,159.0 467.2,155.6 475.6,157.3 487.4,159.0 494.1,159.0 490.7,167.4 480.7,169.1 467.2,169.1 460.5,167.4" class="s" clip-path="url(#t19)"/>
<polygon points="482.3,164.0 490.7,160.7 495.8,167.4 492.4,174.1 485.7,175.8" fill="#abdda4"/><polygon points="482.3,164.0 490.7,160.7 495.8,167.4 492.4,174.1 485.7,175.8" class="s" clip-path="url(#t19)"/>
<polygon points="494.1,165.7 500.8,167.4 507.5,174.1 502.5,180.8 497.4,180.8 494.1,174.1" fill="#2b83ba"/><polygon points="494.1,165.7 500.8,167.4 507.5,174.1 502.5,180.8 497.4,180.8 494.1,174.1" class="s" clip-path="url(#t19)"/>
<polygon points="467.2,169.1 482.3,169.1 487.4,177.4 480.7,184.2 470.6,180.8" fill="#ffffbf"/><polygon points="467.2,169.1 482.3,169.1 487.4,177.4 480.7,184.2 470.6,180.8" class="s" clip-path="url(#t19)"/>
<polygon points="458.9,169.1 467.2,169.1 470.6,180.8 474.0,190.0 460.5,190.0 457.2,177.4" fill="#d7191c"/><polygon points="458.9,169.1 467.2,169.1 470.6,180.8 474.0,190.0 460.5,190.0 457.2,177.4" class="s" clip-path="url(#t19)"/>
<polygon points="487.4,177.4 494.1,174.1 502.5,180.8 500.8,190.0 484.0,190.0 480.7,184.2" fill="#ffffbf"/><polygon points="487.4,177.4 494.1,174.1 502.5,180.8 500.8,190.0 484.0,190.0 480.7,184.2" class="s" clip-path="url(#t19)"/>
<polygon points="410.2,145.6 420.3,143.9 425.3,152.3 430.3,150.6 437.0,154.0 435.4,159.0 425.3,160.7 413.6,160.7 410.2,154.0" fill="#ffffbf"/><polygon points="410.2,145.6 420.3,143.9 425.3,152.3 430.3,150.6 437.0,154.0 435.4,159.0 425.3,160.7 413.6,160.7 410.2,154.0" class="s" clip-path="url(#t19)"/>
<polygon points="380.0,143.9 386.7,147.2 390.1,145.6 396.8,147.2 401.8,145.6 410.2,147.2 411.9,160.7 406.8,165.7 398.5,164.0 395.1,167.4 390.1,164.0 383.4,164.0 380.0,162.3" fill="#fdae61"/><polygon points="380.0,143.9 386.7,147.2 390.1,145.6 396.8,147.2 401.8,145.6 410.2,147.2 411.9,160.7 406.8,165.7 398.5,164.0 395.1,167.4 390.1,164.0 383.4,164.0 380.0,162.3" class="s" clip-path="url(#t19)"/>
<polygon points="380.0,164.0 390.1,164.0 395.1,167.4 393.4,177.4 386.7,180.8 380.0,180.8" fill="#d7191c"/><polygon points="380.0,164.0 390.1,164.0 395.1,167.4 393.4,177.4 386.7,180.8 380.0,180.8" class="s" clip-path="url(#t19)"/>
<polygon points="386.7,147.2 393.4,145.6 396.8,154.0 393.4,164.0 386.7,164.0" fill="#d7191c"/><polygon points="386.7,147.2 393.4,145.6 396.8,154.0 393.4,164.0 386.7,164.0" class="s" clip-path="url(#t19)"/>
<polygon points="395.1,164.0 406.8,165.7 406.8,174.1 400.1,175.8 395.1,170.7" fill="#2b83ba"/><polygon points="395.1,164.0 406.8,165.7 406.8,174.1 400.1,175.8 395.1,170.7" class="s" clip-path="url(#t19)"/>
<polygon points="406.8,160.7 425.3,160.7 435.4,159.0 440.4,150.6 450.5,157.3 457.2,160.7 460.5,167.4 457.2,177.4 453.8,187.5 440.4,190.0 427.0,187.5 418.6,177.4 406.8,172.4" fill="#fdae61"/><polygon points="406.8,160.7 425.3,160.7 435.4,159.0 440.4,150.6 450.5,157.3 457.2,160.7 460.5,167.4 457.2,177.4 453.8,187.5 440.4,190.0 427.0,187.5 418.6,177.4 406.8,172.4" class="s" clip-path="url(#t19)"/>
<polygon points="400.1,175.8 406.8,172.4 418.6,177.4 427.0,187.5 413.6,190.0 400.1,190.0 396.8,180.8" fill="#d7191c"/><polygon points="400.1,175.8 406.8,172.4 418.6,177.4 427.0,187.5 413.6,190.0 400.1,190.0 396.8,180.8" class="s" clip-path="url(#t19)"/>
<polygon points="380.0,180.8 386.7,180.8 393.4,177.4 396.8,180.8 400.1,190.0 380.0,190.0" fill="#ffffbf"/><polygon points="380.0,180.8 386.7,180.8 393.4,177.4 396.8,180.8 400.1,190.0 380.0,190.0" class="s" clip-path="url(#t19)"/>
<polygon points="418.6,184.2 428.7,184.2 440.4,190.0 418.6,190.0" fill="#d7191c"/><polygon points="418.6,184.2 428.7,184.2 440.4,190.0 418.6,190.0" class="s" clip-path="url(#t19)"/>
<polygon points="510.0,60.0 640.0,60.0 640.0,190.0 510.0,190.0" fill="#ffffbf"/><polygon points="510.0,60.0 640.0,60.0 640.0,190.0 510.0,190.0" class="s" clip-path="url(#t20)"/>
<polygon points="510.0,81.8 515.0,80.1 525.1,80.1 526.8,90.2 525.1,98.6 516.7,98.6 510.0,96.9" fill="#fdae61"/><polygon points="510.0,81.8 515.0,80.1 525.1,80.1 526.8,90.2 525.1,98.6 516.7,98.6 510.0,96.9" class="s" clip-path="url(#t20)"/>
<polygon points="526.8,85.2 531.8,80.1 536.8,85.2 533.5,90.2 528.5,91.9" fill="#d7191c"/><polygon points="526.8,85.2 531.8,80.1 536.8,85.2 533.5,90.2 528.5,91.9" class="s" clip-path="url(#t20)"/>
<polygon points="530.1,90.2 538.5,86.8 543.6,90.2 541.9,95.2 533.5,95.2" fill="#abdda4"/><polygon points="530.1,90.2 538.5,86.8 543.6,90.2 541.9,95.2 533.5,95.2" class="s" clip-path="url(#t20)"/>
<polygon points="526.8,90.2 533.5,95.2 538.5,96.9 535.2,101.9 528.5,101.9" fill="#fdae61"/><polygon points="526.8,90.2 533.5,95.2 538.5,96.9 535.2,101.9 528.5,101.9" class="s" clip-path="url(#t20)"/>
<polygon points="540.2,86.8 548.6,90.2 553.6,98.6 560.3,103.6 557.0,108.7 550.3,107.0 545.2,100.3" fill="#2b83ba"/><polygon points="540.2,86.8 548.6,90.2 553.6,98.6 560.3,103.6 557.0,108.7 550.3,107.0 545.2,100.3" class="s" clip-path="url(#t20)"/>
<polygon points="509.2,97.8 526.8,97.8 530.1,101.9 540.2,98.6 545.2,101.9 550.3,108.7 553.6,112.0 551.9,117.0 545.2,118.7 541.9,115.4 535.2,115.4 530.1,120.4 525.1,123.8 520.1,118.7 509.2,120.4" fill="#d7191c"/><polygon points="509.2,97.8 526.8,97.8 530.1,101.9 540.2,98.6 545.2,101.9 550.3,108.7 553.6,112.0 551.9,117.0 545.2,118.7 541.9,115.4 535.2,115.4 530.1,120.4 525.1,123.8 520.1,118.7 509.2,120.4" class="s" clip-path="url(#t20)"/>
<polygon points="533.5,113.7 543.6,110.3 548.6,112.0 543.6,120.4 536.8,120.4" fill="#2b83ba"/><polygon points="533.5,113.7 543.6,110.3 548.6,112.0 543.6,120.4 536.8,120.4" class="s" clip-path="url(#t20)"/>
<polygon points="553.6,100.3 563.7,101.9 565.4,112.0 558.7,112.0 555.3,108.7" fill="#2b83ba"/><polygon points="553.6,100.3 563.7,101.9 565.4,112.0 558.7,112.0 555.3,108.7" class="s" clip-path="url(#t20)"/>
<polygon points="565.4,98.6 573.8,98.6 578.8,101.9 580.5,108.7 573.8,113.7 567.0,110.3" fill="#ffffbf"/><polygon points="565.4,98.6 573.8,98.6 578.8,101.9 580.5,108.7 573.8,113.7 567.0,110.3" class="s" clip-path="url(#t20)"/>
<polygon points="580.5,105.3 587.2,103.6 595.6,108.7 600.6,115.4 597.2,123.8 592.2,132.1 585.5,128.8 582.1,118.7" fill="#abdda4"/><polygon points="580.5,105.3 587.2,103.6 595.6,108.7 600.6,115.4 597.2,123.8 592.2,132.1 585.5,128.8 582.1,118.7" class="s" clip-path="url(#t20)"/>
<polygon points="572.1,112.0 580.5,110.3 583.8,118.7 588.9,127.1 587.2,133.8 580.5,135.5 577.1,130.5 575.4,122.1" fill="#fdae61"/><polygon points="572.1,112.0 580.5,110.3 583.8,118.7 588.9,127.1 587.2,133.8 580.5,135.5 577.1,130.5 575.4,122.1" class="s" clip-path="url(#t20)"/>
<polygon points="553.6,113.7 563.7,112.0 568.7,115.4 570.4,122.1 565.4,123.8 558.7,120.4" fill="#d7191c"/><polygon points="553.6,113.7 563.7,112.0 568.7,115.4 570.4,122.1 565.4,123.8 558.7,120.4" class="s" clip-path="url(#t20)"/>
<polygon points="563.7,117.0 572.1,117.0 577.1,123.8 578.8,132.1 573.8,137.2 567.0,133.8 565.4,127.1" fill="#2b83ba"/><polygon points="563.7,117.0 572.1,117.0 577.1,123.8 578.8,132.1 573.8,137.2 567.0,133.8 565.4,127.1" class="s" clip-path="url(#t20)"/>
<polygon points="551.9,118.7 560.3,118.7 565.4,123.8 563.7,127.1 555.3,127.1" fill="#ffffbf"/><polygon points="551.9,118.7 560.3,118.7 565.4,123.8 563.7,127.1 555.3,127.1" class="s" clip-path="url(#t20)"/>
<polygon points="535.2,120.4 543.6,118.7 551.9,123.8 550.3,128.8 551.9,137.2 543.6,138.9 536.8,135.5 533.5,128.8" fill="#abdda4"/><polygon points="535.2,120.4 543.6,118.7 551.9,123.8 550.3,128.8 551.9,137.2 543.6,138.9 536.8,135.5 533.5,128.8" class="s" clip-path="url(#t20)"/>
<polygon points="509.2,120.4 520.1,118.7 525.1,123.8 521.7,130.5 513.4,130.5 509.2,127.1" fill="#fdae61"/><polygon points="509.2,120.4 520.1,118.7 525.1,123.8 521.7,130.5 513.4,130.5 509.2,127.1" class="s" clip-path="url(#t20)"/>
<polygon points="520.1,127.1 526.8,122.1 535.2,120.4 536.8,135.5 526.8,137.2 520.1,133.8" fill="#d7191c"/><polygon points="520.1,127.1 526.8,122.1 535.2,120.4 536.8,135.5 526.8,137.2 520.1,133.8" class="s" clip-path="url(#t20)"/>
<polygon points="509.2,128.8 520.1,128.8 523.4,133.8 518.4,137.2 509.2,137.2" fill="#d7191c"/><polygon points="509.2,128.8 520.1,128.8 523.4,133.8 518.4,137.2 509.2,137.2" class="s" clip-path="url(#t20)"/>
<polygon points="509.2,137.2 520.1,137.2 528.5,135.5 536.8,135.5 538.5,140.5 530.1,143.9 520.1,142.2 509.2,143.9" fill="#ffffbf"/><polygon points="509.2,137.2 520.1,137.2 528.5,135.5 536.8,135.5 538.5,140.5 530.1,143.9 520.1,142.2 509.2,143.9" class="s" clip-path="url(#t20)"/>
<polygon points="551.9,123.8 563.7,127.1 568.7,133.8 573.8,142.2 572.1,147.2 567.0,148.9 560.3,143.9 555.3,138.9" fill="#fdae61"/><polygon points="551.9,123.8 563.7,127.1 568.7,133.8 573.8,142.2 572.1,147.2 567.0,148.9 560.3,143.9 555.3,138.9" class="s" clip-path="url(#t20)"/>
<polygon points="570.4,143.9 575.4,145.6 577.1,148.9 572.1,150.6" fill="#d7191c"/><polygon points="570.4,143.9 575.4,145.6 577.1,148.9 572.1,150.6" class="s" clip-path="url(#t20)"/>
<polygon points="509.2,143.9 520.1,142.2 530.1,145.6 530.1,154.0 523.4,159.0 509.2,154.0" fill="#fdae61"/><polygon points="509.2,143.9 520.1,142.2 530.1,145.6 530.1,154.0 523.4,159.0 509.2,154.0" class="s" clip-path="url(#t20)"/>
<polygon points="509.2,154.0 523.4,159.0 526.8,165.7 523.4,174.1 516.7,177.4 509.2,177.4" fill="#d7191c"/><polygon points="509.2,154.0 523.4,159.0 526.8,165.7 523.4,174.1 516.7,177.4 509.2,177.4" class="s" clip-path="url(#t20)"/>
<polygon points="530.1,142.2 540.2,138.9 551.9,138.9 560.3,143.9 567.0,148.9 570.4,155.6 573.8,160.7 570.4,167.4 563.7,167.4 560.3,160.7 553.6,159.0 546.9,160.7 543.6,164.0 536.8,160.7 531.8,154.0" fill="#d7191c"/><polygon points="530.1,142.2 540.2,138.9 551.9,138.9 560.3,143.9 567.0,148.9 570.4,155.6 573.8,160.7 570.4,167.4 563.7,167.4 560.3,160.7 553.6,159.0 546.9,160.7 543.6,164.0 536.8,160.7 531.8,154.0" class="s" clip-path="url(#t20)"/>
<polygon points="543.6,150.6 553.6,148.9 560.3,154.0 558.7,160.7 550.3,160.7 543.6,157.3" fill="#fdae61"/><polygon points="543.6,150.6 553.6,148.9 560.3,154.0 558.7,160.7 550.3,160.7 543.6,157.3" class="s" clip-path="url(#t20)"/>
<polygon points="523.4,159.0 530.1,155.6 536.8,160.7 536.8,169.1 528.5,170.7 526.8,165.7" fill="#fdae61"/><polygon points="523.4,159.0 530.1,155.6 536.8,160.7 536.8,169.1 528.5,170.7 526.8,165.7" class="s" clip-path="url(#t20)"/>
<polygon points="536.8,164.0 546.9,160.7 553.6,160.7 560.3,164.0 558.7,174.1 550.3,177.4 543.6,177.4 538.5,172.4" fill="#fdae61"/><polygon points="536.8,164.0 546.9,160.7 553.6,160.7 560.3,164.0 558.7,174.1 550.3,177.4 543.6,177.4 538.5,172.4" class="s" clip-path="url(#t20)"/>
<polygon points="553.6,170.7 565.4,169.1 570.4,170.7 567.0,177.4 557.0,177.4" fill="#2b83ba"/><polygon points="553.6,170.7 565.4,169.1 570.4,170.7 567.0,177.4 557.0,177.4" class="s" clip-path="url(#t20)"/>
<polygon points="565.4,164.0 573.8,160.7 580.5,169.1 585.5,174.1 577.1,179.1 568.7,177.4 570.4,170.7" fill="#fdae61"/><polygon points="565.4,164.0 573.8,160.7 580.5,169.1 585.5,174.1 577.1,179.1 568.7,177.4 570.4,170.7" class="s" clip-path="url(#t20)"/>
<polygon points="509.2,177.4 516.7,177.4 523.4,174.1 530.1,170.7 538.5,172.4 543.6,177.4 553.6,177.4 567.0,177.4 577.1,179.1 578.8,190.9 509.2,190.9" fill="#d7191c"/><polygon points="509.2,177.4 516.7,177.4 523.4,174.1 530.1,170.7 538.5,172.4 543.6,177.4 553.6,177.4 567.0,177.4 577.1,179.1 578.8,190.9 509.2,190.9" class="s" clip-path="url(#t20)"/>
<polygon points="573.8,133.8 582.1,135.5 588.9,133.8 595.6,130.5 600.6,140.5 593.9,145.6 587.2,148.9 585.5,159.0 590.5,167.4 588.9,174.1 582.1,174.1 577.1,167.4 573.8,160.7 572.1,147.2" fill="#ffffbf"/><polygon points="573.8,133.8 582.1,135.5 588.9,133.8 595.6,130.5 600.6,140.5 593.9,145.6 587.2,148.9 585.5,159.0 590.5,167.4 588.9,174.1 582.1,174.1 577.1,167.4 573.8,160.7 572.1,147.2" class="s" clip-path="url(#t20)"/>
<polygon points="585.5,145.6 595.6,140.5 604.0,145.6 607.3,154.0 597.2,164.0 592.2,167.4 587.2,159.0" fill="#abdda4"/><polygon points="585.5,145.6 595.6,140.5 604.0,145.6 607.3,154.0 597.2,164.0 592.2,167.4 587.2,159.0" class="s" clip-path="url(#t20)"/>
<polygon points="597.2,127.1 604.0,128.8 609.0,133.8 617.4,132.1 624.1,135.5 627.4,143.9 625.8,157.3 619.1,157.3 610.7,150.6 604.0,145.6 600.6,138.9" fill="#fdae61"/><polygon points="597.2,127.1 604.0,128.8 609.0,133.8 617.4,132.1 624.1,135.5 627.4,143.9 625.8,157.3 619.1,157.3 610.7,150.6 604.0,145.6 600.6,138.9" class="s" clip-path="url(#t20)"/>
<polygon points="600.6,117.0 610.7,118.7 617.4,125.4 620.7,130.5 619.1,133.8 609.0,133.8 604.0,128.8" fill="#ffffbf"/><polygon points="600.6,117.0 610.7,118.7 617.4,125.4 620.7,130.5 619.1,133.8 609.0,133.8 604.0,128.8" class="s" clip-path="url(#t20)"/>
<polygon points="595.6,159.0 604.0,154.0 614.0,154.0 622.4,157.3 624.1,167.4 620.7,177.4 614.0,184.2 604.0,190.9 593.9,190.9 595.6,177.4 597.2,167.4" fill="#2b83ba"/><polygon points="595.6,159.0 604.0,154.0 614.0,154.0 622.4,157.3 624.1,167.4 620.7,177.4 614.0,184.2 604.0,190.9 593.9,190.9 595.6,177.4 597.2,167.4" class="s" clip-path="url(#t20)"/>
<polygon points="590.5,167.4 597.2,167.4 595.6,177.4 593.9,190.9 578.8,190.9 577.1,179.1 585.5,174.1" fill="#ffffbf"/><polygon points="590.5,167.4 597.2,167.4 595.6,177.4 593.9,190.9 578.8,190.9 577.1,179.1 585.5,174.1" class="s" clip-path="url(#t20)"/>
<polygon points="624.1,135.5 637.5,140.5 640.9,143.9 640.9,190.9 614.0,190.9 620.7,177.4 624.1,167.4 625.8,157.3 627.4,143.9" fill="#ffffbf"/><polygon points="624.1,135.5 637.5,140.5 640.9,143.9 640.9,190.9 614.0,190.9 620.7,177.4 624.1,167.4 625.8,157.3 627.4,143.9" class="s" clip-path="url(#t20)"/>
<polygon points="560.0,230.0 690.0,230.0 690.0,360.0 560.0,360.0" fill="#abdda4"/><polygon points="560.0,230.0 690.0,230.0 690.0,360.0 560.0,360.0" class="s" clip-path="url(#t21)"/>
<polygon points="571.7,238.4 576.8,230.0 640.5,230.0 640.5,240.1 637.2,243.4 647.2,245.1 655.6,253.5 650.6,258.5 643.9,260.2 637.2,261.9 630.5,258.5 623.8,260.2 617.0,261.9 610.3,255.2 605.3,248.5 598.6,248.5 593.6,245.1 581.8,245.1 571.7,245.1" fill="#d7191c"/><polygon points="571.7,238.4 576.8,230.0 640.5,230.0 640.5,240.1 637.2,243.4 647.2,245.1 655.6,253.5 650.6,258.5 643.9,260.2 637.2,261.9 630.5,258.5 623.8,260.2 617.0,261.9 610.3,255.2 605.3,248.5 598.6,248.5 593.6,245.1 581.8,245.1 571.7,245.1" class="s" clip-path="url(#t21)"/>
<polygon points="637.2,230.0 690.0,230.0 690.0,256.8 680.8,260.2 677.4,265.2 669.1,265.2 660.7,266.9 654.0,260.2 655.6,253.5 647.2,245.1 640.5,240.1" fill="#2b83ba"/><polygon points="637.2,230.0 690.0,230.0 690.0,256.8 680.8,260.2 677.4,265.2 669.1,265.2 660.7,266.9 654.0,260.2 655.6,253.5 647.2,245.1 640.5,240.1" class="s" clip-path="url(#t21)"/>
<polygon points="675.8,230.0 690.0,230.0 690.0,245.1 682.5,243.4 677.4,235.0" fill="#abdda4"/><polygon points="675.8,230.0 690.0,230.0 690.0,245.1 682.5,243.4 677.4,235.0" class="s" clip-path="url(#t21)"/>
<polygon points="563.4,230.0 573.4,230.0 571.7,236.7 566.7,238.4 563.4,235.0" fill="#fdae61"/><polygon points="563.4,230.0 573.4,230.0 571.7,236.7 566.7,238.4 563.4,235.0" class="s" clip-path="url(#t21)"/>
<polygon points="560.0,230.0 565.0,230.0 566.7,238.4 560.0,240.1" fill="#ffffbf"/><polygon points="560.0,230.0 565.0,230.0 566.7,238.4 560.0,240.1" class="s" clip-path="url(#t21)"/>
<polygon points="560.0,240.1 571.7,238.4 575.1,246.8 570.1,251.8 560.0,251.8" fill="#abdda4"/><polygon points="560.0,240.1 571.7,238.4 575.1,246.8 570.1,251.8 560.0,251.8" class="s" clip-path="url(#t21)"/>
<polygon points="560.0,246.8 566.7,246.8 566.7,251.8 560.0,253.5" fill="#fdae61"/><polygon points="560.0,246.8 566.7,246.8 566.7,251.8 560.0,253.5" class="s" clip-path="url(#t21)"/>
<polygon points="573.4,246.8 598.6,245.1 600.3,251.8 583.5,253.5 575.1,253.5" fill="#2b83ba"/><polygon points="573.4,246.8 598.6,245.1 600.3,251.8 583.5,253.5 575.1,253.5" class="s" clip-path="url(#t21)"/>
<polygon points="575.1,253.5 598.6,251.8 608.7,250.1 610.3,256.8 601.9,260.2 593.6,256.8 581.8,256.8" fill="#abdda4"/><polygon points="575.1,253.5 598.6,251.8 608.7,250.1 610.3,256.8 601.9,260.2 593.6,256.8 581.8,256.8" class="s" clip-path="url(#t21)"/>
<polygon points="563.4,251.8 571.7,253.5 570.1,258.5 563.4,256.8" fill="#2b83ba"/><polygon points="563.4,251.8 571.7,253.5 570.1,258.5 563.4,256.8" class="s" clip-path="url(#t21)"/>
<polygon points="560.0,256.8 570.1,258.5 576.8,256.8 581.8,258.5 578.5,263.6 570.1,265.2 560.0,265.2" fill="#ffffbf"/><polygon points="560.0,256.8 570.1,258.5 576.8,256.8 581.8,258.5 578.5,263.6 570.1,265.2 560.0,265.2" class="s" clip-path="url(#t21)"/>
<polygon points="575.1,256.8 586.8,258.5 590.2,263.6 580.1,263.6" fill="#2b83ba"/><polygon points="575.1,256.8 586.8,258.5 590.2,263.6 580.1,263.6" class="s" clip-path="url(#t21)"/>
<polygon points="581.8,258.5 593.6,256.8 601.9,260.2 601.9,266.9 603.6,273.6 593.6,273.6 586.8,270.3 578.5,266.9" fill="#ffffbf"/><polygon points="581.8,258.5 593.6,256.8 601.9,260.2 601.9,266.9 603.6,273.6 593.6,273.6 586.8,270.3 578.5,266.9" class="s" clip-path="url(#t21)"/>
<polygon points="600.3,256.8 610.3,255.2 613.7,260.2 607.0,263.6 600.3,263.6" fill="#fdae61"/><polygon points="600.3,256.8 610.3,255.2 613.7,260.2 607.0,263.6 600.3,263.6" class="s" clip-path="url(#t21)"/>
<polygon points="610.3,256.8 617.0,261.9 623.8,260.2 630.5,258.5 637.2,261.9 627.1,263.6 617.0,265.2 610.3,263.6" fill="#d7191c"/><polygon points="610.3,256.8 617.0,261.9 623.8,260.2 630.5,258.5 637.2,261.9 627.1,263.6 617.0,265.2 610.3,263.6" class="s" clip-path="url(#t21)"/>
<polygon points="625.4,255.2 633.8,256.8 633.8,265.2 627.1,265.2" fill="#2b83ba"/><polygon points="625.4,255.2 633.8,256.8 633.8,265.2 627.1,265.2" class="s" clip-path="url(#t21)"/>
<polygon points="633.8,260.2 643.9,260.2 650.6,258.5 654.0,263.6 647.2,266.9 637.2,266.9" fill="#abdda4"/><polygon points="633.8,260.2 643.9,260.2 650.6,258.5 654.0,263.6 647.2,266.9 637.2,266.9" class="s" clip-path="url(#t21)"/>
<polygon points="560.0,265.2 570.1,265.2 576.8,261.9 580.1,266.9 573.4,275.3 566.7,273.6 560.0,271.9" fill="#2b83ba"/><polygon points="560.0,265.2 570.1,265.2 576.8,261.9 580.1,266.9 573.4,275.3 566.7,273.6 560.0,271.9" class="s" clip-path="url(#t21)"/>
<polygon points="580.1,263.6 586.8,270.3 593.6,273.6 590.2,278.7 583.5,273.6 578.5,270.3" fill="#ffffbf"/><polygon points="580.1,263.6 586.8,270.3 593.6,273.6 590.2,278.7 583.5,273.6 578.5,270.3" class="s" clip-path="url(#t21)"/>
<polygon points="593.6,268.6 601.9,266.9 603.6,273.6 596.9,275.3" fill="#2b83ba"/><polygon points="593.6,268.6 601.9,266.9 603.6,273.6 596.9,275.3" class="s" clip-path="url(#t21)"/>
<polygon points="603.6,263.6 610.3,263.6 617.0,265.2 613.7,270.3 608.7,271.9 603.6,270.3" fill="#2b83ba"/><polygon points="603.6,263.6 610.3,263.6 617.0,265.2 613.7,270.3 608.7,271.9 603.6,270.3" class="s" clip-path="url(#t21)"/>
<polygon points="610.3,266.9 617.0,265.2 617.0,271.9 612.0,271.9" fill="#d7191c"/><polygon points="610.3,266.9 617.0,265.2 617.0,271.9 612.0,271.9" class="s" clip-path="url(#t21)"/>
<polygon points="608.7,271.9 615.4,271.9 615.4,277.0 610.3,277.0" fill="#ffffbf"/><polygon points="608.7,271.9 615.4,271.9 615.4,277.0 610.3,277.0" class="s" clip-path="url(#t21)"/>
<polygon points="617.0,268.6 623.8,268.6 623.8,273.6 617.0,273.6" fill="#ffffbf"/><polygon points="617.0,268.6 623.8,268.6 623.8,273.6 617.0,273.6" class="s" clip-path="url(#t21)"/>
<polygon points="620.4,265.2 632.1,265.2 635.5,273.6 630.5,280.3 623.8,280.3 618.7,277.0" fill="#abdda4"/><polygon points="620.4,265.2 632.1,265.2 635.5,273.6 630.5,280.3 623.8,280.3 618.7,277.0" class="s" clip-path="url(#t21)"/>
<polygon points="632.1,266.9 640.5,268.6 643.9,275.3 638.9,280.3 633.8,278.7" fill="#2b83ba"/><polygon points="632.1,266.9 640.5,268.6 643.9,275.3 638.9,280.3 633.8,278.7" class="s" clip-path="url(#t21)"/>
<polygon points="637.2,265.2 657.3,263.6 654.0,270.3 652.3,278.7 647.2,282.0 637.2,287.0 632.1,283.7 635.5,278.7 640.5,277.0" fill="#ffffbf"/><polygon points="637.2,265.2 657.3,263.6 654.0,270.3 652.3,278.7 647.2,282.0 637.2,287.0 632.1,283.7 635.5,278.7 640.5,277.0" class="s" clip-path="url(#t21)"/>
<polygon points="670.7,266.9 677.4,263.6 680.8,268.6 682.5,278.7 677.4,280.3 672.4,277.0" fill="#ffffbf"/><polygon points="670.7,266.9 677.4,263.6 680.8,268.6 682.5,278.7 677.4,280.3 672.4,277.0" class="s" clip-path="url(#t21)"/>
<polygon points="677.4,260.2 687.5,256.8 690.0,256.8 690.0,280.3 684.2,280.3 680.8,271.9" fill="#2b83ba"/><polygon points="677.4,260.2 687.5,256.8 690.0,256.8 690.0,280.3 684.2,280.3 680.8,271.9" class="s" clip-path="url(#t21)"/>
<polygon points="560.0,273.6 565.0,270.3 568.4,280.3 565.0,287.0 560.0,292.1" fill="#d7191c"/><polygon points="560.0,273.6 565.0,270.3 568.4,280.3 565.0,287.0 560.0,292.1" class="s" clip-path="url(#t21)"/>
<polygon points="565.0,277.0 570.1,271.9 573.4,275.3 568.4,280.3" fill="#ffffbf"/><polygon points="565.0,277.0 570.1,271.9 573.4,275.3 568.4,280.3" class="s" clip-path="url(#t21)"/>
<polygon points="573.4,270.3 581.8,270.3 586.8,275.3 591.9,280.3 593.6,283.7 598.6,290.4 591.9,292.1 583.5,285.4 580.1,280.3" fill="#fdae61"/><polygon points="573.4,270.3 581.8,270.3 586.8,275.3 591.9,280.3 593.6,283.7 598.6,290.4 591.9,292.1 583.5,285.4 580.1,280.3" class="s" clip-path="url(#t21)"/>
<polygon points="566.7,275.3 573.4,273.6 580.1,280.3 583.5,285.4 593.6,292.1 600.3,290.4 603.6,293.8 603.6,300.5 593.6,300.5 580.1,300.5 570.1,297.1 566.7,288.7" fill="#2b83ba"/><polygon points="566.7,275.3 573.4,273.6 580.1,280.3 583.5,285.4 593.6,292.1 600.3,290.4 603.6,293.8 603.6,300.5 593.6,300.5 580.1,300.5 570.1,297.1 566.7,288.7" class="s" clip-path="url(#t21)"/>
<polygon points="593.6,275.3 603.6,273.6 605.3,280.3 600.3,287.0 595.2,283.7" fill="#2b83ba"/><polygon points="593.6,275.3 603.6,273.6 605.3,280.3 600.3,287.0 595.2,283.7" class="s" clip-path="url(#t21)"/>
<polygon points="601.9,270.3 610.3,273.6 610.3,282.0 613.7,287.0 607.0,290.4 601.9,287.0" fill="#abdda4"/><polygon points="601.9,270.3 610.3,273.6 610.3,282.0 613.7,287.0 607.0,290.4 601.9,287.0" class="s" clip-path="url(#t21)"/>
<polygon points="610.3,277.0 618.7,275.3 623.8,280.3 630.5,280.3 632.1,287.0 625.4,288.7 617.0,288.7 612.0,285.4" fill="#fdae61"/><polygon points="610.3,277.0 618.7,275.3 623.8,280.3 630.5,280.3 632.1,287.0 625.4,288.7 617.0,288.7 612.0,285.4" class="s" clip-path="url(#t21)"/>
<polygon points="601.9,287.0 613.7,287.0 620.4,290.4 615.4,293.8 608.7,292.1" fill="#2b83ba"/><polygon points="601.9,287.0 613.7,287.0 620.4,290.4 615.4,293.8 608.7,292.1" class="s" clip-path="url(#t21)"/>
<polygon points="607.0,293.8 615.4,292.1 618.7,297.1 615.4,300.5 608.7,300.5" fill="#fdae61"/><polygon points="607.0,293.8 615.4,292.1 618.7,297.1 615.4,300.5 608.7,300.5" class="s" clip-path="url(#t21)"/>
<polygon points="620.4,288.7 627.1,287.0 637.2,287.0 640.5,297.1 638.9,302.1 627.1,303.8 618.7,300.5" fill="#abdda4"/><polygon points="620.4,288.7 627.1,287.0 637.2,287.0 640.5,297.1 638.9,302.1 627.1,303.8 618.7,300.5" class="s" clip-path="url(#t21)"/>
<polygon points="640.5,287.0 650.6,285.4 654.0,293.8 652.3,302.1 642.2,303.8 638.9,297.1" fill="#2b83ba"/><polygon points="640.5,287.0 650.6,285.4 654.0,293.8 652.3,302.1 642.2,303.8 638.9,297.1" class="s" clip-path="url(#t21)"/>
<polygon points="650.6,275.3 657.3,270.3 670.7,266.9 672.4,277.0 677.4,280.3 675.8,287.0 669.1,292.1 664.0,307.2 655.6,307.2 652.3,302.1 654.0,293.8 650.6,285.4" fill="#abdda4"/><polygon points="650.6,275.3 657.3,270.3 670.7,266.9 672.4,277.0 677.4,280.3 675.8,287.0 669.1,292.1 664.0,307.2 655.6,307.2 652.3,302.1 654.0,293.8 650.6,285.4" class="s" clip-path="url(#t21)"/>
<polygon points="670.7,287.0 677.4,280.3 685.8,280.3 690.0,278.7 690.0,290.4 680.8,292.1 672.4,292.1" fill="#2b83ba"/><polygon points="670.7,287.0 677.4,280.3 685.8,280.3 690.0,278.7 690.0,290.4 680.8,292.1 672.4,292.1" class="s" clip-path="url(#t21)"/>
<polygon points="675.8,295.4 684.2,290.4 690.0,287.0 690.0,307.2 680.8,310.5 672.4,307.2" fill="#fdae61"/><polygon points="675.8,295.4 684.2,290.4 690.0,287.0 690.0,307.2 680.8,310.5 672.4,307.2" class="s" clip-path="url(#t21)"/>
<polygon points="657.3,307.2 664.0,307.2 672.4,307.2 680.8,310.5 690.0,308.9 690.0,329.0 680.8,324.0 670.7,320.6 667.4,317.2 660.7,317.2" fill="#2b83ba"/><polygon points="657.3,307.2 664.0,307.2 672.4,307.2 680.8,310.5 690.0,308.9 690.0,329.0 680.8,324.0 670.7,320.6 667.4,317.2 660.7,317.2" class="s" clip-path="url(#t21)"/>
<polygon points="560.0,292.1 566.7,290.4 570.1,297.1 565.0,303.8 560.0,303.8" fill="#2b83ba"/><polygon points="560.0,292.1 566.7,290.4 570.1,297.1 565.0,303.8 560.0,303.8" class="s" clip-path="url(#t21)"/>
<polygon points="570.1,300.5 593.6,300.5 603.6,300.5 608.7,303.8 600.3,310.5 590.2,313.9 581.8,317.2 573.4,320.6 571.7,307.2" fill="#2b83ba"/><polygon points="570.1,300.5 593.6,300.5 603.6,300.5 608.7,303.8 600.3,310.5 590.2,313.9 581.8,317.2 573.4,320.6 571.7,307.2" class="s" clip-path="url(#t21)"/>
<polygon points="603.6,298.8 618.7,302.1 620.4,313.9 625.4,320.6 615.4,325.6 610.3,324.0 607.0,313.9 605.3,305.5" fill="#d7191c"/><polygon points="603.6,298.8 618.7,302.1 620.4,313.9 625.4,320.6 615.4,325.6 610.3,324.0 607.0,313.9 605.3,305.5" class="s" clip-path="url(#t21)"/>
<polygon points="618.7,302.1 627.1,300.5 630.5,303.8 623.8,307.2 620.4,307.2" fill="#2b83ba"/><polygon points="618.7,302.1 627.1,300.5 630.5,303.8 623.8,307.2 620.4,307.2" class="s" clip-path="url(#t21)"/>
<polygon points="571.7,318.9 580.1,317.2 585.2,327.3 591.9,334.0 583.5,337.4 576.8,334.0 573.4,325.6" fill="#ffffbf"/><polygon points="571.7,318.9 580.1,317.2 585.2,327.3 591.9,334.0 583.5,337.4 576.8,334.0 573.4,325.6" class="s" clip-path="url(#t21)"/>
<polygon points="560.0,330.7 570.1,327.3 573.4,337.4 571.7,344.1 560.0,347.4" fill="#2b83ba"/><polygon points="560.0,330.7 570.1,327.3 573.4,337.4 571.7,344.1 560.0,347.4" class="s" clip-path="url(#t21)"/>
<polygon points="570.1,337.4 581.8,339.1 583.5,347.4 576.8,350.8 570.1,347.4" fill="#2b83ba"/><polygon points="570.1,337.4 581.8,339.1 583.5,347.4 576.8,350.8 570.1,347.4" class="s" clip-path="url(#t21)"/>
<polygon points="560.0,347.4 570.1,347.4 576.8,350.8 578.5,360.0 560.0,360.0" fill="#2b83ba"/><polygon points="560.0,347.4 570.1,347.4 576.8,350.8 578.5,360.0 560.0,360.0" class="s" clip-path="url(#t21)"/>
<polygon points="654.0,345.8 677.4,345.8 690.0,334.0 690.0,360.0 654.0,360.0" fill="#2b83ba"/><polygon points="654.0,345.8 677.4,345.8 690.0,334.0 690.0,360.0 654.0,360.0" class="s" clip-path="url(#t21)"/>
<polygon points="435.0,60.0 515.0,60.0 515.0,150.0 435.0,150.0" fill="#ffffbf"/><polygon points="435.0,60.0 515.0,60.0 515.0,150.0 435.0,150.0" class="s" clip-path="url(#t22)"/>
<polygon points="435.0,67.9 438.4,66.8 438.4,73.5 435.0,75.8" fill="#abdda4"/><polygon points="435.0,67.9 438.4,66.8 438.4,73.5 435.0,75.8" class="s" clip-path="url(#t22)"/>
<polygon points="435.0,76.9 438.4,75.8 441.8,84.8 440.6,89.3 435.0,91.5" fill="#fdae61"/><polygon points="435.0,76.9 438.4,75.8 441.8,84.8 440.6,89.3 435.0,91.5" class="s" clip-path="url(#t22)"/>
<polygon points="437.3,74.6 441.8,71.3 447.4,72.4 448.5,79.1 445.1,82.5 441.8,84.8" fill="#abdda4"/><polygon points="437.3,74.6 441.8,71.3 447.4,72.4 448.5,79.1 445.1,82.5 441.8,84.8" class="s" clip-path="url(#t22)"/>
<polygon points="448.5,70.1 450.8,69.0 457.5,66.8 459.8,64.5 462.0,69.0 466.5,72.4 467.6,82.5 463.1,83.6 457.5,82.5 449.6,76.9" fill="#2b83ba"/><polygon points="448.5,70.1 450.8,69.0 457.5,66.8 459.8,64.5 462.0,69.0 466.5,72.4 467.6,82.5 463.1,83.6 457.5,82.5 449.6,76.9" class="s" clip-path="url(#t22)"/>
<polygon points="441.8,84.8 445.1,82.5 449.6,78.0 457.5,82.5 463.1,83.6 467.6,83.6 466.5,88.1 459.8,89.3 453.0,90.4 447.4,90.4 444.0,89.3" fill="#abdda4"/><polygon points="441.8,84.8 445.1,82.5 449.6,78.0 457.5,82.5 463.1,83.6 467.6,83.6 466.5,88.1 459.8,89.3 453.0,90.4 447.4,90.4 444.0,89.3" class="s" clip-path="url(#t22)"/>
<polygon points="435.0,91.5 440.6,89.3 446.3,92.6 444.0,97.1 441.8,99.4 439.5,105.0 435.0,107.3" fill="#2b83ba"/><polygon points="435.0,91.5 440.6,89.3 446.3,92.6 444.0,97.1 441.8,99.4 439.5,105.0 435.0,107.3" class="s" clip-path="url(#t22)"/>
<polygon points="438.4,93.8 447.4,91.5 446.3,96.0 441.8,98.3" fill="#2b83ba"/><polygon points="438.4,93.8 447.4,91.5 446.3,96.0 441.8,98.3" class="s" clip-path="url(#t22)"/>
<polygon points="446.3,93.8 451.9,91.5 451.9,96.0 447.4,98.3" fill="#ffffbf"/><polygon points="446.3,93.8 451.9,91.5 451.9,96.0 447.4,98.3" class="s" clip-path="url(#t22)"/>
<polygon points="441.8,98.3 446.3,97.1 451.9,100.5 453.0,105.0 448.5,107.3 444.0,106.1" fill="#2b83ba"/><polygon points="441.8,98.3 446.3,97.1 451.9,100.5 453.0,105.0 448.5,107.3 444.0,106.1" class="s" clip-path="url(#t22)"/>
<polygon points="435.0,107.3 439.5,105.0 441.8,109.5 441.8,115.1 437.3,118.5 435.0,118.5" fill="#abdda4"/><polygon points="435.0,107.3 439.5,105.0 441.8,109.5 441.8,115.1 437.3,118.5 435.0,118.5" class="s" clip-path="url(#t22)"/>
<polygon points="450.8,93.8 457.5,92.6 462.0,98.3 462.0,105.0 466.5,109.5 462.0,111.8 457.5,110.6 454.1,105.0" fill="#abdda4"/><polygon points="450.8,93.8 457.5,92.6 462.0,98.3 462.0,105.0 466.5,109.5 462.0,111.8 457.5,110.6 454.1,105.0" class="s" clip-path="url(#t22)"/>
<polygon points="446.3,107.3 451.9,106.1 454.1,109.5 450.8,111.8 446.3,110.6" fill="#ffffbf"/><polygon points="446.3,107.3 451.9,106.1 454.1,109.5 450.8,111.8 446.3,110.6" class="s" clip-path="url(#t22)"/>
<polygon points="441.8,115.1 447.4,112.9 453.0,110.6 455.3,115.1 453.0,118.5 448.5,119.6 444.0,118.5" fill="#2b83ba"/><polygon points="441.8,115.1 447.4,112.9 453.0,110.6 455.3,115.1 453.0,118.5 448.5,119.6 444.0,118.5" class="s" clip-path="url(#t22)"/>
<polygon points="446.3,121.9 453.0,118.5 457.5,121.9 457.5,125.3 450.8,126.4 446.3,125.3" fill="#2b83ba"/><polygon points="446.3,121.9 453.0,118.5 457.5,121.9 457.5,125.3 450.8,126.4 446.3,125.3" class="s" clip-path="url(#t22)"/>
<polygon points="455.3,110.6 462.0,111.8 467.6,109.5 472.1,112.9 468.8,119.6 463.1,121.9 457.5,121.9 454.1,116.3" fill="#abdda4"/><polygon points="455.3,110.6 462.0,111.8 467.6,109.5 472.1,112.9 468.8,119.6 463.1,121.9 457.5,121.9 454.1,116.3" class="s" clip-path="url(#t22)"/>
<polygon points="454.1,112.9 457.5,114.0 462.0,118.5 463.1,123.0 458.6,126.4 457.5,121.9 455.3,118.5" fill="#d7191c"/><polygon points="454.1,112.9 457.5,114.0 462.0,118.5 463.1,123.0 458.6,126.4 457.5,121.9 455.3,118.5" class="s" clip-path="url(#t22)"/>
<polygon points="435.0,120.8 439.5,119.6 446.3,119.6 446.3,125.3 450.8,126.4 451.9,129.8 446.3,136.5 444.0,145.5 439.5,150.0 435.0,150.0" fill="#fdae61"/><polygon points="435.0,120.8 439.5,119.6 446.3,119.6 446.3,125.3 450.8,126.4 451.9,129.8 446.3,136.5 444.0,145.5 439.5,150.0 435.0,150.0" class="s" clip-path="url(#t22)"/>
<polygon points="446.3,136.5 448.5,132.0 455.3,127.5 458.6,126.4 459.8,133.1 453.0,134.3" fill="#d7191c"/><polygon points="446.3,136.5 448.5,132.0 455.3,127.5 458.6,126.4 459.8,133.1 453.0,134.3" class="s" clip-path="url(#t22)"/>
<polygon points="441.8,150.0 446.3,136.5 453.0,134.3 459.8,133.1 462.0,141.0 462.0,150.0" fill="#ffffbf"/><polygon points="441.8,150.0 446.3,136.5 453.0,134.3 459.8,133.1 462.0,141.0 462.0,150.0" class="s" clip-path="url(#t22)"/>
<polygon points="458.6,132.0 463.1,130.9 467.6,138.8 464.3,143.3 460.9,141.0" fill="#fdae61"/><polygon points="458.6,132.0 463.1,130.9 467.6,138.8 464.3,143.3 460.9,141.0" class="s" clip-path="url(#t22)"/>
<polygon points="466.5,72.4 474.4,71.3 480.0,74.6 482.3,76.9 485.6,79.1 486.8,83.6 482.3,85.9 480.0,92.6 477.8,94.9 473.3,93.8 467.6,91.5 467.6,82.5" fill="#ffffbf"/><polygon points="466.5,72.4 474.4,71.3 480.0,74.6 482.3,76.9 485.6,79.1 486.8,83.6 482.3,85.9 480.0,92.6 477.8,94.9 473.3,93.8 467.6,91.5 467.6,82.5" class="s" clip-path="url(#t22)"/>
<polygon points="460.9,96.0 467.6,96.0 475.5,97.1 480.0,98.3 482.3,102.8 480.0,105.0 473.3,103.9 468.8,102.8 464.3,101.6" fill="#fdae61"/><polygon points="460.9,96.0 467.6,96.0 475.5,97.1 480.0,98.3 482.3,102.8 480.0,105.0 473.3,103.9 468.8,102.8 464.3,101.6" class="s" clip-path="url(#t22)"/>
<polygon points="467.6,105.0 473.3,103.9 480.0,105.0 484.5,107.3 484.5,112.9 474.4,114.0 471.0,116.3 467.6,114.0 469.9,109.5" fill="#d7191c"/><polygon points="467.6,105.0 473.3,103.9 480.0,105.0 484.5,107.3 484.5,112.9 474.4,114.0 471.0,116.3 467.6,114.0 469.9,109.5" class="s" clip-path="url(#t22)"/>
<polygon points="462.0,92.6 468.8,90.4 477.8,93.8 478.9,97.1 469.9,96.0 463.1,96.0" fill="#ffffbf"/><polygon points="462.0,92.6 468.8,90.4 477.8,93.8 478.9,97.1 469.9,96.0 463.1,96.0" class="s" clip-path="url(#t22)"/>
<polygon points="480.0,94.9 484.5,93.8 489.0,97.1 489.0,105.0 484.5,105.0 482.3,102.8" fill="#fdae61"/><polygon points="480.0,94.9 484.5,93.8 489.0,97.1 489.0,105.0 484.5,105.0 482.3,102.8" class="s" clip-path="url(#t22)"/>
<polygon points="485.6,82.5 490.1,81.4 493.5,85.9 494.6,91.5 491.3,93.8 486.8,91.5 485.6,87.0" fill="#fdae61"/><polygon points="485.6,82.5 490.1,81.4 493.5,85.9 494.6,91.5 491.3,93.8 486.8,91.5 485.6,87.0" class="s" clip-path="url(#t22)"/>
<polygon points="486.8,92.6 493.5,93.8 498.0,98.3 495.8,101.6 491.3,101.6 489.0,97.1" fill="#ffffbf"/><polygon points="486.8,92.6 493.5,93.8 498.0,98.3 495.8,101.6 491.3,101.6 489.0,97.1" class="s" clip-path="url(#t22)"/>
<polygon points="489.0,76.9 498.0,75.8 501.4,78.0 502.5,97.1 495.8,98.3 493.5,93.8 493.5,85.9 490.1,81.4" fill="#abdda4"/><polygon points="489.0,76.9 498.0,75.8 501.4,78.0 502.5,97.1 495.8,98.3 493.5,93.8 493.5,85.9 490.1,81.4" class="s" clip-path="url(#t22)"/>
<polygon points="501.4,78.0 509.3,75.8 509.3,85.9 508.1,93.8 504.8,97.1 502.5,96.0" fill="#abdda4"/><polygon points="501.4,78.0 509.3,75.8 509.3,85.9 508.1,93.8 504.8,97.1 502.5,96.0" class="s" clip-path="url(#t22)"/>
<polygon points="509.3,80.3 513.8,79.1 515.0,82.5 515.0,98.3 509.3,97.1 508.1,93.8 509.3,85.9" fill="#fdae61"/><polygon points="509.3,80.3 513.8,79.1 515.0,82.5 515.0,98.3 509.3,97.1 508.1,93.8 509.3,85.9" class="s" clip-path="url(#t22)"/>
<polygon points="502.5,98.3 511.5,97.1 515.0,97.1 515.0,120.8 509.3,120.8 504.8,116.3 505.9,110.6 501.4,106.1" fill="#d7191c"/><polygon points="502.5,98.3 511.5,97.1 515.0,97.1 515.0,120.8 509.3,120.8 504.8,116.3 505.9,110.6 501.4,106.1" class="s" clip-path="url(#t22)"/>
<polygon points="491.3,101.6 498.0,98.3 502.5,99.4 504.8,105.0 501.4,107.3 498.0,105.0 493.5,105.0" fill="#fdae61"/><polygon points="491.3,101.6 498.0,98.3 502.5,99.4 504.8,105.0 501.4,107.3 498.0,105.0 493.5,105.0" class="s" clip-path="url(#t22)"/>
<polygon points="484.5,105.0 490.1,103.9 498.0,105.0 499.1,109.5 498.0,114.0 491.3,112.9 485.6,109.5" fill="#abdda4"/><polygon points="484.5,105.0 490.1,103.9 498.0,105.0 499.1,109.5 498.0,114.0 491.3,112.9 485.6,109.5" class="s" clip-path="url(#t22)"/>
<polygon points="499.1,107.3 504.8,106.1 507.0,111.8 504.8,115.1 500.3,114.0" fill="#fdae61"/><polygon points="499.1,107.3 504.8,106.1 507.0,111.8 504.8,115.1 500.3,114.0" class="s" clip-path="url(#t22)"/>
<polygon points="484.5,109.5 491.3,112.9 498.0,114.0 500.3,116.3 502.5,125.3 498.0,129.8 493.5,129.8 489.0,123.0 484.5,116.3" fill="#fdae61"/><polygon points="484.5,109.5 491.3,112.9 498.0,114.0 500.3,116.3 502.5,125.3 498.0,129.8 493.5,129.8 489.0,123.0 484.5,116.3" class="s" clip-path="url(#t22)"/>
<polygon points="500.3,115.1 504.8,116.3 509.3,120.8 513.8,123.0 513.8,129.8 507.0,132.0 502.5,132.0 500.3,126.4" fill="#fdae61"/><polygon points="500.3,115.1 504.8,116.3 509.3,120.8 513.8,123.0 513.8,129.8 507.0,132.0 502.5,132.0 500.3,126.4" class="s" clip-path="url(#t22)"/>
<polygon points="504.8,129.8 513.8,125.3 515.0,125.3 515.0,137.6 509.3,137.6 502.5,134.3" fill="#d7191c"/><polygon points="504.8,129.8 513.8,125.3 515.0,125.3 515.0,137.6 509.3,137.6 502.5,134.3" class="s" clip-path="url(#t22)"/>
<polygon points="471.0,116.3 484.5,112.9 486.8,120.8 491.3,129.8 498.0,129.8 500.3,134.3 493.5,138.8 489.0,134.3 480.0,129.8 472.1,123.0" fill="#ffffbf"/><polygon points="471.0,116.3 484.5,112.9 486.8,120.8 491.3,129.8 498.0,129.8 500.3,134.3 493.5,138.8 489.0,134.3 480.0,129.8 472.1,123.0" class="s" clip-path="url(#t22)"/>
<polygon points="459.8,125.3 471.0,117.4 473.3,123.0 482.3,132.0 480.0,138.8 471.0,141.0 466.5,138.8 463.1,130.9 459.8,127.5" fill="#ffffbf"/><polygon points="459.8,125.3 471.0,117.4 473.3,123.0 482.3,132.0 480.0,138.8 471.0,141.0 466.5,138.8 463.1,130.9 459.8,127.5" class="s" clip-path="url(#t22)"/>
<polygon points="477.8,136.5 484.5,133.1 491.3,136.5 498.0,141.0 500.3,150.0 485.6,150.0 478.9,143.3" fill="#abdda4"/><polygon points="477.8,136.5 484.5,133.1 491.3,136.5 498.0,141.0 500.3,150.0 485.6,150.0 478.9,143.3" class="s" clip-path="url(#t22)"/>
<polygon points="474.4,145.5 480.0,142.1 485.6,145.5 487.9,150.0 474.4,150.0" fill="#2b83ba"/><polygon points="474.4,145.5 480.0,142.1 485.6,145.5 487.9,150.0 474.4,150.0" class="s" clip-path="url(#t22)"/>
<polygon points="462.0,145.5 471.0,143.3 474.4,147.8 473.3,150.0 462.0,150.0" fill="#abdda4"/><polygon points="462.0,145.5 471.0,143.3 474.4,147.8 473.3,150.0 462.0,150.0" class="s" clip-path="url(#t22)"/>
<polygon points="500.3,134.3 509.3,137.6 515.0,137.6 515.0,150.0 500.3,150.0 498.0,141.0" fill="#ffffbf"/><polygon points="500.3,134.3 509.3,137.6 515.0,137.6 515.0,150.0 500.3,150.0 498.0,141.0" class="s" clip-path="url(#t22)"/>
<polygon points="495.0,190.0 575.0,190.0 575.0,270.0 495.0,270.0" fill="#fdae61"/><polygon points="495.0,190.0 575.0,190.0 575.0,270.0 495.0,270.0" class="s" clip-path="url(#t23)"/>
<polygon points="500.2,190.0 518.7,190.0 518.7,196.2 510.5,197.2 501.2,194.1" fill="#ffffbf"/><polygon points="500.2,190.0 518.7,190.0 518.7,196.2 510.5,197.2 501.2,194.1" class="s" clip-path="url(#t23)"/>
<polygon points="518.7,190.0 546.6,190.0 544.5,197.2 538.4,198.3 536.3,194.1 528.0,194.1 520.8,193.1" fill="#d7191c"/><polygon points="518.7,190.0 546.6,190.0 544.5,197.2 538.4,198.3 536.3,194.1 528.0,194.1 520.8,193.1" class="s" clip-path="url(#t23)"/>
<polygon points="544.5,190.0 575.0,190.0 575.0,193.1 561.1,193.1 556.9,196.2 546.6,195.2" fill="#d7191c"/><polygon points="544.5,190.0 575.0,190.0 575.0,193.1 561.1,193.1 556.9,196.2 546.6,195.2" class="s" clip-path="url(#t23)"/>
<polygon points="520.8,202.4 522.9,197.2 526.0,201.4 538.4,200.3 539.4,205.5 529.1,205.5 523.9,207.5 519.8,206.5" fill="#2b83ba"/><polygon points="520.8,202.4 522.9,197.2 526.0,201.4 538.4,200.3 539.4,205.5 529.1,205.5 523.9,207.5 519.8,206.5" class="s" clip-path="url(#t23)"/>
<polygon points="539.4,198.3 546.6,199.3 548.7,204.5 546.6,207.5 542.5,208.6 539.4,205.5" fill="#abdda4"/><polygon points="539.4,198.3 546.6,199.3 548.7,204.5 546.6,207.5 542.5,208.6 539.4,205.5" class="s" clip-path="url(#t23)"/>
<polygon points="556.9,196.2 571.4,194.1 572.4,203.4 565.2,204.5 559.0,201.4" fill="#abdda4"/><polygon points="556.9,196.2 571.4,194.1 572.4,203.4 565.2,204.5 559.0,201.4" class="s" clip-path="url(#t23)"/>
<polygon points="562.1,209.6 569.3,208.6 575.0,208.6 575.0,214.8 567.3,215.8 562.1,213.7" fill="#d7191c"/><polygon points="562.1,209.6 569.3,208.6 575.0,208.6 575.0,214.8 567.3,215.8 562.1,213.7" class="s" clip-path="url(#t23)"/>
<polygon points="518.7,206.5 529.1,205.5 539.4,205.5 542.5,208.6 546.6,213.7 550.7,217.9 551.8,223.0 546.6,224.1 541.5,221.0 538.4,216.8 532.2,216.8 526.0,217.9 522.9,213.7" fill="#abdda4"/><polygon points="518.7,206.5 529.1,205.5 539.4,205.5 542.5,208.6 546.6,213.7 550.7,217.9 551.8,223.0 546.6,224.1 541.5,221.0 538.4,216.8 532.2,216.8 526.0,217.9 522.9,213.7" class="s" clip-path="url(#t23)"/>
<polygon points="504.3,214.8 513.6,211.7 520.8,211.7 524.9,215.8 527.0,221.0 519.8,224.1 516.7,227.2 519.8,231.3 510.5,233.4 507.4,231.3 505.3,224.1" fill="#2b83ba"/><polygon points="504.3,214.8 513.6,211.7 520.8,211.7 524.9,215.8 527.0,221.0 519.8,224.1 516.7,227.2 519.8,231.3 510.5,233.4 507.4,231.3 505.3,224.1" class="s" clip-path="url(#t23)"/>
<polygon points="527.0,216.8 533.2,212.7 538.4,212.7 539.4,218.9 531.1,218.9" fill="#d7191c"/><polygon points="527.0,216.8 533.2,212.7 538.4,212.7 539.4,218.9 531.1,218.9" class="s" clip-path="url(#t23)"/>
<polygon points="495.0,219.9 501.2,221.0 505.3,224.1 508.4,233.4 509.5,239.5 501.2,241.6 495.0,240.6" fill="#abdda4"/><polygon points="495.0,219.9 501.2,221.0 505.3,224.1 508.4,233.4 509.5,239.5 501.2,241.6 495.0,240.6" class="s" clip-path="url(#t23)"/>
<polygon points="517.7,224.1 524.9,223.0 528.0,228.2 526.0,231.3 519.8,231.3 517.7,227.2" fill="#ffffbf"/><polygon points="517.7,224.1 524.9,223.0 528.0,228.2 526.0,231.3 519.8,231.3 517.7,227.2" class="s" clip-path="url(#t23)"/>
<polygon points="526.0,218.9 538.4,218.9 541.5,223.0 541.5,229.2 535.3,229.2 529.1,230.3 528.0,225.1" fill="#abdda4"/><polygon points="526.0,218.9 538.4,218.9 541.5,223.0 541.5,229.2 535.3,229.2 529.1,230.3 528.0,225.1" class="s" clip-path="url(#t23)"/>
<polygon points="541.5,223.0 546.6,225.1 550.7,229.2 552.8,233.4 555.9,237.5 555.9,244.7 550.7,245.7 546.6,238.5 544.5,233.4" fill="#d7191c"/><polygon points="541.5,223.0 546.6,225.1 550.7,229.2 552.8,233.4 555.9,237.5 555.9,244.7 550.7,245.7 546.6,238.5 544.5,233.4" class="s" clip-path="url(#t23)"/>
<polygon points="534.2,230.3 541.5,229.2 544.5,233.4 541.5,235.4 536.3,235.4" fill="#ffffbf"/><polygon points="534.2,230.3 541.5,229.2 544.5,233.4 541.5,235.4 536.3,235.4" class="s" clip-path="url(#t23)"/>
<polygon points="520.8,231.3 529.1,230.3 536.3,235.4 541.5,235.4 544.5,236.5 540.4,239.5 536.3,240.6 529.1,237.5 523.9,234.4" fill="#abdda4"/><polygon points="520.8,231.3 529.1,230.3 536.3,235.4 541.5,235.4 544.5,236.5 540.4,239.5 536.3,240.6 529.1,237.5 523.9,234.4" class="s" clip-path="url(#t23)"/>
<polygon points="509.5,233.4 519.8,231.3 523.9,234.4 529.1,237.5 529.1,244.7 522.9,246.8 515.6,243.7 510.5,239.5" fill="#2b83ba"/><polygon points="509.5,233.4 519.8,231.3 523.9,234.4 529.1,237.5 529.1,244.7 522.9,246.8 515.6,243.7 510.5,239.5" class="s" clip-path="url(#t23)"/>
<polygon points="495.0,240.6 501.2,241.6 509.5,239.5 510.5,241.6 504.3,243.7 501.2,251.9 495.0,251.9" fill="#abdda4"/><polygon points="495.0,240.6 501.2,241.6 509.5,239.5 510.5,241.6 504.3,243.7 501.2,251.9 495.0,251.9" class="s" clip-path="url(#t23)"/>
<polygon points="534.2,238.5 544.5,236.5 549.7,241.6 550.7,247.8 542.5,249.9 538.4,247.8 535.3,244.7" fill="#2b83ba"/><polygon points="534.2,238.5 544.5,236.5 549.7,241.6 550.7,247.8 542.5,249.9 538.4,247.8 535.3,244.7" class="s" clip-path="url(#t23)"/>
<polygon points="519.8,245.7 526.0,245.7 531.1,249.9 529.1,251.9 521.8,251.9" fill="#abdda4"/><polygon points="519.8,245.7 526.0,245.7 531.1,249.9 529.1,251.9 521.8,251.9" class="s" clip-path="url(#t23)"/>
<polygon points="529.1,237.5 535.3,238.5 535.3,244.7 539.4,248.8 537.3,254.0 532.2,251.9 530.1,247.8" fill="#abdda4"/><polygon points="529.1,237.5 535.3,238.5 535.3,244.7 539.4,248.8 537.3,254.0 532.2,251.9 530.1,247.8" class="s" clip-path="url(#t23)"/>
<polygon points="529.1,250.9 536.3,250.9 539.4,254.0 538.4,257.1 532.2,257.1" fill="#2b83ba"/><polygon points="529.1,250.9 536.3,250.9 539.4,254.0 538.4,257.1 532.2,257.1" class="s" clip-path="url(#t23)"/>
<polygon points="519.8,251.9 528.0,251.9 532.2,257.1 527.0,260.2 521.8,257.1" fill="#ffffbf"/><polygon points="519.8,251.9 528.0,251.9 532.2,257.1 527.0,260.2 521.8,257.1" class="s" clip-path="url(#t23)"/>
<polygon points="555.9,231.3 565.2,229.2 569.3,233.4 571.4,240.6 569.3,247.8 563.1,250.9 556.9,249.9 555.9,244.7" fill="#abdda4"/><polygon points="555.9,231.3 565.2,229.2 569.3,233.4 571.4,240.6 569.3,247.8 563.1,250.9 556.9,249.9 555.9,244.7" class="s" clip-path="url(#t23)"/>
<polygon points="552.8,215.8 561.1,215.8 565.2,221.0 567.3,226.1 564.2,231.3 556.9,232.3 552.8,229.2" fill="#ffffbf"/><polygon points="552.8,215.8 561.1,215.8 565.2,221.0 567.3,226.1 564.2,231.3 556.9,232.3 552.8,229.2" class="s" clip-path="url(#t23)"/>
<polygon points="569.3,229.2 575.0,229.2 575.0,239.5 571.4,240.6" fill="#abdda4"/><polygon points="569.3,229.2 575.0,229.2 575.0,239.5 571.4,240.6" class="s" clip-path="url(#t23)"/>
<polygon points="571.4,237.5 575.0,237.5 575.0,243.7 572.4,243.7" fill="#d7191c"/><polygon points="571.4,237.5 575.0,237.5 575.0,243.7 572.4,243.7" class="s" clip-path="url(#t23)"/>
<polygon points="556.9,256.1 566.2,256.1 569.3,260.2 567.3,264.3 561.1,264.3 555.9,261.2" fill="#ffffbf"/><polygon points="556.9,256.1 566.2,256.1 569.3,260.2 567.3,264.3 561.1,264.3 555.9,261.2" class="s" clip-path="url(#t23)"/>
<polygon points="563.1,251.9 569.3,251.9 575.0,248.8 575.0,270.0 561.1,270.0 561.1,264.3 567.3,264.3 569.3,260.2" fill="#2b83ba"/><polygon points="563.1,251.9 569.3,251.9 575.0,248.8 575.0,270.0 561.1,270.0 561.1,264.3 567.3,264.3 569.3,260.2" class="s" clip-path="url(#t23)"/>
<polygon points="538.4,256.1 546.6,255.0 550.7,258.1 546.6,261.2 541.5,260.2" fill="#d7191c"/><polygon points="538.4,256.1 546.6,255.0 550.7,258.1 546.6,261.2 541.5,260.2" class="s" clip-path="url(#t23)"/>
<polygon points="528.0,258.1 538.4,258.1 542.5,262.3 544.5,268.5 536.3,270.0 531.1,265.4" fill="#abdda4"/><polygon points="528.0,258.1 538.4,258.1 542.5,262.3 544.5,268.5 536.3,270.0 531.1,265.4" class="s" clip-path="url(#t23)"/>
<polygon points="531.1,262.3 536.3,262.3 536.3,267.4 532.2,267.4" fill="#ffffbf"/><polygon points="531.1,262.3 536.3,262.3 536.3,267.4 532.2,267.4" class="s" clip-path="url(#t23)"/>
<polygon points="495.0,250.9 501.2,251.9 507.4,254.0 509.5,260.2 505.3,266.4 501.2,270.0 495.0,270.0" fill="#2b83ba"/><polygon points="495.0,250.9 501.2,251.9 507.4,254.0 509.5,260.2 505.3,266.4 501.2,270.0 495.0,270.0" class="s" clip-path="url(#t23)"/>
<polygon points="507.4,254.0 511.5,254.0 513.6,262.3 515.6,270.0 501.2,270.0 505.3,266.4 509.5,260.2" fill="#d7191c"/><polygon points="507.4,254.0 511.5,254.0 513.6,262.3 515.6,270.0 501.2,270.0 505.3,266.4 509.5,260.2" class="s" clip-path="url(#t23)"/>
<polygon points="309.5,326.5 318.0,318.0 325.0,307.5 342.0,298.0 350.0,330.0 340.0,362.0 331.0,357.0 325.0,347.0 319.0,337.0" fill="#fdae61"/>
<g fill="none" stroke="#333" stroke-width="0.4" stroke-linejoin="round">
<polyline points="192.0,348.0 210.0,340.0 236.0,336.0 244.0,332.0 244.0,326.0 240.0,322.0"/>
<polyline points="244.0,328.0 250.0,336.0 264.0,340.0 276.0,347.0 292.0,340.0 300.0,342.0 294.0,348.0 298.0,362.0 290.0,378.0 288.0,386.0 292.0,400.0 296.0,410.0"/>
<polyline points="298.0,363.0 315.0,362.0"/>
<polyline points="235.0,336.0 243.0,334.0 245.0,328.0 243.0,320.0"/>
<polyline points="245.0,328.0 251.0,336.0 265.0,340.0 277.0,346.0 293.0,340.0 301.0,342.0 295.0,350.0 297.0,362.0 293.0,374.0 287.0,382.0 289.0,392.0 293.0,404.0 295.0,410.0"/>
<polyline points="297.0,363.0 311.0,362.0 323.0,354.0 323.0,362.0 331.0,370.0 347.0,376.0 359.0,380.0 375.0,384.0 387.0,384.0"/>
<polyline points="164.0,320.0 192.0,314.0 210.0,310.0 226.0,312.0 244.0,316.0 254.0,314.0 268.0,310.0 278.0,310.0"/>
<polyline points="244.0,316.0 244.0,330.0 246.0,345.0"/>
<polyline points="266.0,276.0 280.0,274.0 288.0,280.0 286.0,290.0 280.0,298.0 276.0,310.0"/>
<polyline points="290.0,286.0 315.0,290.0"/>
<polyline points="430.0,384.0 446.0,388.0 450.0,382.0 460.0,382.0"/>
<polyline points="446.0,388.0 434.0,400.0 432.0,414.0 440.0,422.0 448.0,430.0 438.0,436.0 436.0,448.0 440.0,456.0"/>
<polyline points="400.0,406.0 402.0,414.0 396.0,420.0 394.0,432.0 390.0,446.0 388.0,454.0"/>
<polyline points="410.0,412.0 414.0,424.0 416.0,434.0 404.0,440.0 400.0,450.0 392.0,458.0"/>
<polyline points="404.0,440.0 418.0,438.0 424.0,450.0 424.0,458.0"/>
<polyline points="652.0,203.8 668.2,206.1 684.5,208.4 693.8,206.1 707.7,210.8 713.5,208.4"/>
<polyline points="703.1,178.2 705.4,189.9 696.1,199.2 693.8,208.4 689.2,217.7 691.5,229.3 679.9,234.0"/>
<polyline points="693.8,208.4 705.4,215.4 712.4,220.1"/>
<polyline points="580.0,215.4 593.9,213.1 605.5,220.1 614.8,210.8 626.4,215.4 640.4,210.8"/>
<polyline points="587.0,227.0 603.2,229.3 614.8,227.0 633.4,224.7"/>
<polyline points="603.2,210.8 605.5,234.0 603.2,247.9"/>
<polyline points="614.8,210.8 619.5,227.0 612.5,238.6"/>
<polyline points="589.3,234.0 598.6,238.6 610.2,241.0 621.8,236.3 635.7,238.6"/>
<polyline points="619.5,245.6 626.4,252.6 638.1,250.2 649.7,250.2"/>
<polyline points="593.9,159.7 607.9,166.6 614.8,180.6 624.1,187.5"/>
<polyline points="591.6,194.5 607.9,192.2 617.2,199.2 626.4,206.1"/>
<polyline points="438.3,481.9 440.4,492.9 455.8,500.6 464.6,507.2"/>
<polyline points="108.0,299.9 116.0,305.0 124.5,312.3"/>
</g>
</g>
<path d="M81.0,319.6 L86.0,319.0 L92.0,315.0 L99.0,309.0 L107.0,300.0 L108.0,293.0 L115.0,287.0 L123.0,285.0 L132.0,276.0 L143.0,265.0 L152.0,257.0 L154.0,253.0 L161.0,249.0 L164.0,239.0 L168.0,232.0 L176.0,229.0 L182.0,226.0 L184.0,219.0 L191.0,216.0 L192.0,208.0 L193.0,205.0 L206.0,196.0 L215.0,184.0 L226.0,178.0 L228.0,170.0 L240.0,169.0 L235.0,160.0 L248.0,154.0 L250.0,150.0 L260.0,148.0 L264.0,145.0 L271.0,138.0 L273.0,134.0 L280.0,133.0 L284.0,129.0 L292.0,127.0 L294.0,122.0 L302.0,119.0 L307.0,115.0 L307.0,110.0 L314.0,102.0 L320.0,103.0 L330.0,101.0 L331.0,97.0 L342.0,93.0 L348.0,91.0 L353.0,93.0 L354.0,88.0 L360.0,89.0 L364.0,80.0 L369.0,81.0 L375.0,81.0 L380.0,77.0 L384.0,72.0 L391.0,69.0 L394.0,71.0 L399.0,70.0 L407.0,72.0 L415.0,73.0 L422.0,70.0 L424.0,69.0 L431.0,65.0 L438.0,69.0 L440.0,72.0 L448.0,73.0 L458.0,65.0 L461.0,66.0 L463.0,72.0 L467.0,72.0 L474.0,72.0 L481.0,76.0 L490.0,78.0 L499.0,77.0 L508.0,76.0 L515.0,81.0 L523.0,80.0 L531.0,83.0 L535.0,81.0 L537.0,88.0 L543.0,86.0 L549.0,94.0 L555.0,98.0 L564.0,98.0 L575.0,100.0 L581.0,104.0 L587.0,104.0 L595.0,110.0 L599.0,116.0 L604.0,118.0 L610.0,122.0 L616.0,125.0 L622.0,132.0 L628.0,136.0 L636.0,142.0 L640.0,150.0 L646.0,154.0 L650.0,162.0 L656.0,168.0 L664.0,172.0 L674.0,174.0 L684.0,176.0 L692.0,177.0 L699.0,176.0 L706.0,177.0 L712.0,176.0 L722.0,178.0 L730.0,180.0 L734.0,189.0 L728.0,190.0 L720.0,196.0 L714.0,202.0 L715.0,212.0 L714.0,222.0 L712.0,230.0 L706.0,238.0 L700.0,242.0 L698.0,246.0 L704.0,247.0 L706.0,250.0 L712.0,240.0 L718.0,238.0 L724.0,244.0 L730.0,248.0 L732.0,249.0 L724.0,257.0 L716.0,270.0 L708.0,284.0 L700.0,298.0 L694.0,314.0 L688.0,328.0 L682.0,344.0 L672.0,356.0 L660.0,372.0 L648.0,388.0 L632.0,406.0 L610.8,426.3 L599.5,435.5 L588.1,444.0 L573.9,452.5 L562.6,458.2 L554.1,463.9 L545.5,472.4 L538.5,479.5 L539.0,480.0 L524.0,496.0 L514.0,510.0 L508.0,522.0 L509.2,520.0 L508.1,530.3 L504.0,540.6 L498.8,549.9 L493.7,559.2 L486.5,568.5 L479.2,575.7 L471.0,583.0 L460.6,591.2 L449.3,600.0 L446.0,600.0 L438.0,606.0 L430.0,611.0 L427.0,609.0 L420.0,606.0 L420.0,600.0 L423.0,596.0 L428.0,588.0 L426.0,574.0 L428.0,566.0 L434.0,560.0 L436.0,556.0 L442.0,558.0 L448.0,550.0 L450.3,547.9 L450.3,540.6 L453.4,534.5 L458.6,536.5 L461.7,532.4 L463.7,535.5 L471.0,541.7 L477.2,542.7 L483.4,537.5 L489.5,528.3 L494.7,520.0 L497.0,508.0 L490.0,496.0 L488.0,488.0 L492.0,482.0 L486.0,482.0 L480.0,494.0 L484.0,500.0 L470.0,506.0 L464.0,510.0 L462.0,518.0 L452.0,521.0 L440.0,518.0 L426.0,512.0 L420.0,508.0 L418.0,506.0 L410.0,498.0 L408.0,488.0 L404.0,480.0 L398.0,474.0 L390.0,468.0 L382.0,462.0 L374.0,462.0 L366.0,454.0 L356.0,446.0 L344.0,438.0 L338.0,428.0 L325.0,422.0 L325.0,422.0 L315.0,422.0 L305.0,418.0 L295.0,410.0 L287.0,412.0 L277.0,404.0 L271.0,394.0 L261.0,384.0 L252.0,374.0 L246.0,374.0 L243.0,380.0 L235.0,386.0 L224.0,392.0 L215.0,392.0 L216.0,374.0 L206.0,364.0 L200.0,354.0 L190.0,346.0 L180.0,338.0 L172.0,332.0 L164.0,324.0 L162.0,321.0 L154.0,318.0 L148.0,313.0 L138.0,311.0 L126.0,313.0 L122.0,320.0 L119.0,327.0 L110.0,327.0 L100.0,328.0 L89.0,327.0 L88.0,323.0Z M600.0,305.5 L603.0,305.5 L606.0,308.0 L607.0,316.0 L611.0,321.0 L615.0,325.0 L621.0,323.5 L625.0,327.0 L624.0,331.0 L623.0,335.0 L626.5,337.7 L631.6,336.5 L634.0,331.0 L640.6,330.0 L644.5,328.7 L650.0,328.7 L656.0,328.7 L655.0,322.0 L658.7,320.0 L662.6,322.0 L665.0,328.7 L664.0,335.0 L662.6,343.0 L657.4,343.0 L656.0,337.7 L652.3,334.0 L652.3,341.6 L653.5,354.5 L652.3,362.3 L647.0,370.0 L640.6,375.0 L632.3,380.3 L627.1,390.6 L614.2,395.8 L612.9,411.3 L609.0,426.8 L608.0,424.1 L596.7,429.8 L592.4,427.0 L589.6,431.2 L581.0,441.2 L572.5,449.7 L561.2,452.5 L554.1,456.8 L545.5,455.4 L538.5,453.9 L531.4,459.6 L525.7,458.2 L527.1,453.9 L528.5,446.8 L534.2,442.6 L541.3,441.2 L544.8,432.6 L545.5,418.5 L547.1,416.5 L560.0,411.3 L575.5,406.1 L578.1,398.4 L588.4,393.2 L586.5,390.0 L586.5,379.0 L594.0,375.0 L594.0,362.0 L597.0,356.0 L602.0,358.0 L603.0,348.0 L606.0,342.0 L612.0,338.0 L619.0,335.0 L612.0,334.0 L610.0,330.0 L604.5,327.0 L603.0,322.0 L600.6,316.0Z" fill="none" stroke="#222" stroke-width="0.5"/>
<polyline points="531,459.6 537,466 539,472 538.5,479.5" fill="none" stroke="#000" stroke-width="1.8"/>
</svg></body></html>
